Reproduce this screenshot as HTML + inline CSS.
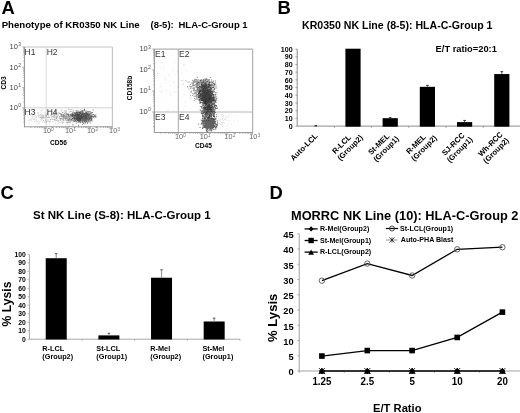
<!DOCTYPE html>
<html><head><meta charset="utf-8"><style>
html,body{margin:0;padding:0;background:#fff;width:520px;height:413px;overflow:hidden}
svg{display:block;will-change:transform}
text{font-family:"Liberation Sans", sans-serif}
</style></head><body>
<svg width="520" height="413" viewBox="0 0 520 413" font-family='"Liberation Sans", sans-serif'>
<defs><filter id="bl" x="-5%" y="-5%" width="110%" height="110%"><feGaussianBlur stdDeviation="0.35"/></filter></defs>
<rect width="520" height="413" fill="#fff"/>
<text x="1.40" y="13.90" font-size="18.4" font-weight="bold" text-anchor="start" fill="#000" >A</text>
<text x="277.60" y="13.90" font-size="18.4" font-weight="bold" text-anchor="start" fill="#000" >B</text>
<text x="0.60" y="199.40" font-size="18.4" font-weight="bold" text-anchor="start" fill="#000" >C</text>
<text x="269.60" y="199.40" font-size="18.4" font-weight="bold" text-anchor="start" fill="#000" >D</text>
<text x="1.70" y="28.00" font-size="9.65" font-weight="bold" text-anchor="start" fill="#000" >Phenotype of KR0350 NK Line</text>
<text x="150.50" y="28.00" font-size="9.5" font-weight="bold" text-anchor="start" fill="#000" >(8-5):</text>
<text x="178.50" y="28.00" font-size="9.5" font-weight="bold" text-anchor="start" fill="#000" >HLA-C-Group 1</text>
<line x1="24.50" y1="47.00" x2="112.40" y2="47.00" stroke="#c4c4c4" stroke-width="1.2" />
<line x1="112.40" y1="47.00" x2="112.40" y2="126.80" stroke="#c4c4c4" stroke-width="1.2" />
<line x1="46.20" y1="47.00" x2="46.20" y2="126.80" stroke="#d8d8d8" stroke-width="1" />
<line x1="24.50" y1="107.80" x2="112.40" y2="107.80" stroke="#d0d0d0" stroke-width="1" />
<line x1="24.50" y1="47.00" x2="24.50" y2="127.30" stroke="#9a9a9a" stroke-width="1.1" />
<line x1="24.00" y1="126.80" x2="112.40" y2="126.80" stroke="#9a9a9a" stroke-width="1.1" />
<line x1="23.20" y1="121.97" x2="24.50" y2="121.97" stroke="#9a9a9a" stroke-width="0.8" />
<line x1="23.20" y1="118.40" x2="24.50" y2="118.40" stroke="#9a9a9a" stroke-width="0.8" />
<line x1="23.20" y1="115.86" x2="24.50" y2="115.86" stroke="#9a9a9a" stroke-width="0.8" />
<line x1="23.20" y1="113.90" x2="24.50" y2="113.90" stroke="#9a9a9a" stroke-width="0.8" />
<line x1="23.20" y1="112.30" x2="24.50" y2="112.30" stroke="#9a9a9a" stroke-width="0.8" />
<line x1="23.20" y1="110.94" x2="24.50" y2="110.94" stroke="#9a9a9a" stroke-width="0.8" />
<line x1="23.20" y1="109.76" x2="24.50" y2="109.76" stroke="#9a9a9a" stroke-width="0.8" />
<line x1="23.20" y1="108.73" x2="24.50" y2="108.73" stroke="#9a9a9a" stroke-width="0.8" />
<line x1="22.30" y1="107.80" x2="24.50" y2="107.80" stroke="#9a9a9a" stroke-width="0.8" />
<line x1="23.20" y1="101.70" x2="24.50" y2="101.70" stroke="#9a9a9a" stroke-width="0.8" />
<line x1="23.20" y1="98.13" x2="24.50" y2="98.13" stroke="#9a9a9a" stroke-width="0.8" />
<line x1="23.20" y1="95.60" x2="24.50" y2="95.60" stroke="#9a9a9a" stroke-width="0.8" />
<line x1="23.20" y1="93.63" x2="24.50" y2="93.63" stroke="#9a9a9a" stroke-width="0.8" />
<line x1="23.20" y1="92.03" x2="24.50" y2="92.03" stroke="#9a9a9a" stroke-width="0.8" />
<line x1="23.20" y1="90.67" x2="24.50" y2="90.67" stroke="#9a9a9a" stroke-width="0.8" />
<line x1="23.20" y1="89.50" x2="24.50" y2="89.50" stroke="#9a9a9a" stroke-width="0.8" />
<line x1="23.20" y1="88.46" x2="24.50" y2="88.46" stroke="#9a9a9a" stroke-width="0.8" />
<line x1="22.30" y1="87.53" x2="24.50" y2="87.53" stroke="#9a9a9a" stroke-width="0.8" />
<line x1="23.20" y1="81.43" x2="24.50" y2="81.43" stroke="#9a9a9a" stroke-width="0.8" />
<line x1="23.20" y1="77.86" x2="24.50" y2="77.86" stroke="#9a9a9a" stroke-width="0.8" />
<line x1="23.20" y1="75.33" x2="24.50" y2="75.33" stroke="#9a9a9a" stroke-width="0.8" />
<line x1="23.20" y1="73.37" x2="24.50" y2="73.37" stroke="#9a9a9a" stroke-width="0.8" />
<line x1="23.20" y1="71.76" x2="24.50" y2="71.76" stroke="#9a9a9a" stroke-width="0.8" />
<line x1="23.20" y1="70.41" x2="24.50" y2="70.41" stroke="#9a9a9a" stroke-width="0.8" />
<line x1="23.20" y1="69.23" x2="24.50" y2="69.23" stroke="#9a9a9a" stroke-width="0.8" />
<line x1="23.20" y1="68.19" x2="24.50" y2="68.19" stroke="#9a9a9a" stroke-width="0.8" />
<line x1="22.30" y1="67.27" x2="24.50" y2="67.27" stroke="#9a9a9a" stroke-width="0.8" />
<line x1="23.20" y1="61.17" x2="24.50" y2="61.17" stroke="#9a9a9a" stroke-width="0.8" />
<line x1="23.20" y1="57.60" x2="24.50" y2="57.60" stroke="#9a9a9a" stroke-width="0.8" />
<line x1="23.20" y1="55.06" x2="24.50" y2="55.06" stroke="#9a9a9a" stroke-width="0.8" />
<line x1="23.20" y1="53.10" x2="24.50" y2="53.10" stroke="#9a9a9a" stroke-width="0.8" />
<line x1="23.20" y1="51.50" x2="24.50" y2="51.50" stroke="#9a9a9a" stroke-width="0.8" />
<line x1="23.20" y1="50.14" x2="24.50" y2="50.14" stroke="#9a9a9a" stroke-width="0.8" />
<line x1="23.20" y1="48.96" x2="24.50" y2="48.96" stroke="#9a9a9a" stroke-width="0.8" />
<line x1="23.20" y1="47.93" x2="24.50" y2="47.93" stroke="#9a9a9a" stroke-width="0.8" />
<line x1="30.78" y1="126.80" x2="30.78" y2="128.10" stroke="#9a9a9a" stroke-width="0.8" />
<line x1="34.66" y1="126.80" x2="34.66" y2="128.10" stroke="#9a9a9a" stroke-width="0.8" />
<line x1="37.42" y1="126.80" x2="37.42" y2="128.10" stroke="#9a9a9a" stroke-width="0.8" />
<line x1="39.56" y1="126.80" x2="39.56" y2="128.10" stroke="#9a9a9a" stroke-width="0.8" />
<line x1="41.30" y1="126.80" x2="41.30" y2="128.10" stroke="#9a9a9a" stroke-width="0.8" />
<line x1="42.78" y1="126.80" x2="42.78" y2="128.10" stroke="#9a9a9a" stroke-width="0.8" />
<line x1="44.06" y1="126.80" x2="44.06" y2="128.10" stroke="#9a9a9a" stroke-width="0.8" />
<line x1="45.19" y1="126.80" x2="45.19" y2="128.10" stroke="#9a9a9a" stroke-width="0.8" />
<line x1="46.20" y1="126.80" x2="46.20" y2="129.00" stroke="#9a9a9a" stroke-width="0.8" />
<line x1="52.84" y1="126.80" x2="52.84" y2="128.10" stroke="#9a9a9a" stroke-width="0.8" />
<line x1="56.73" y1="126.80" x2="56.73" y2="128.10" stroke="#9a9a9a" stroke-width="0.8" />
<line x1="59.49" y1="126.80" x2="59.49" y2="128.10" stroke="#9a9a9a" stroke-width="0.8" />
<line x1="61.62" y1="126.80" x2="61.62" y2="128.10" stroke="#9a9a9a" stroke-width="0.8" />
<line x1="63.37" y1="126.80" x2="63.37" y2="128.10" stroke="#9a9a9a" stroke-width="0.8" />
<line x1="64.85" y1="126.80" x2="64.85" y2="128.10" stroke="#9a9a9a" stroke-width="0.8" />
<line x1="66.13" y1="126.80" x2="66.13" y2="128.10" stroke="#9a9a9a" stroke-width="0.8" />
<line x1="67.26" y1="126.80" x2="67.26" y2="128.10" stroke="#9a9a9a" stroke-width="0.8" />
<line x1="68.27" y1="126.80" x2="68.27" y2="129.00" stroke="#9a9a9a" stroke-width="0.8" />
<line x1="74.91" y1="126.80" x2="74.91" y2="128.10" stroke="#9a9a9a" stroke-width="0.8" />
<line x1="78.80" y1="126.80" x2="78.80" y2="128.10" stroke="#9a9a9a" stroke-width="0.8" />
<line x1="81.55" y1="126.80" x2="81.55" y2="128.10" stroke="#9a9a9a" stroke-width="0.8" />
<line x1="83.69" y1="126.80" x2="83.69" y2="128.10" stroke="#9a9a9a" stroke-width="0.8" />
<line x1="85.44" y1="126.80" x2="85.44" y2="128.10" stroke="#9a9a9a" stroke-width="0.8" />
<line x1="86.92" y1="126.80" x2="86.92" y2="128.10" stroke="#9a9a9a" stroke-width="0.8" />
<line x1="88.19" y1="126.80" x2="88.19" y2="128.10" stroke="#9a9a9a" stroke-width="0.8" />
<line x1="89.32" y1="126.80" x2="89.32" y2="128.10" stroke="#9a9a9a" stroke-width="0.8" />
<line x1="90.33" y1="126.80" x2="90.33" y2="129.00" stroke="#9a9a9a" stroke-width="0.8" />
<line x1="96.98" y1="126.80" x2="96.98" y2="128.10" stroke="#9a9a9a" stroke-width="0.8" />
<line x1="100.86" y1="126.80" x2="100.86" y2="128.10" stroke="#9a9a9a" stroke-width="0.8" />
<line x1="103.62" y1="126.80" x2="103.62" y2="128.10" stroke="#9a9a9a" stroke-width="0.8" />
<line x1="105.76" y1="126.80" x2="105.76" y2="128.10" stroke="#9a9a9a" stroke-width="0.8" />
<line x1="107.50" y1="126.80" x2="107.50" y2="128.10" stroke="#9a9a9a" stroke-width="0.8" />
<line x1="108.98" y1="126.80" x2="108.98" y2="128.10" stroke="#9a9a9a" stroke-width="0.8" />
<line x1="110.26" y1="126.80" x2="110.26" y2="128.10" stroke="#9a9a9a" stroke-width="0.8" />
<line x1="111.39" y1="126.80" x2="111.39" y2="128.10" stroke="#9a9a9a" stroke-width="0.8" />
<line x1="112.40" y1="126.80" x2="112.40" y2="129.00" stroke="#9a9a9a" stroke-width="0.8" />
<line x1="22.30" y1="47.00" x2="24.50" y2="47.00" stroke="#9a9a9a" stroke-width="0.8" />
<text x="17.90" y="110.10" font-size="7.5" font-weight="normal" text-anchor="end" fill="#444" >10</text>
<text x="18.20" y="107.20" font-size="5.2" font-weight="normal" text-anchor="start" fill="#555" >0</text>
<text x="17.90" y="89.83" font-size="7.5" font-weight="normal" text-anchor="end" fill="#444" >10</text>
<text x="18.20" y="86.93" font-size="5.2" font-weight="normal" text-anchor="start" fill="#555" >1</text>
<text x="17.90" y="69.57" font-size="7.5" font-weight="normal" text-anchor="end" fill="#444" >10</text>
<text x="18.20" y="66.67" font-size="5.2" font-weight="normal" text-anchor="start" fill="#555" >2</text>
<text x="17.90" y="49.30" font-size="7.5" font-weight="normal" text-anchor="end" fill="#444" >10</text>
<text x="18.20" y="46.40" font-size="5.2" font-weight="normal" text-anchor="start" fill="#555" >3</text>
<text x="42.90" y="133.40" font-size="7.3" font-weight="normal" text-anchor="start" fill="#666" >10</text>
<text x="51.00" y="130.80" font-size="5" font-weight="normal" text-anchor="start" fill="#777" >0</text>
<text x="64.97" y="133.40" font-size="7.3" font-weight="normal" text-anchor="start" fill="#666" >10</text>
<text x="73.07" y="130.80" font-size="5" font-weight="normal" text-anchor="start" fill="#777" >1</text>
<text x="87.03" y="133.40" font-size="7.3" font-weight="normal" text-anchor="start" fill="#666" >10</text>
<text x="95.13" y="130.80" font-size="5" font-weight="normal" text-anchor="start" fill="#777" >2</text>
<text x="109.10" y="133.40" font-size="7.3" font-weight="normal" text-anchor="start" fill="#666" >10</text>
<text x="117.20" y="130.80" font-size="5" font-weight="normal" text-anchor="start" fill="#777" >3</text>
<text x="24.60" y="54.70" font-size="8.5" font-weight="normal" text-anchor="start" fill="#333" >H1</text>
<text x="46.70" y="54.70" font-size="8.5" font-weight="normal" text-anchor="start" fill="#333" >H2</text>
<text x="24.60" y="114.70" font-size="8.5" font-weight="normal" text-anchor="start" fill="#333" >H3</text>
<text x="46.70" y="114.70" font-size="8.5" font-weight="normal" text-anchor="start" fill="#333" >H4</text>
<text x="58.50" y="145.00" font-size="6.6" font-weight="bold" text-anchor="middle" fill="#000" >CD56</text>
<text x="0.00" y="0.00" font-size="6.6" font-weight="bold" text-anchor="middle" fill="#000" transform="translate(6.2,83) rotate(-90)">CD3</text>
<line x1="154.40" y1="49.10" x2="252.60" y2="49.10" stroke="#b0b0b0" stroke-width="1.2" />
<line x1="252.60" y1="49.10" x2="252.60" y2="132.50" stroke="#b0b0b0" stroke-width="1.2" />
<line x1="178.30" y1="49.10" x2="178.30" y2="132.50" stroke="#a8a8a8" stroke-width="1" />
<line x1="154.40" y1="112.00" x2="252.60" y2="112.00" stroke="#b4b4b4" stroke-width="1" />
<line x1="154.40" y1="49.10" x2="154.40" y2="133.00" stroke="#9a9a9a" stroke-width="1.1" />
<line x1="153.90" y1="132.50" x2="252.60" y2="132.50" stroke="#9a9a9a" stroke-width="1.1" />
<line x1="153.10" y1="126.66" x2="154.40" y2="126.66" stroke="#9a9a9a" stroke-width="0.8" />
<line x1="153.10" y1="122.96" x2="154.40" y2="122.96" stroke="#9a9a9a" stroke-width="0.8" />
<line x1="153.10" y1="120.34" x2="154.40" y2="120.34" stroke="#9a9a9a" stroke-width="0.8" />
<line x1="153.10" y1="118.31" x2="154.40" y2="118.31" stroke="#9a9a9a" stroke-width="0.8" />
<line x1="153.10" y1="116.65" x2="154.40" y2="116.65" stroke="#9a9a9a" stroke-width="0.8" />
<line x1="153.10" y1="115.25" x2="154.40" y2="115.25" stroke="#9a9a9a" stroke-width="0.8" />
<line x1="153.10" y1="114.03" x2="154.40" y2="114.03" stroke="#9a9a9a" stroke-width="0.8" />
<line x1="153.10" y1="112.96" x2="154.40" y2="112.96" stroke="#9a9a9a" stroke-width="0.8" />
<line x1="152.20" y1="112.00" x2="154.40" y2="112.00" stroke="#9a9a9a" stroke-width="0.8" />
<line x1="153.10" y1="105.69" x2="154.40" y2="105.69" stroke="#9a9a9a" stroke-width="0.8" />
<line x1="153.10" y1="102.00" x2="154.40" y2="102.00" stroke="#9a9a9a" stroke-width="0.8" />
<line x1="153.10" y1="99.38" x2="154.40" y2="99.38" stroke="#9a9a9a" stroke-width="0.8" />
<line x1="153.10" y1="97.34" x2="154.40" y2="97.34" stroke="#9a9a9a" stroke-width="0.8" />
<line x1="153.10" y1="95.68" x2="154.40" y2="95.68" stroke="#9a9a9a" stroke-width="0.8" />
<line x1="153.10" y1="94.28" x2="154.40" y2="94.28" stroke="#9a9a9a" stroke-width="0.8" />
<line x1="153.10" y1="93.07" x2="154.40" y2="93.07" stroke="#9a9a9a" stroke-width="0.8" />
<line x1="153.10" y1="91.99" x2="154.40" y2="91.99" stroke="#9a9a9a" stroke-width="0.8" />
<line x1="152.20" y1="91.03" x2="154.40" y2="91.03" stroke="#9a9a9a" stroke-width="0.8" />
<line x1="153.10" y1="84.72" x2="154.40" y2="84.72" stroke="#9a9a9a" stroke-width="0.8" />
<line x1="153.10" y1="81.03" x2="154.40" y2="81.03" stroke="#9a9a9a" stroke-width="0.8" />
<line x1="153.10" y1="78.41" x2="154.40" y2="78.41" stroke="#9a9a9a" stroke-width="0.8" />
<line x1="153.10" y1="76.38" x2="154.40" y2="76.38" stroke="#9a9a9a" stroke-width="0.8" />
<line x1="153.10" y1="74.72" x2="154.40" y2="74.72" stroke="#9a9a9a" stroke-width="0.8" />
<line x1="153.10" y1="73.31" x2="154.40" y2="73.31" stroke="#9a9a9a" stroke-width="0.8" />
<line x1="153.10" y1="72.10" x2="154.40" y2="72.10" stroke="#9a9a9a" stroke-width="0.8" />
<line x1="153.10" y1="71.03" x2="154.40" y2="71.03" stroke="#9a9a9a" stroke-width="0.8" />
<line x1="152.20" y1="70.07" x2="154.40" y2="70.07" stroke="#9a9a9a" stroke-width="0.8" />
<line x1="153.10" y1="63.76" x2="154.40" y2="63.76" stroke="#9a9a9a" stroke-width="0.8" />
<line x1="153.10" y1="60.06" x2="154.40" y2="60.06" stroke="#9a9a9a" stroke-width="0.8" />
<line x1="153.10" y1="57.44" x2="154.40" y2="57.44" stroke="#9a9a9a" stroke-width="0.8" />
<line x1="153.10" y1="55.41" x2="154.40" y2="55.41" stroke="#9a9a9a" stroke-width="0.8" />
<line x1="153.10" y1="53.75" x2="154.40" y2="53.75" stroke="#9a9a9a" stroke-width="0.8" />
<line x1="153.10" y1="52.35" x2="154.40" y2="52.35" stroke="#9a9a9a" stroke-width="0.8" />
<line x1="153.10" y1="51.13" x2="154.40" y2="51.13" stroke="#9a9a9a" stroke-width="0.8" />
<line x1="153.10" y1="50.06" x2="154.40" y2="50.06" stroke="#9a9a9a" stroke-width="0.8" />
<line x1="160.99" y1="132.50" x2="160.99" y2="133.80" stroke="#9a9a9a" stroke-width="0.8" />
<line x1="165.35" y1="132.50" x2="165.35" y2="133.80" stroke="#9a9a9a" stroke-width="0.8" />
<line x1="168.44" y1="132.50" x2="168.44" y2="133.80" stroke="#9a9a9a" stroke-width="0.8" />
<line x1="170.84" y1="132.50" x2="170.84" y2="133.80" stroke="#9a9a9a" stroke-width="0.8" />
<line x1="172.81" y1="132.50" x2="172.81" y2="133.80" stroke="#9a9a9a" stroke-width="0.8" />
<line x1="174.46" y1="132.50" x2="174.46" y2="133.80" stroke="#9a9a9a" stroke-width="0.8" />
<line x1="175.90" y1="132.50" x2="175.90" y2="133.80" stroke="#9a9a9a" stroke-width="0.8" />
<line x1="177.17" y1="132.50" x2="177.17" y2="133.80" stroke="#9a9a9a" stroke-width="0.8" />
<line x1="178.30" y1="132.50" x2="178.30" y2="134.70" stroke="#9a9a9a" stroke-width="0.8" />
<line x1="185.76" y1="132.50" x2="185.76" y2="133.80" stroke="#9a9a9a" stroke-width="0.8" />
<line x1="190.12" y1="132.50" x2="190.12" y2="133.80" stroke="#9a9a9a" stroke-width="0.8" />
<line x1="193.21" y1="132.50" x2="193.21" y2="133.80" stroke="#9a9a9a" stroke-width="0.8" />
<line x1="195.61" y1="132.50" x2="195.61" y2="133.80" stroke="#9a9a9a" stroke-width="0.8" />
<line x1="197.57" y1="132.50" x2="197.57" y2="133.80" stroke="#9a9a9a" stroke-width="0.8" />
<line x1="199.23" y1="132.50" x2="199.23" y2="133.80" stroke="#9a9a9a" stroke-width="0.8" />
<line x1="200.67" y1="132.50" x2="200.67" y2="133.80" stroke="#9a9a9a" stroke-width="0.8" />
<line x1="201.93" y1="132.50" x2="201.93" y2="133.80" stroke="#9a9a9a" stroke-width="0.8" />
<line x1="203.07" y1="132.50" x2="203.07" y2="134.70" stroke="#9a9a9a" stroke-width="0.8" />
<line x1="210.52" y1="132.50" x2="210.52" y2="133.80" stroke="#9a9a9a" stroke-width="0.8" />
<line x1="214.88" y1="132.50" x2="214.88" y2="133.80" stroke="#9a9a9a" stroke-width="0.8" />
<line x1="217.98" y1="132.50" x2="217.98" y2="133.80" stroke="#9a9a9a" stroke-width="0.8" />
<line x1="220.38" y1="132.50" x2="220.38" y2="133.80" stroke="#9a9a9a" stroke-width="0.8" />
<line x1="222.34" y1="132.50" x2="222.34" y2="133.80" stroke="#9a9a9a" stroke-width="0.8" />
<line x1="224.00" y1="132.50" x2="224.00" y2="133.80" stroke="#9a9a9a" stroke-width="0.8" />
<line x1="225.43" y1="132.50" x2="225.43" y2="133.80" stroke="#9a9a9a" stroke-width="0.8" />
<line x1="226.70" y1="132.50" x2="226.70" y2="133.80" stroke="#9a9a9a" stroke-width="0.8" />
<line x1="227.83" y1="132.50" x2="227.83" y2="134.70" stroke="#9a9a9a" stroke-width="0.8" />
<line x1="235.29" y1="132.50" x2="235.29" y2="133.80" stroke="#9a9a9a" stroke-width="0.8" />
<line x1="239.65" y1="132.50" x2="239.65" y2="133.80" stroke="#9a9a9a" stroke-width="0.8" />
<line x1="242.74" y1="132.50" x2="242.74" y2="133.80" stroke="#9a9a9a" stroke-width="0.8" />
<line x1="245.14" y1="132.50" x2="245.14" y2="133.80" stroke="#9a9a9a" stroke-width="0.8" />
<line x1="247.11" y1="132.50" x2="247.11" y2="133.80" stroke="#9a9a9a" stroke-width="0.8" />
<line x1="248.76" y1="132.50" x2="248.76" y2="133.80" stroke="#9a9a9a" stroke-width="0.8" />
<line x1="250.20" y1="132.50" x2="250.20" y2="133.80" stroke="#9a9a9a" stroke-width="0.8" />
<line x1="251.47" y1="132.50" x2="251.47" y2="133.80" stroke="#9a9a9a" stroke-width="0.8" />
<line x1="252.60" y1="132.50" x2="252.60" y2="134.70" stroke="#9a9a9a" stroke-width="0.8" />
<line x1="152.20" y1="49.10" x2="154.40" y2="49.10" stroke="#9a9a9a" stroke-width="0.8" />
<text x="147.80" y="114.30" font-size="7.5" font-weight="normal" text-anchor="end" fill="#444" >10</text>
<text x="148.10" y="111.40" font-size="5.2" font-weight="normal" text-anchor="start" fill="#555" >0</text>
<text x="147.80" y="93.33" font-size="7.5" font-weight="normal" text-anchor="end" fill="#444" >10</text>
<text x="148.10" y="90.43" font-size="5.2" font-weight="normal" text-anchor="start" fill="#555" >1</text>
<text x="147.80" y="72.37" font-size="7.5" font-weight="normal" text-anchor="end" fill="#444" >10</text>
<text x="148.10" y="69.47" font-size="5.2" font-weight="normal" text-anchor="start" fill="#555" >2</text>
<text x="147.80" y="51.40" font-size="7.5" font-weight="normal" text-anchor="end" fill="#444" >10</text>
<text x="148.10" y="48.50" font-size="5.2" font-weight="normal" text-anchor="start" fill="#555" >3</text>
<text x="175.00" y="139.10" font-size="7.3" font-weight="normal" text-anchor="start" fill="#666" >10</text>
<text x="183.10" y="136.50" font-size="5" font-weight="normal" text-anchor="start" fill="#777" >0</text>
<text x="199.77" y="139.10" font-size="7.3" font-weight="normal" text-anchor="start" fill="#666" >10</text>
<text x="207.87" y="136.50" font-size="5" font-weight="normal" text-anchor="start" fill="#777" >1</text>
<text x="224.53" y="139.10" font-size="7.3" font-weight="normal" text-anchor="start" fill="#666" >10</text>
<text x="232.63" y="136.50" font-size="5" font-weight="normal" text-anchor="start" fill="#777" >2</text>
<text x="249.30" y="139.10" font-size="7.3" font-weight="normal" text-anchor="start" fill="#666" >10</text>
<text x="257.40" y="136.50" font-size="5" font-weight="normal" text-anchor="start" fill="#777" >3</text>
<text x="155.00" y="57.10" font-size="8.5" font-weight="normal" text-anchor="start" fill="#333" >E1</text>
<text x="179.00" y="57.10" font-size="8.5" font-weight="normal" text-anchor="start" fill="#333" >E2</text>
<text x="155.00" y="119.60" font-size="8.5" font-weight="normal" text-anchor="start" fill="#333" >E3</text>
<text x="179.00" y="119.60" font-size="8.5" font-weight="normal" text-anchor="start" fill="#333" >E4</text>
<text x="203.50" y="147.50" font-size="6.6" font-weight="bold" text-anchor="middle" fill="#000" >CD45</text>
<text x="0.00" y="0.00" font-size="6.6" font-weight="bold" text-anchor="middle" fill="#000" transform="translate(132.3,88) rotate(-90)">CD158b</text>
<g filter="url(#bl)">
<path d="M92.7 109.6h.9v.9h-.9zM84.6 114.7h.9v.9h-.9zM80.2 115.6h.9v.9h-.9zM72.4 115.6h.9v.9h-.9zM78.2 124.8h.9v.9h-.9zM83.6 115.3h.9v.9h-.9zM81.1 114.5h.9v.9h-.9zM77.2 115.2h.9v.9h-.9zM84.9 115.6h.9v.9h-.9zM87.3 115.7h.9v.9h-.9zM82.6 120.2h.9v.9h-.9zM85.2 114.9h.9v.9h-.9zM81.6 117.6h.9v.9h-.9zM92.2 115.5h.9v.9h-.9zM81.3 118.8h.9v.9h-.9zM78.1 115.4h.9v.9h-.9zM86.9 117.7h.9v.9h-.9zM83.0 117.9h.9v.9h-.9zM68.4 118.9h.9v.9h-.9zM77.7 111.9h.9v.9h-.9zM83.9 118.0h.9v.9h-.9zM80.3 113.4h.9v.9h-.9zM82.6 116.1h.9v.9h-.9zM89.5 118.1h.9v.9h-.9zM83.5 119.1h.9v.9h-.9zM81.5 113.8h.9v.9h-.9zM85.4 117.7h.9v.9h-.9zM81.4 114.2h.9v.9h-.9zM83.6 109.7h.9v.9h-.9zM86.0 117.5h.9v.9h-.9zM74.3 116.4h.9v.9h-.9zM77.7 118.2h.9v.9h-.9zM72.3 113.8h.9v.9h-.9zM86.0 119.2h.9v.9h-.9zM71.7 114.9h.9v.9h-.9zM84.1 114.6h.9v.9h-.9zM90.5 113.1h.9v.9h-.9zM84.3 113.5h.9v.9h-.9zM89.5 116.1h.9v.9h-.9zM80.6 111.7h.9v.9h-.9zM90.9 118.2h.9v.9h-.9zM86.3 119.2h.9v.9h-.9zM84.2 114.5h.9v.9h-.9zM78.5 114.1h.9v.9h-.9zM89.4 112.4h.9v.9h-.9zM79.5 115.4h.9v.9h-.9zM83.6 117.7h.9v.9h-.9zM76.3 111.7h.9v.9h-.9zM82.5 119.4h.9v.9h-.9zM86.3 116.8h.9v.9h-.9zM80.9 117.0h.9v.9h-.9zM81.3 118.3h.9v.9h-.9zM78.5 116.5h.9v.9h-.9zM81.9 117.6h.9v.9h-.9zM83.6 122.8h.9v.9h-.9zM90.0 120.1h.9v.9h-.9zM72.3 115.3h.9v.9h-.9zM79.5 117.6h.9v.9h-.9zM71.1 119.3h.9v.9h-.9zM87.8 112.8h.9v.9h-.9zM77.6 114.1h.9v.9h-.9zM82.7 117.9h.9v.9h-.9zM92.7 115.7h.9v.9h-.9zM86.3 116.6h.9v.9h-.9zM91.3 118.1h.9v.9h-.9zM89.3 113.4h.9v.9h-.9zM81.5 114.1h.9v.9h-.9zM90.0 117.9h.9v.9h-.9zM81.0 115.0h.9v.9h-.9zM84.9 114.4h.9v.9h-.9zM77.8 117.5h.9v.9h-.9zM94.8 115.6h.9v.9h-.9zM79.7 113.2h.9v.9h-.9zM75.8 117.6h.9v.9h-.9zM86.8 116.2h.9v.9h-.9zM84.2 116.5h.9v.9h-.9zM83.2 112.2h.9v.9h-.9zM80.2 116.5h.9v.9h-.9zM78.6 115.0h.9v.9h-.9zM78.4 115.3h.9v.9h-.9zM86.8 115.1h.9v.9h-.9zM81.7 118.3h.9v.9h-.9zM85.7 120.6h.9v.9h-.9zM72.0 118.4h.9v.9h-.9zM80.1 116.6h.9v.9h-.9zM86.7 119.0h.9v.9h-.9zM87.7 116.6h.9v.9h-.9zM90.5 115.5h.9v.9h-.9zM81.8 118.3h.9v.9h-.9zM79.7 121.8h.9v.9h-.9zM87.6 121.9h.9v.9h-.9zM82.4 115.2h.9v.9h-.9zM83.3 118.1h.9v.9h-.9zM79.6 117.2h.9v.9h-.9zM82.4 120.4h.9v.9h-.9zM79.2 118.9h.9v.9h-.9zM79.3 113.7h.9v.9h-.9zM78.9 113.1h.9v.9h-.9zM83.2 118.9h.9v.9h-.9zM83.3 117.8h.9v.9h-.9zM90.7 116.9h.9v.9h-.9zM83.5 115.5h.9v.9h-.9zM74.5 118.2h.9v.9h-.9zM73.7 117.9h.9v.9h-.9zM82.4 119.1h.9v.9h-.9zM82.2 114.1h.9v.9h-.9zM84.3 114.7h.9v.9h-.9zM81.6 116.3h.9v.9h-.9zM81.8 115.7h.9v.9h-.9zM78.3 115.7h.9v.9h-.9zM71.8 115.8h.9v.9h-.9zM76.5 119.1h.9v.9h-.9zM88.8 111.1h.9v.9h-.9zM83.2 115.9h.9v.9h-.9zM77.3 117.6h.9v.9h-.9zM80.2 111.6h.9v.9h-.9zM81.2 115.8h.9v.9h-.9zM83.0 113.0h.9v.9h-.9zM85.6 118.1h.9v.9h-.9zM76.8 114.5h.9v.9h-.9zM82.1 114.7h.9v.9h-.9zM91.2 116.7h.9v.9h-.9zM77.4 114.2h.9v.9h-.9zM82.2 122.2h.9v.9h-.9zM81.6 116.5h.9v.9h-.9zM85.1 116.1h.9v.9h-.9zM93.9 114.8h.9v.9h-.9zM86.2 116.6h.9v.9h-.9zM85.6 113.1h.9v.9h-.9zM91.3 115.9h.9v.9h-.9zM82.7 113.8h.9v.9h-.9zM78.9 117.7h.9v.9h-.9zM87.4 118.2h.9v.9h-.9zM88.5 118.1h.9v.9h-.9zM82.6 118.4h.9v.9h-.9zM85.5 115.9h.9v.9h-.9zM86.1 119.5h.9v.9h-.9zM83.7 115.3h.9v.9h-.9zM86.1 121.1h.9v.9h-.9zM81.4 116.0h.9v.9h-.9zM81.8 119.4h.9v.9h-.9zM73.3 117.2h.9v.9h-.9zM88.5 114.1h.9v.9h-.9zM89.9 117.6h.9v.9h-.9zM79.8 116.7h.9v.9h-.9zM74.8 114.7h.9v.9h-.9zM91.6 113.9h.9v.9h-.9zM91.7 116.0h.9v.9h-.9zM87.5 116.3h.9v.9h-.9zM71.3 114.7h.9v.9h-.9zM83.4 113.2h.9v.9h-.9zM75.8 117.2h.9v.9h-.9zM79.3 111.8h.9v.9h-.9zM79.1 118.4h.9v.9h-.9zM80.1 118.6h.9v.9h-.9zM90.1 116.3h.9v.9h-.9zM76.9 112.8h.9v.9h-.9zM82.4 118.5h.9v.9h-.9zM83.8 117.6h.9v.9h-.9zM80.3 117.0h.9v.9h-.9zM80.1 115.4h.9v.9h-.9zM76.0 112.1h.9v.9h-.9zM80.1 113.3h.9v.9h-.9zM77.7 117.9h.9v.9h-.9zM82.0 123.8h.9v.9h-.9zM87.1 114.6h.9v.9h-.9zM86.4 117.1h.9v.9h-.9zM79.1 119.1h.9v.9h-.9zM86.5 114.6h.9v.9h-.9zM89.9 114.5h.9v.9h-.9zM76.6 120.2h.9v.9h-.9zM77.1 116.7h.9v.9h-.9zM89.7 116.5h.9v.9h-.9zM82.1 116.5h.9v.9h-.9zM86.7 114.1h.9v.9h-.9zM85.6 117.7h.9v.9h-.9zM94.2 115.3h.9v.9h-.9zM77.9 118.1h.9v.9h-.9zM80.5 117.0h.9v.9h-.9zM83.2 119.2h.9v.9h-.9zM79.2 116.0h.9v.9h-.9zM69.7 113.9h.9v.9h-.9zM90.2 114.4h.9v.9h-.9zM79.0 113.0h.9v.9h-.9zM85.4 116.7h.9v.9h-.9zM76.6 117.9h.9v.9h-.9zM83.8 118.2h.9v.9h-.9zM79.3 120.7h.9v.9h-.9zM84.5 115.9h.9v.9h-.9zM79.9 115.6h.9v.9h-.9zM86.8 115.5h.9v.9h-.9zM87.9 117.7h.9v.9h-.9zM89.2 118.3h.9v.9h-.9zM82.2 111.2h.9v.9h-.9zM84.0 118.3h.9v.9h-.9zM83.3 117.6h.9v.9h-.9zM80.1 115.2h.9v.9h-.9zM77.8 119.7h.9v.9h-.9zM83.3 114.9h.9v.9h-.9zM75.8 115.8h.9v.9h-.9zM89.7 117.4h.9v.9h-.9zM78.9 119.9h.9v.9h-.9zM89.6 118.8h.9v.9h-.9zM86.4 119.2h.9v.9h-.9zM85.2 118.2h.9v.9h-.9zM78.6 120.1h.9v.9h-.9zM83.7 121.5h.9v.9h-.9zM72.3 118.0h.9v.9h-.9zM87.4 115.3h.9v.9h-.9zM84.8 118.1h.9v.9h-.9zM85.4 114.8h.9v.9h-.9zM81.8 118.8h.9v.9h-.9zM88.9 116.5h.9v.9h-.9zM82.9 116.7h.9v.9h-.9zM87.7 113.5h.9v.9h-.9zM75.9 116.5h.9v.9h-.9zM77.0 114.7h.9v.9h-.9zM82.9 117.5h.9v.9h-.9zM77.1 118.3h.9v.9h-.9zM73.6 117.6h.9v.9h-.9zM74.6 112.9h.9v.9h-.9zM85.7 115.1h.9v.9h-.9zM78.5 115.0h.9v.9h-.9zM84.8 116.1h.9v.9h-.9zM82.4 118.9h.9v.9h-.9zM78.9 115.0h.9v.9h-.9zM79.9 119.2h.9v.9h-.9zM87.5 119.5h.9v.9h-.9zM82.3 115.8h.9v.9h-.9zM86.8 115.2h.9v.9h-.9zM86.7 118.1h.9v.9h-.9zM79.0 116.0h.9v.9h-.9zM81.9 120.7h.9v.9h-.9zM95.4 115.9h.9v.9h-.9zM82.6 110.3h.9v.9h-.9zM83.6 116.2h.9v.9h-.9zM77.1 118.2h.9v.9h-.9zM74.7 115.6h.9v.9h-.9zM83.2 113.0h.9v.9h-.9zM86.8 118.9h.9v.9h-.9zM75.6 112.5h.9v.9h-.9zM85.5 116.1h.9v.9h-.9zM76.4 115.4h.9v.9h-.9zM82.0 115.8h.9v.9h-.9zM86.6 117.2h.9v.9h-.9zM91.3 119.8h.9v.9h-.9zM85.9 119.0h.9v.9h-.9zM89.1 118.0h.9v.9h-.9zM76.4 118.4h.9v.9h-.9zM82.9 120.4h.9v.9h-.9zM83.0 117.6h.9v.9h-.9zM84.1 120.6h.9v.9h-.9zM83.4 115.5h.9v.9h-.9zM84.0 115.1h.9v.9h-.9zM83.3 116.2h.9v.9h-.9zM83.9 121.2h.9v.9h-.9zM80.5 116.3h.9v.9h-.9zM81.5 117.9h.9v.9h-.9zM76.6 114.4h.9v.9h-.9zM82.3 117.6h.9v.9h-.9zM82.3 114.9h.9v.9h-.9zM78.2 117.5h.9v.9h-.9zM89.7 117.0h.9v.9h-.9zM83.4 117.4h.9v.9h-.9zM77.8 115.4h.9v.9h-.9zM81.2 117.0h.9v.9h-.9zM82.3 113.0h.9v.9h-.9zM88.1 120.6h.9v.9h-.9zM81.2 117.2h.9v.9h-.9zM83.8 118.2h.9v.9h-.9zM75.1 120.4h.9v.9h-.9zM80.2 119.5h.9v.9h-.9zM82.9 115.2h.9v.9h-.9zM81.8 118.5h.9v.9h-.9zM78.2 115.2h.9v.9h-.9zM80.1 111.7h.9v.9h-.9zM89.0 117.7h.9v.9h-.9zM82.4 119.2h.9v.9h-.9zM77.7 116.0h.9v.9h-.9zM91.1 118.7h.9v.9h-.9zM77.3 119.0h.9v.9h-.9zM80.1 115.6h.9v.9h-.9zM85.5 113.9h.9v.9h-.9zM83.6 118.3h.9v.9h-.9zM84.8 117.2h.9v.9h-.9zM79.5 117.5h.9v.9h-.9zM80.4 119.6h.9v.9h-.9zM95.4 114.3h.9v.9h-.9zM71.6 115.1h.9v.9h-.9zM84.4 118.9h.9v.9h-.9zM87.9 114.2h.9v.9h-.9zM78.5 119.5h.9v.9h-.9zM77.0 119.0h.9v.9h-.9zM81.4 118.2h.9v.9h-.9zM86.0 118.2h.9v.9h-.9zM86.6 113.6h.9v.9h-.9zM84.0 116.2h.9v.9h-.9zM84.0 119.4h.9v.9h-.9zM81.1 114.3h.9v.9h-.9zM78.9 115.4h.9v.9h-.9zM86.3 114.1h.9v.9h-.9zM88.3 117.0h.9v.9h-.9zM81.4 112.7h.9v.9h-.9zM83.7 118.0h.9v.9h-.9zM73.7 119.3h.9v.9h-.9zM90.7 117.1h.9v.9h-.9zM85.0 122.5h.9v.9h-.9zM88.7 113.9h.9v.9h-.9zM82.4 115.8h.9v.9h-.9zM81.7 110.1h.9v.9h-.9zM86.3 114.5h.9v.9h-.9zM83.3 115.8h.9v.9h-.9zM86.9 115.4h.9v.9h-.9zM78.5 117.6h.9v.9h-.9zM89.5 115.4h.9v.9h-.9zM89.3 116.9h.9v.9h-.9zM79.8 120.2h.9v.9h-.9zM78.4 118.8h.9v.9h-.9zM80.0 117.4h.9v.9h-.9zM76.3 114.0h.9v.9h-.9zM87.8 116.7h.9v.9h-.9zM82.7 115.1h.9v.9h-.9zM84.7 112.6h.9v.9h-.9zM76.9 115.8h.9v.9h-.9zM78.3 114.4h.9v.9h-.9zM82.1 115.8h.9v.9h-.9zM81.4 120.5h.9v.9h-.9zM87.6 119.4h.9v.9h-.9zM82.4 114.9h.9v.9h-.9zM75.2 115.3h.9v.9h-.9zM72.1 114.7h.9v.9h-.9zM86.3 120.4h.9v.9h-.9zM87.3 114.0h.9v.9h-.9zM85.0 114.1h.9v.9h-.9zM86.6 115.9h.9v.9h-.9zM86.8 122.9h.9v.9h-.9zM87.1 122.3h.9v.9h-.9zM83.4 115.3h.9v.9h-.9zM89.2 120.7h.9v.9h-.9zM79.7 116.4h.9v.9h-.9zM75.3 115.7h.9v.9h-.9zM86.9 116.0h.9v.9h-.9zM79.7 112.5h.9v.9h-.9zM84.3 118.3h.9v.9h-.9zM85.5 116.9h.9v.9h-.9zM76.1 120.8h.9v.9h-.9zM82.2 115.8h.9v.9h-.9zM86.2 110.6h.9v.9h-.9zM82.2 115.8h.9v.9h-.9zM84.4 119.7h.9v.9h-.9zM84.9 111.4h.9v.9h-.9zM80.8 116.7h.9v.9h-.9zM83.2 112.9h.9v.9h-.9zM74.2 117.6h.9v.9h-.9zM84.2 116.1h.9v.9h-.9zM73.9 120.8h.9v.9h-.9zM68.0 115.3h.9v.9h-.9zM93.0 115.8h.9v.9h-.9zM83.7 113.1h.9v.9h-.9zM89.3 112.8h.9v.9h-.9zM83.8 116.6h.9v.9h-.9zM77.2 118.5h.9v.9h-.9zM75.4 114.4h.9v.9h-.9zM82.4 115.1h.9v.9h-.9zM84.8 118.6h.9v.9h-.9zM81.0 114.8h.9v.9h-.9zM79.9 115.2h.9v.9h-.9zM86.5 115.6h.9v.9h-.9zM84.5 116.0h.9v.9h-.9zM78.3 118.4h.9v.9h-.9zM77.3 116.2h.9v.9h-.9zM89.9 113.4h.9v.9h-.9zM82.2 112.1h.9v.9h-.9zM80.0 112.3h.9v.9h-.9zM80.7 114.8h.9v.9h-.9zM83.2 120.3h.9v.9h-.9zM83.9 117.9h.9v.9h-.9zM82.2 115.6h.9v.9h-.9zM78.3 111.5h.9v.9h-.9zM82.8 120.4h.9v.9h-.9zM84.9 114.8h.9v.9h-.9zM90.7 115.1h.9v.9h-.9zM79.4 113.0h.9v.9h-.9zM77.7 115.6h.9v.9h-.9zM92.5 115.7h.9v.9h-.9zM77.3 114.6h.9v.9h-.9zM81.4 111.7h.9v.9h-.9zM83.1 118.0h.9v.9h-.9zM84.1 117.8h.9v.9h-.9zM76.1 111.8h.9v.9h-.9zM88.9 119.0h.9v.9h-.9zM74.8 116.7h.9v.9h-.9zM82.6 117.6h.9v.9h-.9zM83.5 114.9h.9v.9h-.9zM83.5 116.6h.9v.9h-.9zM82.3 111.4h.9v.9h-.9zM67.5 114.1h.9v.9h-.9zM74.3 116.9h.9v.9h-.9zM86.1 116.9h.9v.9h-.9zM80.7 116.4h.9v.9h-.9zM88.3 114.3h.9v.9h-.9zM87.1 118.0h.9v.9h-.9zM83.8 120.0h.9v.9h-.9zM78.9 118.7h.9v.9h-.9zM77.9 114.2h.9v.9h-.9zM77.2 117.4h.9v.9h-.9zM77.8 116.3h.9v.9h-.9zM76.8 119.0h.9v.9h-.9zM91.7 116.8h.9v.9h-.9zM90.7 117.7h.9v.9h-.9zM93.3 116.5h.9v.9h-.9zM74.6 120.1h.9v.9h-.9zM81.9 113.5h.9v.9h-.9zM79.2 112.0h.9v.9h-.9zM81.7 113.4h.9v.9h-.9zM89.9 117.9h.9v.9h-.9zM74.2 112.3h.9v.9h-.9zM79.7 111.2h.9v.9h-.9zM82.0 116.1h.9v.9h-.9zM78.6 114.8h.9v.9h-.9zM85.0 119.9h.9v.9h-.9zM90.0 116.3h.9v.9h-.9zM86.8 114.3h.9v.9h-.9zM84.6 113.7h.9v.9h-.9zM86.1 113.0h.9v.9h-.9zM77.7 116.2h.9v.9h-.9zM85.3 112.5h.9v.9h-.9zM79.8 116.6h.9v.9h-.9zM83.6 114.0h.9v.9h-.9zM83.0 115.5h.9v.9h-.9zM89.5 117.6h.9v.9h-.9zM75.9 110.5h.9v.9h-.9zM83.0 119.3h.9v.9h-.9zM83.4 118.5h.9v.9h-.9zM80.1 112.7h.9v.9h-.9zM86.2 116.5h.9v.9h-.9zM85.9 112.6h.9v.9h-.9zM83.4 114.6h.9v.9h-.9zM86.5 114.7h.9v.9h-.9zM79.5 114.7h.9v.9h-.9zM88.8 116.3h.9v.9h-.9zM78.7 113.5h.9v.9h-.9zM77.3 120.0h.9v.9h-.9zM73.4 114.0h.9v.9h-.9zM85.7 119.3h.9v.9h-.9zM81.8 118.2h.9v.9h-.9zM86.3 118.8h.9v.9h-.9zM82.7 120.5h.9v.9h-.9zM83.6 120.2h.9v.9h-.9zM77.1 118.7h.9v.9h-.9zM76.3 112.4h.9v.9h-.9zM85.1 114.1h.9v.9h-.9zM84.9 113.5h.9v.9h-.9zM90.7 116.3h.9v.9h-.9zM77.0 116.8h.9v.9h-.9zM87.1 114.3h.9v.9h-.9zM85.3 121.6h.9v.9h-.9zM87.1 116.3h.9v.9h-.9zM79.9 117.8h.9v.9h-.9zM79.4 113.5h.9v.9h-.9zM91.5 116.7h.9v.9h-.9zM77.9 113.3h.9v.9h-.9zM85.3 114.2h.9v.9h-.9zM79.9 116.1h.9v.9h-.9zM83.3 116.6h.9v.9h-.9zM83.4 119.8h.9v.9h-.9zM91.3 112.1h.9v.9h-.9zM95.7 116.7h.9v.9h-.9zM89.1 114.5h.9v.9h-.9zM84.5 116.9h.9v.9h-.9zM83.4 118.6h.9v.9h-.9zM86.0 113.8h.9v.9h-.9zM82.3 118.3h.9v.9h-.9zM86.3 115.5h.9v.9h-.9zM81.5 116.0h.9v.9h-.9zM77.4 113.0h.9v.9h-.9zM90.7 115.4h.9v.9h-.9zM83.4 114.5h.9v.9h-.9zM89.4 121.0h.9v.9h-.9zM81.8 117.7h.9v.9h-.9zM79.1 121.0h.9v.9h-.9zM87.5 114.2h.9v.9h-.9zM89.1 117.3h.9v.9h-.9zM84.9 117.3h.9v.9h-.9zM79.5 115.0h.9v.9h-.9zM86.0 116.3h.9v.9h-.9zM78.1 121.7h.9v.9h-.9zM81.8 114.9h.9v.9h-.9zM79.4 118.2h.9v.9h-.9zM87.7 117.0h.9v.9h-.9zM87.2 112.5h.9v.9h-.9zM81.0 115.2h.9v.9h-.9zM82.9 117.6h.9v.9h-.9zM72.6 124.5h.9v.9h-.9zM78.5 117.3h.9v.9h-.9zM87.0 118.6h.9v.9h-.9zM84.0 108.8h.9v.9h-.9zM77.4 118.3h.9v.9h-.9zM78.2 113.6h.9v.9h-.9zM71.0 119.5h.9v.9h-.9zM85.3 114.0h.9v.9h-.9zM82.0 116.0h.9v.9h-.9zM77.1 115.6h.9v.9h-.9zM83.9 117.7h.9v.9h-.9zM89.0 116.3h.9v.9h-.9zM80.3 117.3h.9v.9h-.9zM79.5 113.0h.9v.9h-.9zM88.3 115.3h.9v.9h-.9zM83.2 117.9h.9v.9h-.9zM77.1 117.9h.9v.9h-.9zM84.9 116.0h.9v.9h-.9zM84.6 114.3h.9v.9h-.9zM71.6 115.5h.9v.9h-.9zM78.0 118.5h.9v.9h-.9zM83.9 114.9h.9v.9h-.9zM82.8 119.8h.9v.9h-.9zM88.3 117.2h.9v.9h-.9zM84.7 115.5h.9v.9h-.9zM81.9 117.8h.9v.9h-.9zM82.0 117.0h.9v.9h-.9zM77.0 111.9h.9v.9h-.9zM74.1 115.1h.9v.9h-.9zM89.2 119.3h.9v.9h-.9zM77.6 112.2h.9v.9h-.9zM86.5 117.4h.9v.9h-.9zM75.7 119.0h.9v.9h-.9zM83.5 119.7h.9v.9h-.9zM84.3 118.6h.9v.9h-.9zM84.2 113.8h.9v.9h-.9zM81.4 114.5h.9v.9h-.9zM86.7 113.6h.9v.9h-.9zM74.9 118.0h.9v.9h-.9zM88.3 120.0h.9v.9h-.9zM88.0 112.3h.9v.9h-.9zM79.1 114.8h.9v.9h-.9zM82.4 110.6h.9v.9h-.9zM82.5 117.0h.9v.9h-.9zM77.8 116.5h.9v.9h-.9zM88.5 116.3h.9v.9h-.9zM87.8 118.9h.9v.9h-.9zM84.6 117.2h.9v.9h-.9zM80.7 119.5h.9v.9h-.9zM80.2 114.4h.9v.9h-.9zM86.1 114.3h.9v.9h-.9zM84.7 119.0h.9v.9h-.9zM83.0 116.5h.9v.9h-.9zM87.2 118.2h.9v.9h-.9zM74.9 112.8h.9v.9h-.9zM89.2 117.3h.9v.9h-.9zM72.2 112.7h.9v.9h-.9zM82.7 113.7h.9v.9h-.9zM84.9 116.4h.9v.9h-.9zM85.0 113.2h.9v.9h-.9zM85.7 121.3h.9v.9h-.9zM78.6 119.7h.9v.9h-.9zM87.5 117.9h.9v.9h-.9zM82.3 113.2h.9v.9h-.9zM78.2 118.2h.9v.9h-.9zM87.5 119.4h.9v.9h-.9zM87.4 118.6h.9v.9h-.9zM80.4 113.1h.9v.9h-.9zM83.6 117.6h.9v.9h-.9zM83.0 112.3h.9v.9h-.9zM80.0 112.4h.9v.9h-.9zM83.3 113.5h.9v.9h-.9zM81.8 117.1h.9v.9h-.9zM83.3 119.8h.9v.9h-.9zM77.1 110.6h.9v.9h-.9zM87.4 119.9h.9v.9h-.9zM89.8 117.0h.9v.9h-.9zM85.3 116.6h.9v.9h-.9zM76.2 114.8h.9v.9h-.9zM85.1 114.8h.9v.9h-.9zM92.2 112.3h.9v.9h-.9zM80.5 119.2h.9v.9h-.9zM79.6 113.3h.9v.9h-.9zM75.9 114.4h.9v.9h-.9zM90.2 117.3h.9v.9h-.9zM85.2 114.9h.9v.9h-.9zM86.9 116.6h.9v.9h-.9zM78.1 115.1h.9v.9h-.9zM83.7 119.3h.9v.9h-.9zM82.4 117.6h.9v.9h-.9zM92.8 114.2h.9v.9h-.9zM76.5 118.8h.9v.9h-.9zM84.9 116.0h.9v.9h-.9zM84.0 115.4h.9v.9h-.9zM85.3 115.4h.9v.9h-.9zM86.7 113.2h.9v.9h-.9zM78.6 116.6h.9v.9h-.9zM80.3 118.1h.9v.9h-.9zM82.5 114.9h.9v.9h-.9zM83.7 114.9h.9v.9h-.9zM74.9 113.3h.9v.9h-.9zM78.7 115.1h.9v.9h-.9zM83.2 118.7h.9v.9h-.9zM85.5 120.9h.9v.9h-.9zM89.1 115.8h.9v.9h-.9zM91.0 119.4h.9v.9h-.9zM80.5 117.1h.9v.9h-.9zM88.2 116.9h.9v.9h-.9zM87.8 117.3h.9v.9h-.9zM86.2 115.5h.9v.9h-.9zM84.6 115.4h.9v.9h-.9zM86.1 111.9h.9v.9h-.9zM84.4 119.6h.9v.9h-.9zM85.6 116.3h.9v.9h-.9zM85.4 114.1h.9v.9h-.9zM78.6 115.4h.9v.9h-.9zM82.0 118.8h.9v.9h-.9zM78.3 118.9h.9v.9h-.9zM74.9 114.3h.9v.9h-.9zM82.6 119.3h.9v.9h-.9zM79.7 110.7h.9v.9h-.9zM84.8 116.2h.9v.9h-.9zM77.3 113.6h.9v.9h-.9zM79.3 116.6h.9v.9h-.9zM86.0 112.5h.9v.9h-.9zM94.2 116.2h.9v.9h-.9zM80.9 118.1h.9v.9h-.9zM83.3 122.4h.9v.9h-.9zM88.2 115.4h.9v.9h-.9zM80.8 115.0h.9v.9h-.9zM81.0 118.1h.9v.9h-.9zM79.5 120.5h.9v.9h-.9zM82.3 115.9h.9v.9h-.9zM87.5 111.2h.9v.9h-.9zM78.0 117.9h.9v.9h-.9zM82.8 116.3h.9v.9h-.9zM84.7 114.7h.9v.9h-.9zM81.9 112.8h.9v.9h-.9zM73.3 119.6h.9v.9h-.9zM78.0 114.4h.9v.9h-.9zM89.7 119.1h.9v.9h-.9zM80.1 114.9h.9v.9h-.9zM82.3 113.8h.9v.9h-.9zM85.4 116.7h.9v.9h-.9zM83.3 118.3h.9v.9h-.9zM86.3 121.1h.9v.9h-.9zM90.3 111.9h.9v.9h-.9zM87.2 113.4h.9v.9h-.9zM75.6 118.1h.9v.9h-.9zM79.2 115.5h.9v.9h-.9zM88.0 114.6h.9v.9h-.9zM78.2 117.1h.9v.9h-.9zM88.8 117.7h.9v.9h-.9zM74.9 114.6h.9v.9h-.9zM81.9 121.3h.9v.9h-.9zM87.2 118.5h.9v.9h-.9zM88.7 115.5h.9v.9h-.9zM85.1 117.6h.9v.9h-.9zM77.8 116.3h.9v.9h-.9zM85.5 113.5h.9v.9h-.9zM86.7 118.3h.9v.9h-.9zM87.9 114.3h.9v.9h-.9zM83.2 120.1h.9v.9h-.9zM86.7 114.2h.9v.9h-.9zM83.8 120.0h.9v.9h-.9zM82.3 117.3h.9v.9h-.9zM95.5 116.2h.9v.9h-.9zM82.1 113.7h.9v.9h-.9zM79.4 120.2h.9v.9h-.9zM82.0 113.2h.9v.9h-.9zM78.0 116.3h.9v.9h-.9zM86.5 114.3h.9v.9h-.9zM86.2 115.0h.9v.9h-.9zM84.4 117.6h.9v.9h-.9zM85.7 115.1h.9v.9h-.9zM81.8 117.6h.9v.9h-.9zM76.1 116.7h.9v.9h-.9zM85.2 119.0h.9v.9h-.9zM82.4 115.8h.9v.9h-.9zM83.3 114.3h.9v.9h-.9zM81.5 117.3h.9v.9h-.9zM83.9 113.5h.9v.9h-.9zM80.9 110.7h.9v.9h-.9zM86.5 114.8h.9v.9h-.9zM83.7 113.3h.9v.9h-.9zM82.1 117.3h.9v.9h-.9zM87.4 112.6h.9v.9h-.9zM86.7 115.7h.9v.9h-.9zM78.6 117.4h.9v.9h-.9zM81.0 115.4h.9v.9h-.9zM78.9 116.7h.9v.9h-.9zM82.6 115.7h.9v.9h-.9zM77.6 114.8h.9v.9h-.9zM84.4 119.5h.9v.9h-.9zM82.3 119.8h.9v.9h-.9zM82.3 113.3h.9v.9h-.9zM85.6 113.6h.9v.9h-.9zM84.4 118.9h.9v.9h-.9zM80.9 115.9h.9v.9h-.9zM94.7 116.8h.9v.9h-.9zM83.7 118.2h.9v.9h-.9zM81.9 115.9h.9v.9h-.9zM84.3 109.9h.9v.9h-.9zM89.5 113.4h.9v.9h-.9zM77.0 117.6h.9v.9h-.9zM82.5 112.9h.9v.9h-.9zM83.5 113.2h.9v.9h-.9zM78.9 112.3h.9v.9h-.9zM78.3 117.2h.9v.9h-.9zM83.0 117.0h.9v.9h-.9zM87.0 116.0h.9v.9h-.9zM79.1 115.4h.9v.9h-.9zM90.6 116.2h.9v.9h-.9zM84.0 115.9h.9v.9h-.9zM83.6 117.3h.9v.9h-.9zM82.4 115.8h.9v.9h-.9zM78.5 114.0h.9v.9h-.9zM84.4 118.1h.9v.9h-.9zM87.0 116.3h.9v.9h-.9zM78.3 117.8h.9v.9h-.9zM85.5 112.3h.9v.9h-.9zM86.4 117.7h.9v.9h-.9zM90.7 113.2h.9v.9h-.9zM76.0 118.2h.9v.9h-.9zM73.5 114.3h.9v.9h-.9zM77.0 113.5h.9v.9h-.9zM72.9 115.5h.9v.9h-.9zM87.3 117.3h.9v.9h-.9zM84.6 115.2h.9v.9h-.9zM89.6 117.5h.9v.9h-.9zM87.7 112.2h.9v.9h-.9zM84.2 113.2h.9v.9h-.9zM84.2 116.7h.9v.9h-.9zM76.8 116.6h.9v.9h-.9zM88.2 117.5h.9v.9h-.9zM85.4 114.0h.9v.9h-.9zM79.1 113.3h.9v.9h-.9zM83.1 119.3h.9v.9h-.9zM84.7 116.2h.9v.9h-.9zM76.9 117.3h.9v.9h-.9zM81.3 111.3h.9v.9h-.9zM73.9 115.3h.9v.9h-.9zM78.0 120.5h.9v.9h-.9zM82.7 113.5h.9v.9h-.9zM80.1 120.3h.9v.9h-.9zM77.8 118.2h.9v.9h-.9zM84.7 120.0h.9v.9h-.9zM85.2 115.2h.9v.9h-.9zM85.1 116.4h.9v.9h-.9zM87.4 116.1h.9v.9h-.9zM92.4 116.0h.9v.9h-.9zM84.7 114.5h.9v.9h-.9zM83.2 116.3h.9v.9h-.9zM83.4 118.6h.9v.9h-.9z" fill="#000" fill-opacity="0.56"/>
<path d="M69.8 114.1h.9v.9h-.9zM82.9 115.7h.9v.9h-.9zM68.8 119.9h.9v.9h-.9zM80.3 108.9h.9v.9h-.9zM71.1 118.8h.9v.9h-.9zM80.8 115.1h.9v.9h-.9zM86.6 114.3h.9v.9h-.9zM72.3 116.9h.9v.9h-.9zM74.1 118.9h.9v.9h-.9zM82.3 116.4h.9v.9h-.9zM85.3 114.6h.9v.9h-.9zM72.5 121.5h.9v.9h-.9zM75.0 119.7h.9v.9h-.9zM70.8 115.8h.9v.9h-.9zM73.4 117.1h.9v.9h-.9zM71.5 116.6h.9v.9h-.9zM79.6 120.1h.9v.9h-.9zM75.1 118.5h.9v.9h-.9zM81.5 113.5h.9v.9h-.9zM61.7 121.3h.9v.9h-.9zM84.8 116.8h.9v.9h-.9zM77.1 113.9h.9v.9h-.9zM63.3 117.5h.9v.9h-.9zM62.4 119.2h.9v.9h-.9zM68.8 117.4h.9v.9h-.9zM89.7 122.0h.9v.9h-.9zM72.1 119.7h.9v.9h-.9zM66.0 114.9h.9v.9h-.9zM77.2 120.6h.9v.9h-.9zM69.7 118.1h.9v.9h-.9zM75.0 112.9h.9v.9h-.9zM73.2 120.9h.9v.9h-.9zM73.5 118.0h.9v.9h-.9zM80.8 114.5h.9v.9h-.9zM84.0 120.9h.9v.9h-.9zM86.9 120.4h.9v.9h-.9zM70.5 114.9h.9v.9h-.9zM67.9 114.0h.9v.9h-.9zM67.9 119.4h.9v.9h-.9zM85.8 114.7h.9v.9h-.9zM80.6 112.9h.9v.9h-.9zM71.6 113.7h.9v.9h-.9zM61.2 116.7h.9v.9h-.9zM74.8 115.4h.9v.9h-.9zM70.0 113.7h.9v.9h-.9zM73.1 114.8h.9v.9h-.9zM76.0 113.1h.9v.9h-.9zM75.9 118.0h.9v.9h-.9zM84.0 119.6h.9v.9h-.9zM75.6 114.6h.9v.9h-.9zM59.5 116.5h.9v.9h-.9zM85.4 121.3h.9v.9h-.9zM53.8 114.3h.9v.9h-.9zM71.3 113.5h.9v.9h-.9zM75.6 116.6h.9v.9h-.9zM69.9 116.4h.9v.9h-.9zM61.3 113.7h.9v.9h-.9zM66.9 119.1h.9v.9h-.9zM61.0 115.9h.9v.9h-.9zM80.3 116.4h.9v.9h-.9zM80.5 114.6h.9v.9h-.9zM77.5 119.1h.9v.9h-.9zM91.9 118.6h.9v.9h-.9zM85.5 116.6h.9v.9h-.9zM74.9 121.1h.9v.9h-.9zM78.7 120.6h.9v.9h-.9zM79.8 122.7h.9v.9h-.9zM93.2 114.1h.9v.9h-.9zM89.0 117.8h.9v.9h-.9zM77.9 116.2h.9v.9h-.9zM79.9 113.3h.9v.9h-.9zM68.3 114.3h.9v.9h-.9zM76.5 119.2h.9v.9h-.9zM80.1 117.6h.9v.9h-.9zM69.5 111.5h.9v.9h-.9zM77.4 117.0h.9v.9h-.9zM77.1 120.7h.9v.9h-.9zM72.8 116.0h.9v.9h-.9zM55.7 118.2h.9v.9h-.9zM73.8 114.4h.9v.9h-.9zM77.3 113.6h.9v.9h-.9zM69.9 122.3h.9v.9h-.9zM80.2 119.3h.9v.9h-.9zM80.2 118.4h.9v.9h-.9zM75.8 123.2h.9v.9h-.9zM73.6 118.7h.9v.9h-.9zM72.5 115.6h.9v.9h-.9zM54.7 111.0h.9v.9h-.9zM86.6 120.9h.9v.9h-.9zM70.7 116.5h.9v.9h-.9zM79.1 113.7h.9v.9h-.9zM88.3 113.5h.9v.9h-.9zM68.4 108.5h.9v.9h-.9zM86.3 116.7h.9v.9h-.9zM87.1 113.6h.9v.9h-.9zM76.8 116.8h.9v.9h-.9zM75.7 122.6h.9v.9h-.9zM92.2 120.5h.9v.9h-.9zM70.9 119.1h.9v.9h-.9zM84.9 118.2h.9v.9h-.9zM78.7 117.9h.9v.9h-.9zM66.9 117.2h.9v.9h-.9zM86.9 113.6h.9v.9h-.9zM74.7 119.0h.9v.9h-.9zM63.2 116.1h.9v.9h-.9zM60.5 114.8h.9v.9h-.9zM62.8 113.9h.9v.9h-.9zM70.1 115.7h.9v.9h-.9zM72.4 109.5h.9v.9h-.9zM86.7 115.7h.9v.9h-.9zM65.3 114.7h.9v.9h-.9zM76.5 113.6h.9v.9h-.9zM70.7 115.1h.9v.9h-.9zM78.3 114.3h.9v.9h-.9zM77.6 117.5h.9v.9h-.9zM72.8 120.1h.9v.9h-.9zM74.2 113.1h.9v.9h-.9zM76.4 116.9h.9v.9h-.9zM73.7 117.2h.9v.9h-.9zM92.8 117.2h.9v.9h-.9zM77.7 115.8h.9v.9h-.9zM84.5 116.3h.9v.9h-.9zM67.6 113.0h.9v.9h-.9zM78.2 118.7h.9v.9h-.9zM61.3 114.4h.9v.9h-.9zM79.1 119.5h.9v.9h-.9zM63.4 115.3h.9v.9h-.9zM80.7 114.9h.9v.9h-.9zM70.4 114.9h.9v.9h-.9zM63.5 116.6h.9v.9h-.9zM76.4 112.4h.9v.9h-.9zM74.8 119.7h.9v.9h-.9zM75.6 119.2h.9v.9h-.9zM69.6 120.5h.9v.9h-.9zM67.7 122.0h.9v.9h-.9zM70.4 114.4h.9v.9h-.9zM66.8 115.3h.9v.9h-.9zM70.0 114.5h.9v.9h-.9zM71.3 118.4h.9v.9h-.9zM81.0 115.5h.9v.9h-.9zM83.9 113.6h.9v.9h-.9zM65.7 113.2h.9v.9h-.9zM78.8 112.0h.9v.9h-.9zM62.8 120.2h.9v.9h-.9zM87.7 120.4h.9v.9h-.9zM62.0 116.5h.9v.9h-.9zM80.6 116.8h.9v.9h-.9zM61.0 115.5h.9v.9h-.9zM60.4 112.9h.9v.9h-.9zM91.2 118.4h.9v.9h-.9zM62.2 112.1h.9v.9h-.9zM77.6 114.7h.9v.9h-.9zM78.5 114.6h.9v.9h-.9zM72.3 117.2h.9v.9h-.9zM65.7 110.9h.9v.9h-.9zM64.4 114.4h.9v.9h-.9zM72.3 116.3h.9v.9h-.9zM73.4 118.0h.9v.9h-.9zM66.8 120.5h.9v.9h-.9zM89.9 117.5h.9v.9h-.9zM75.4 120.1h.9v.9h-.9zM79.1 117.0h.9v.9h-.9zM72.5 114.3h.9v.9h-.9zM64.5 118.4h.9v.9h-.9zM83.4 113.4h.9v.9h-.9zM73.3 117.1h.9v.9h-.9zM70.5 114.2h.9v.9h-.9zM70.7 110.7h.9v.9h-.9zM73.4 115.6h.9v.9h-.9zM90.8 119.2h.9v.9h-.9zM71.1 116.4h.9v.9h-.9zM87.6 121.1h.9v.9h-.9zM75.3 116.1h.9v.9h-.9zM62.3 115.5h.9v.9h-.9zM72.5 114.3h.9v.9h-.9zM87.7 111.0h.9v.9h-.9zM72.8 117.6h.9v.9h-.9zM77.4 121.3h.9v.9h-.9zM62.7 114.3h.9v.9h-.9zM74.6 116.8h.9v.9h-.9zM70.8 114.2h.9v.9h-.9zM82.4 113.4h.9v.9h-.9zM69.3 120.6h.9v.9h-.9zM87.7 119.0h.9v.9h-.9zM67.0 114.0h.9v.9h-.9zM66.7 113.2h.9v.9h-.9zM70.5 120.1h.9v.9h-.9zM75.6 114.3h.9v.9h-.9zM67.6 113.0h.9v.9h-.9zM83.5 110.6h.9v.9h-.9zM76.0 112.3h.9v.9h-.9zM65.3 112.1h.9v.9h-.9zM81.5 116.2h.9v.9h-.9zM65.0 118.1h.9v.9h-.9zM78.3 115.6h.9v.9h-.9zM57.6 120.6h.9v.9h-.9zM78.3 117.6h.9v.9h-.9zM69.0 118.3h.9v.9h-.9zM69.2 116.5h.9v.9h-.9zM72.2 120.0h.9v.9h-.9zM69.9 115.4h.9v.9h-.9zM82.5 117.0h.9v.9h-.9zM73.5 115.7h.9v.9h-.9zM81.2 114.5h.9v.9h-.9zM77.4 122.2h.9v.9h-.9zM76.8 114.1h.9v.9h-.9zM63.9 116.8h.9v.9h-.9zM63.7 111.7h.9v.9h-.9zM67.5 113.2h.9v.9h-.9zM80.5 112.1h.9v.9h-.9zM86.2 114.1h.9v.9h-.9zM74.4 118.3h.9v.9h-.9zM75.3 118.4h.9v.9h-.9zM65.6 109.7h.9v.9h-.9zM71.8 111.4h.9v.9h-.9zM68.8 119.0h.9v.9h-.9zM71.8 114.6h.9v.9h-.9zM64.4 115.4h.9v.9h-.9zM72.0 111.7h.9v.9h-.9zM75.7 113.1h.9v.9h-.9zM75.1 115.0h.9v.9h-.9zM81.3 118.7h.9v.9h-.9zM73.4 116.0h.9v.9h-.9zM76.9 120.3h.9v.9h-.9zM81.9 116.8h.9v.9h-.9zM76.0 120.9h.9v.9h-.9zM60.4 117.9h.9v.9h-.9zM66.3 120.3h.9v.9h-.9zM69.7 116.0h.9v.9h-.9zM65.0 116.4h.9v.9h-.9zM80.1 121.3h.9v.9h-.9zM63.6 115.1h.9v.9h-.9zM73.8 118.0h.9v.9h-.9zM52.5 121.2h.9v.9h-.9zM75.2 112.3h.9v.9h-.9zM83.3 114.7h.9v.9h-.9zM65.7 118.0h.9v.9h-.9zM77.2 115.2h.9v.9h-.9zM73.4 112.6h.9v.9h-.9zM62.4 119.1h.9v.9h-.9zM84.5 117.8h.9v.9h-.9zM77.0 115.4h.9v.9h-.9zM73.0 113.8h.9v.9h-.9zM88.1 114.9h.9v.9h-.9zM77.3 116.5h.9v.9h-.9zM62.8 122.1h.9v.9h-.9zM71.0 114.3h.9v.9h-.9zM74.9 113.9h.9v.9h-.9zM74.2 113.7h.9v.9h-.9zM78.5 116.7h.9v.9h-.9zM63.1 119.5h.9v.9h-.9zM75.6 113.3h.9v.9h-.9zM76.9 117.8h.9v.9h-.9zM88.9 114.0h.9v.9h-.9zM80.9 116.2h.9v.9h-.9zM79.0 115.8h.9v.9h-.9zM73.6 118.0h.9v.9h-.9zM64.5 110.4h.9v.9h-.9zM74.0 115.2h.9v.9h-.9zM74.8 118.4h.9v.9h-.9zM72.4 120.0h.9v.9h-.9zM73.8 116.9h.9v.9h-.9zM80.8 118.3h.9v.9h-.9zM73.5 116.9h.9v.9h-.9zM68.1 114.8h.9v.9h-.9zM75.1 119.0h.9v.9h-.9zM70.8 119.0h.9v.9h-.9zM89.8 122.8h.9v.9h-.9zM74.5 119.7h.9v.9h-.9zM79.2 118.9h.9v.9h-.9zM81.1 118.2h.9v.9h-.9zM81.0 117.2h.9v.9h-.9zM72.3 117.4h.9v.9h-.9zM78.4 120.2h.9v.9h-.9zM77.4 118.8h.9v.9h-.9zM85.9 113.9h.9v.9h-.9zM72.3 118.2h.9v.9h-.9zM74.7 113.7h.9v.9h-.9zM82.4 116.5h.9v.9h-.9zM66.4 122.2h.9v.9h-.9zM64.1 116.6h.9v.9h-.9zM69.0 117.0h.9v.9h-.9zM78.9 114.3h.9v.9h-.9zM73.6 116.3h.9v.9h-.9zM66.3 120.0h.9v.9h-.9zM75.8 115.8h.9v.9h-.9zM69.0 115.7h.9v.9h-.9zM75.5 115.3h.9v.9h-.9zM84.4 109.2h.9v.9h-.9zM57.2 115.9h.9v.9h-.9zM59.6 116.4h.9v.9h-.9zM69.1 118.3h.9v.9h-.9zM77.7 120.4h.9v.9h-.9zM81.7 120.3h.9v.9h-.9zM78.6 119.7h.9v.9h-.9zM78.4 114.9h.9v.9h-.9zM64.3 113.1h.9v.9h-.9zM78.2 109.7h.9v.9h-.9zM75.8 114.4h.9v.9h-.9zM80.3 117.2h.9v.9h-.9zM68.3 116.7h.9v.9h-.9zM56.1 117.4h.9v.9h-.9zM78.1 111.3h.9v.9h-.9zM81.2 116.3h.9v.9h-.9zM75.8 112.5h.9v.9h-.9zM79.2 118.3h.9v.9h-.9zM74.3 113.8h.9v.9h-.9zM80.5 120.3h.9v.9h-.9zM77.6 119.6h.9v.9h-.9zM69.8 117.1h.9v.9h-.9zM77.5 117.1h.9v.9h-.9zM70.1 119.1h.9v.9h-.9zM65.9 117.8h.9v.9h-.9zM80.8 115.3h.9v.9h-.9zM72.1 114.0h.9v.9h-.9zM75.7 114.8h.9v.9h-.9zM88.6 118.6h.9v.9h-.9zM73.0 112.7h.9v.9h-.9zM91.1 120.6h.9v.9h-.9zM78.6 117.4h.9v.9h-.9zM76.2 115.4h.9v.9h-.9zM89.9 117.4h.9v.9h-.9zM63.3 114.9h.9v.9h-.9zM54.2 118.7h.9v.9h-.9zM81.0 121.9h.9v.9h-.9zM91.6 114.5h.9v.9h-.9zM78.4 119.7h.9v.9h-.9zM81.2 115.3h.9v.9h-.9zM81.2 118.2h.9v.9h-.9zM85.7 116.7h.9v.9h-.9zM72.9 115.3h.9v.9h-.9zM71.7 114.5h.9v.9h-.9zM72.0 118.2h.9v.9h-.9zM78.4 120.6h.9v.9h-.9zM83.5 118.6h.9v.9h-.9zM65.4 118.4h.9v.9h-.9zM84.0 112.9h.9v.9h-.9zM65.7 113.9h.9v.9h-.9zM66.3 115.9h.9v.9h-.9zM67.1 117.8h.9v.9h-.9zM64.8 116.3h.9v.9h-.9zM70.5 113.9h.9v.9h-.9zM82.8 116.8h.9v.9h-.9zM78.8 115.7h.9v.9h-.9zM80.1 118.4h.9v.9h-.9zM73.2 111.5h.9v.9h-.9zM81.0 118.7h.9v.9h-.9zM75.9 117.4h.9v.9h-.9zM75.4 117.2h.9v.9h-.9zM66.4 116.5h.9v.9h-.9zM77.0 114.9h.9v.9h-.9zM66.7 122.1h.9v.9h-.9zM79.3 115.8h.9v.9h-.9zM70.5 109.0h.9v.9h-.9zM63.1 115.9h.9v.9h-.9zM84.8 110.7h.9v.9h-.9zM68.9 122.2h.9v.9h-.9zM79.8 117.9h.9v.9h-.9zM84.0 116.3h.9v.9h-.9zM73.1 118.7h.9v.9h-.9zM81.3 113.6h.9v.9h-.9zM86.7 111.6h.9v.9h-.9zM68.9 125.6h.9v.9h-.9zM70.4 118.6h.9v.9h-.9zM66.5 115.7h.9v.9h-.9zM68.7 115.5h.9v.9h-.9zM79.7 121.8h.9v.9h-.9zM81.5 121.2h.9v.9h-.9zM70.5 120.9h.9v.9h-.9zM79.0 120.7h.9v.9h-.9zM71.2 116.0h.9v.9h-.9zM85.4 118.4h.9v.9h-.9zM75.3 114.7h.9v.9h-.9zM73.6 118.1h.9v.9h-.9zM80.2 115.0h.9v.9h-.9zM71.7 117.9h.9v.9h-.9zM65.5 119.3h.9v.9h-.9zM74.2 116.2h.9v.9h-.9zM54.9 111.9h.9v.9h-.9zM65.8 114.8h.9v.9h-.9zM65.3 117.6h.9v.9h-.9zM75.1 115.7h.9v.9h-.9zM57.7 120.6h.9v.9h-.9zM71.8 118.2h.9v.9h-.9zM68.6 116.5h.9v.9h-.9zM79.6 117.2h.9v.9h-.9zM81.7 116.0h.9v.9h-.9zM89.9 111.0h.9v.9h-.9zM69.5 119.3h.9v.9h-.9zM71.9 115.2h.9v.9h-.9zM59.7 120.0h.9v.9h-.9zM58.7 117.9h.9v.9h-.9zM75.5 119.0h.9v.9h-.9zM85.6 114.4h.9v.9h-.9zM67.4 115.5h.9v.9h-.9zM60.1 118.8h.9v.9h-.9zM70.7 116.9h.9v.9h-.9zM64.8 116.5h.9v.9h-.9zM68.8 116.2h.9v.9h-.9zM65.0 119.4h.9v.9h-.9zM68.5 109.0h.9v.9h-.9zM78.9 115.5h.9v.9h-.9zM66.6 123.7h.9v.9h-.9zM73.3 112.5h.9v.9h-.9zM68.8 117.5h.9v.9h-.9zM71.9 120.0h.9v.9h-.9zM82.2 114.1h.9v.9h-.9zM74.0 118.2h.9v.9h-.9zM70.4 115.0h.9v.9h-.9zM80.7 117.7h.9v.9h-.9zM62.4 114.8h.9v.9h-.9zM70.4 116.0h.9v.9h-.9zM67.9 120.3h.9v.9h-.9zM65.9 113.2h.9v.9h-.9zM75.4 109.8h.9v.9h-.9zM65.4 118.2h.9v.9h-.9zM63.1 113.9h.9v.9h-.9zM82.4 117.7h.9v.9h-.9zM74.2 117.1h.9v.9h-.9zM68.3 117.3h.9v.9h-.9zM72.1 123.7h.9v.9h-.9zM78.1 115.4h.9v.9h-.9zM73.3 116.6h.9v.9h-.9zM62.7 114.0h.9v.9h-.9zM86.0 112.4h.9v.9h-.9zM69.1 119.4h.9v.9h-.9zM85.9 113.5h.9v.9h-.9zM85.5 115.4h.9v.9h-.9zM87.1 117.9h.9v.9h-.9zM71.6 118.6h.9v.9h-.9zM78.3 114.2h.9v.9h-.9zM91.1 115.5h.9v.9h-.9zM83.1 115.1h.9v.9h-.9zM59.3 113.2h.9v.9h-.9zM73.1 118.4h.9v.9h-.9zM88.0 116.7h.9v.9h-.9zM71.6 112.9h.9v.9h-.9zM73.5 117.3h.9v.9h-.9zM56.2 120.2h.9v.9h-.9zM83.0 123.1h.9v.9h-.9zM66.6 116.6h.9v.9h-.9zM74.0 112.6h.9v.9h-.9zM67.1 113.6h.9v.9h-.9zM78.0 117.7h.9v.9h-.9zM84.7 115.3h.9v.9h-.9zM62.7 117.7h.9v.9h-.9zM76.8 118.4h.9v.9h-.9z" fill="#000" fill-opacity="0.35"/>
<path d="M70.3 114.7h.9v.9h-.9zM65.8 113.4h.9v.9h-.9zM59.4 118.5h.9v.9h-.9zM56.6 117.1h.9v.9h-.9zM43.8 114.5h.9v.9h-.9zM59.3 112.8h.9v.9h-.9zM49.2 123.7h.9v.9h-.9zM60.3 113.9h.9v.9h-.9zM47.4 120.5h.9v.9h-.9zM29.6 115.3h.9v.9h-.9zM63.4 114.5h.9v.9h-.9zM62.3 113.0h.9v.9h-.9zM56.8 116.3h.9v.9h-.9zM57.0 116.6h.9v.9h-.9zM57.2 119.5h.9v.9h-.9zM54.1 114.4h.9v.9h-.9zM53.9 115.2h.9v.9h-.9zM41.5 110.4h.9v.9h-.9zM43.2 117.0h.9v.9h-.9zM50.0 114.9h.9v.9h-.9zM85.4 119.5h.9v.9h-.9zM54.6 114.2h.9v.9h-.9zM70.4 113.8h.9v.9h-.9zM69.0 117.9h.9v.9h-.9zM70.5 113.9h.9v.9h-.9zM65.7 110.7h.9v.9h-.9zM54.9 119.3h.9v.9h-.9zM63.6 110.6h.9v.9h-.9zM63.5 117.5h.9v.9h-.9zM56.0 113.9h.9v.9h-.9zM53.8 114.4h.9v.9h-.9zM66.1 117.5h.9v.9h-.9zM67.3 118.2h.9v.9h-.9zM43.8 116.5h.9v.9h-.9zM78.1 112.7h.9v.9h-.9zM59.4 113.7h.9v.9h-.9zM47.7 116.7h.9v.9h-.9zM65.8 118.4h.9v.9h-.9zM61.2 118.9h.9v.9h-.9zM40.3 118.5h.9v.9h-.9zM60.6 115.5h.9v.9h-.9zM56.5 113.5h.9v.9h-.9zM68.2 113.8h.9v.9h-.9zM41.8 116.1h.9v.9h-.9zM50.8 115.9h.9v.9h-.9zM71.7 115.7h.9v.9h-.9zM57.8 122.9h.9v.9h-.9zM42.5 117.2h.9v.9h-.9zM68.3 120.6h.9v.9h-.9zM79.1 114.1h.9v.9h-.9zM62.7 115.8h.9v.9h-.9zM52.1 113.9h.9v.9h-.9zM42.0 117.1h.9v.9h-.9zM64.2 112.9h.9v.9h-.9zM64.3 114.4h.9v.9h-.9zM67.8 118.3h.9v.9h-.9zM53.6 114.9h.9v.9h-.9zM43.6 117.7h.9v.9h-.9zM56.1 117.8h.9v.9h-.9zM58.5 111.9h.9v.9h-.9zM41.1 117.4h.9v.9h-.9zM39.8 117.0h.9v.9h-.9zM66.0 112.3h.9v.9h-.9zM63.7 116.3h.9v.9h-.9zM62.4 114.3h.9v.9h-.9zM56.9 117.5h.9v.9h-.9zM75.6 118.5h.9v.9h-.9zM62.2 112.4h.9v.9h-.9zM60.6 114.2h.9v.9h-.9zM56.6 117.1h.9v.9h-.9zM67.2 118.1h.9v.9h-.9zM59.3 116.2h.9v.9h-.9zM71.1 113.7h.9v.9h-.9zM57.9 120.5h.9v.9h-.9zM55.6 118.9h.9v.9h-.9zM66.5 122.4h.9v.9h-.9zM69.0 111.4h.9v.9h-.9zM57.6 117.2h.9v.9h-.9zM65.9 117.5h.9v.9h-.9zM76.5 119.7h.9v.9h-.9zM45.5 114.4h.9v.9h-.9zM36.5 121.5h.9v.9h-.9zM56.0 115.8h.9v.9h-.9zM41.2 114.9h.9v.9h-.9zM61.2 114.9h.9v.9h-.9zM52.8 114.2h.9v.9h-.9zM76.7 114.4h.9v.9h-.9zM41.9 114.5h.9v.9h-.9zM52.9 115.7h.9v.9h-.9zM53.8 112.6h.9v.9h-.9zM54.2 117.1h.9v.9h-.9zM41.9 121.9h.9v.9h-.9zM73.3 110.4h.9v.9h-.9zM52.4 119.0h.9v.9h-.9zM69.7 121.4h.9v.9h-.9zM37.3 112.5h.9v.9h-.9zM50.9 117.6h.9v.9h-.9zM45.2 117.3h.9v.9h-.9zM60.8 118.1h.9v.9h-.9zM43.1 116.6h.9v.9h-.9zM57.0 114.7h.9v.9h-.9zM69.6 115.1h.9v.9h-.9zM71.2 114.2h.9v.9h-.9zM73.8 121.1h.9v.9h-.9zM48.3 117.1h.9v.9h-.9zM59.9 113.1h.9v.9h-.9zM64.8 118.0h.9v.9h-.9zM48.0 116.5h.9v.9h-.9zM66.0 115.7h.9v.9h-.9zM49.7 121.2h.9v.9h-.9zM47.1 117.3h.9v.9h-.9zM68.5 118.7h.9v.9h-.9zM38.5 115.3h.9v.9h-.9zM55.9 115.7h.9v.9h-.9zM63.7 118.0h.9v.9h-.9zM58.8 117.2h.9v.9h-.9zM67.8 120.2h.9v.9h-.9zM38.4 123.0h.9v.9h-.9zM52.0 118.8h.9v.9h-.9zM41.2 114.9h.9v.9h-.9zM45.0 119.7h.9v.9h-.9zM66.8 116.5h.9v.9h-.9zM56.1 117.6h.9v.9h-.9zM48.3 114.6h.9v.9h-.9zM50.1 118.9h.9v.9h-.9zM58.1 112.6h.9v.9h-.9zM61.3 118.1h.9v.9h-.9zM71.9 114.8h.9v.9h-.9zM62.0 122.8h.9v.9h-.9zM54.5 115.3h.9v.9h-.9zM63.0 114.9h.9v.9h-.9zM57.9 114.9h.9v.9h-.9zM49.9 119.1h.9v.9h-.9zM54.0 113.4h.9v.9h-.9zM54.9 116.0h.9v.9h-.9zM60.8 119.3h.9v.9h-.9zM75.7 112.7h.9v.9h-.9zM55.2 110.9h.9v.9h-.9zM59.9 118.0h.9v.9h-.9zM51.0 113.6h.9v.9h-.9zM47.5 111.8h.9v.9h-.9zM63.9 122.2h.9v.9h-.9zM46.0 121.3h.9v.9h-.9zM56.3 112.1h.9v.9h-.9zM63.1 118.6h.9v.9h-.9zM61.4 115.5h.9v.9h-.9zM74.2 115.4h.9v.9h-.9zM63.7 118.3h.9v.9h-.9zM48.2 110.7h.9v.9h-.9zM39.7 115.1h.9v.9h-.9zM60.8 110.8h.9v.9h-.9zM49.9 120.9h.9v.9h-.9zM38.9 117.6h.9v.9h-.9zM60.7 118.6h.9v.9h-.9zM42.2 117.3h.9v.9h-.9zM43.0 120.3h.9v.9h-.9zM48.3 117.4h.9v.9h-.9zM48.9 116.6h.9v.9h-.9zM41.5 117.1h.9v.9h-.9zM63.1 116.2h.9v.9h-.9zM73.4 117.3h.9v.9h-.9zM65.0 117.7h.9v.9h-.9zM76.0 114.2h.9v.9h-.9zM54.3 115.5h.9v.9h-.9zM63.3 117.0h.9v.9h-.9zM65.5 117.1h.9v.9h-.9zM51.9 116.0h.9v.9h-.9zM61.6 109.3h.9v.9h-.9zM71.3 114.5h.9v.9h-.9zM53.6 117.1h.9v.9h-.9zM54.7 111.8h.9v.9h-.9zM55.0 120.5h.9v.9h-.9zM68.0 120.1h.9v.9h-.9zM51.8 115.7h.9v.9h-.9zM68.1 120.9h.9v.9h-.9zM57.8 113.4h.9v.9h-.9zM37.9 120.7h.9v.9h-.9zM42.1 117.7h.9v.9h-.9zM59.7 116.1h.9v.9h-.9zM62.5 118.0h.9v.9h-.9zM71.6 118.6h.9v.9h-.9zM50.0 110.0h.9v.9h-.9zM60.9 114.4h.9v.9h-.9zM72.4 112.4h.9v.9h-.9zM60.0 114.2h.9v.9h-.9zM48.9 121.6h.9v.9h-.9zM59.7 115.9h.9v.9h-.9zM65.6 114.1h.9v.9h-.9zM54.2 114.5h.9v.9h-.9zM78.4 117.5h.9v.9h-.9zM64.5 120.0h.9v.9h-.9zM56.1 116.0h.9v.9h-.9zM41.1 118.0h.9v.9h-.9zM60.7 115.2h.9v.9h-.9zM70.4 111.0h.9v.9h-.9zM62.3 112.2h.9v.9h-.9zM46.1 115.8h.9v.9h-.9zM71.7 112.8h.9v.9h-.9zM47.6 112.7h.9v.9h-.9zM78.8 118.1h.9v.9h-.9zM62.2 122.9h.9v.9h-.9zM60.5 110.0h.9v.9h-.9zM52.7 112.8h.9v.9h-.9zM79.0 112.1h.9v.9h-.9zM61.1 114.9h.9v.9h-.9zM53.4 116.5h.9v.9h-.9zM56.5 114.4h.9v.9h-.9zM45.1 114.5h.9v.9h-.9zM47.1 113.7h.9v.9h-.9zM59.1 116.0h.9v.9h-.9zM62.9 115.7h.9v.9h-.9zM77.9 114.2h.9v.9h-.9zM47.5 119.7h.9v.9h-.9zM50.6 116.9h.9v.9h-.9zM68.1 116.2h.9v.9h-.9zM54.2 119.5h.9v.9h-.9zM61.3 114.8h.9v.9h-.9zM45.4 115.3h.9v.9h-.9zM40.6 113.7h.9v.9h-.9zM46.5 117.4h.9v.9h-.9zM65.8 114.4h.9v.9h-.9zM53.2 113.0h.9v.9h-.9zM43.4 115.1h.9v.9h-.9zM63.6 117.9h.9v.9h-.9zM63.9 115.6h.9v.9h-.9zM29.4 119.3h.9v.9h-.9zM71.5 119.3h.9v.9h-.9zM67.2 119.9h.9v.9h-.9zM85.7 117.5h.9v.9h-.9zM74.0 119.0h.9v.9h-.9zM65.0 116.1h.9v.9h-.9zM54.4 113.0h.9v.9h-.9zM64.0 115.5h.9v.9h-.9zM45.5 114.1h.9v.9h-.9zM45.6 121.5h.9v.9h-.9zM55.4 116.8h.9v.9h-.9zM45.4 113.3h.9v.9h-.9zM68.9 115.8h.9v.9h-.9zM60.3 122.2h.9v.9h-.9zM79.7 118.6h.9v.9h-.9zM63.0 117.2h.9v.9h-.9zM55.0 122.8h.9v.9h-.9zM45.4 116.2h.9v.9h-.9zM38.0 112.6h.9v.9h-.9zM62.2 117.9h.9v.9h-.9zM61.5 115.5h.9v.9h-.9zM50.6 114.8h.9v.9h-.9zM54.0 119.9h.9v.9h-.9z" fill="#000" fill-opacity="0.22"/>
<path d="M53.6 118.9h.9v.9h-.9zM35.0 114.6h.9v.9h-.9zM42.8 116.8h.9v.9h-.9zM39.9 116.5h.9v.9h-.9zM31.9 114.8h.9v.9h-.9zM48.4 114.6h.9v.9h-.9zM40.9 119.5h.9v.9h-.9zM57.2 119.4h.9v.9h-.9zM39.7 116.1h.9v.9h-.9zM48.0 120.6h.9v.9h-.9zM36.0 119.3h.9v.9h-.9zM38.7 112.4h.9v.9h-.9zM30.6 120.0h.9v.9h-.9zM53.5 119.6h.9v.9h-.9zM38.1 115.3h.9v.9h-.9zM45.0 118.5h.9v.9h-.9zM33.4 119.6h.9v.9h-.9zM45.0 119.8h.9v.9h-.9zM50.0 119.7h.9v.9h-.9zM30.2 114.3h.9v.9h-.9zM49.7 119.0h.9v.9h-.9zM48.4 124.4h.9v.9h-.9zM47.8 116.8h.9v.9h-.9zM42.5 109.0h.9v.9h-.9zM30.7 120.7h.9v.9h-.9zM48.1 110.9h.9v.9h-.9zM51.1 119.2h.9v.9h-.9zM48.8 116.9h.9v.9h-.9zM40.1 114.1h.9v.9h-.9zM43.0 120.3h.9v.9h-.9zM31.2 118.7h.9v.9h-.9zM35.1 120.8h.9v.9h-.9zM49.2 110.1h.9v.9h-.9zM44.3 120.7h.9v.9h-.9zM34.8 116.8h.9v.9h-.9zM38.6 113.9h.9v.9h-.9zM38.9 122.4h.9v.9h-.9zM44.5 122.3h.9v.9h-.9zM49.3 121.3h.9v.9h-.9zM41.2 119.9h.9v.9h-.9zM58.9 122.1h.9v.9h-.9zM43.1 115.3h.9v.9h-.9zM31.4 118.3h.9v.9h-.9zM44.1 111.8h.9v.9h-.9zM42.1 118.6h.9v.9h-.9zM42.9 115.8h.9v.9h-.9zM61.6 120.2h.9v.9h-.9zM27.2 115.3h.9v.9h-.9zM47.5 119.1h.9v.9h-.9zM41.2 117.4h.9v.9h-.9zM38.0 116.1h.9v.9h-.9zM30.3 119.3h.9v.9h-.9zM51.4 115.0h.9v.9h-.9zM28.6 123.3h.9v.9h-.9zM49.5 116.9h.9v.9h-.9zM34.2 116.7h.9v.9h-.9zM36.4 116.6h.9v.9h-.9zM32.8 119.1h.9v.9h-.9zM34.4 111.7h.9v.9h-.9zM27.5 117.4h.9v.9h-.9zM30.0 109.6h.9v.9h-.9zM53.5 118.9h.9v.9h-.9zM35.0 115.7h.9v.9h-.9zM44.2 121.6h.9v.9h-.9zM33.6 118.6h.9v.9h-.9zM33.6 118.3h.9v.9h-.9zM28.8 111.6h.9v.9h-.9zM40.2 117.1h.9v.9h-.9zM46.1 115.2h.9v.9h-.9zM52.1 117.6h.9v.9h-.9zM53.7 116.2h.9v.9h-.9zM53.4 117.1h.9v.9h-.9zM40.7 120.3h.9v.9h-.9zM56.4 112.6h.9v.9h-.9zM34.7 119.0h.9v.9h-.9zM53.0 115.7h.9v.9h-.9zM40.6 113.8h.9v.9h-.9zM35.8 120.5h.9v.9h-.9zM42.4 117.2h.9v.9h-.9zM43.4 117.7h.9v.9h-.9zM41.0 116.2h.9v.9h-.9zM30.3 119.4h.9v.9h-.9zM28.7 120.5h.9v.9h-.9zM59.3 122.0h.9v.9h-.9zM61.1 114.1h.9v.9h-.9zM41.8 114.8h.9v.9h-.9zM32.7 112.0h.9v.9h-.9zM28.3 120.0h.9v.9h-.9zM46.1 121.1h.9v.9h-.9zM50.1 119.8h.9v.9h-.9zM32.2 117.0h.9v.9h-.9zM46.6 121.3h.9v.9h-.9zM36.3 115.9h.9v.9h-.9zM35.7 122.4h.9v.9h-.9zM45.1 116.5h.9v.9h-.9zM32.7 118.8h.9v.9h-.9zM34.6 115.7h.9v.9h-.9zM41.8 118.8h.9v.9h-.9zM68.2 117.8h.9v.9h-.9zM46.5 115.0h.9v.9h-.9zM58.2 114.4h.9v.9h-.9zM39.4 121.0h.9v.9h-.9zM41.0 110.1h.9v.9h-.9zM49.5 117.1h.9v.9h-.9zM46.9 114.6h.9v.9h-.9zM48.3 120.8h.9v.9h-.9zM33.5 119.1h.9v.9h-.9zM34.3 116.0h.9v.9h-.9zM31.7 116.2h.9v.9h-.9zM33.9 121.2h.9v.9h-.9zM38.1 114.1h.9v.9h-.9zM52.8 119.2h.9v.9h-.9zM49.3 117.4h.9v.9h-.9z" fill="#000" fill-opacity="0.15"/>
<path d="M206.5 99.4h.9v.9h-.9zM204.8 88.5h.9v.9h-.9zM202.8 86.0h.9v.9h-.9zM204.8 80.1h.9v.9h-.9zM197.7 81.3h.9v.9h-.9zM203.9 82.7h.9v.9h-.9zM208.9 85.9h.9v.9h-.9zM208.2 101.7h.9v.9h-.9zM207.1 90.6h.9v.9h-.9zM196.9 79.6h.9v.9h-.9zM209.2 91.6h.9v.9h-.9zM201.9 85.5h.9v.9h-.9zM204.0 100.1h.9v.9h-.9zM206.7 102.6h.9v.9h-.9zM202.6 93.5h.9v.9h-.9zM205.4 97.8h.9v.9h-.9zM199.6 87.5h.9v.9h-.9zM213.4 84.7h.9v.9h-.9zM209.7 93.1h.9v.9h-.9zM204.9 82.1h.9v.9h-.9zM206.6 90.6h.9v.9h-.9zM206.3 99.6h.9v.9h-.9zM207.4 83.3h.9v.9h-.9zM204.5 96.2h.9v.9h-.9zM201.7 84.0h.9v.9h-.9zM201.8 96.4h.9v.9h-.9zM210.3 85.6h.9v.9h-.9zM210.5 88.9h.9v.9h-.9zM210.3 90.8h.9v.9h-.9zM209.1 82.1h.9v.9h-.9zM190.7 92.2h.9v.9h-.9zM202.0 80.6h.9v.9h-.9zM210.0 91.7h.9v.9h-.9zM206.2 88.4h.9v.9h-.9zM198.9 98.4h.9v.9h-.9zM204.8 87.4h.9v.9h-.9zM206.2 81.9h.9v.9h-.9zM199.0 85.6h.9v.9h-.9zM199.1 95.0h.9v.9h-.9zM198.1 84.0h.9v.9h-.9zM182.6 83.7h.9v.9h-.9zM203.3 82.3h.9v.9h-.9zM202.4 98.9h.9v.9h-.9zM200.2 85.5h.9v.9h-.9zM200.7 83.8h.9v.9h-.9zM203.9 93.4h.9v.9h-.9zM212.2 85.3h.9v.9h-.9zM199.5 93.1h.9v.9h-.9zM204.4 97.0h.9v.9h-.9zM192.3 93.0h.9v.9h-.9zM202.7 98.2h.9v.9h-.9zM189.9 86.0h.9v.9h-.9zM209.2 96.9h.9v.9h-.9zM204.1 93.4h.9v.9h-.9zM198.7 87.7h.9v.9h-.9zM209.4 95.0h.9v.9h-.9zM199.4 95.1h.9v.9h-.9zM200.0 82.2h.9v.9h-.9zM196.0 83.0h.9v.9h-.9zM198.3 91.9h.9v.9h-.9zM200.5 85.8h.9v.9h-.9zM199.7 90.9h.9v.9h-.9zM201.4 86.9h.9v.9h-.9zM198.1 93.5h.9v.9h-.9zM191.0 82.7h.9v.9h-.9zM211.9 94.7h.9v.9h-.9zM206.9 95.5h.9v.9h-.9zM201.6 91.9h.9v.9h-.9zM203.9 87.8h.9v.9h-.9zM195.2 84.0h.9v.9h-.9zM208.1 99.6h.9v.9h-.9zM200.1 100.0h.9v.9h-.9zM207.7 96.7h.9v.9h-.9zM204.7 86.6h.9v.9h-.9zM205.2 96.9h.9v.9h-.9zM207.6 90.1h.9v.9h-.9zM201.8 85.9h.9v.9h-.9zM213.4 89.9h.9v.9h-.9zM205.0 79.1h.9v.9h-.9zM191.4 82.5h.9v.9h-.9zM198.5 92.7h.9v.9h-.9zM214.1 101.3h.9v.9h-.9zM204.7 101.2h.9v.9h-.9zM206.7 94.6h.9v.9h-.9zM199.4 87.8h.9v.9h-.9zM211.2 79.3h.9v.9h-.9zM211.2 97.8h.9v.9h-.9zM206.4 78.8h.9v.9h-.9zM203.4 96.3h.9v.9h-.9zM203.7 95.7h.9v.9h-.9zM210.8 81.8h.9v.9h-.9zM203.0 96.9h.9v.9h-.9zM190.8 90.6h.9v.9h-.9zM212.6 87.0h.9v.9h-.9zM210.7 97.1h.9v.9h-.9zM193.9 84.9h.9v.9h-.9zM205.8 91.9h.9v.9h-.9zM206.0 83.4h.9v.9h-.9zM208.1 100.9h.9v.9h-.9zM213.9 94.6h.9v.9h-.9zM211.0 88.8h.9v.9h-.9zM196.0 80.2h.9v.9h-.9zM206.8 101.4h.9v.9h-.9zM209.1 89.1h.9v.9h-.9zM211.2 100.6h.9v.9h-.9zM205.9 101.4h.9v.9h-.9zM211.0 93.4h.9v.9h-.9zM198.2 88.7h.9v.9h-.9zM207.7 83.9h.9v.9h-.9zM192.9 90.1h.9v.9h-.9zM206.2 88.2h.9v.9h-.9zM215.7 84.8h.9v.9h-.9zM212.2 84.3h.9v.9h-.9zM203.2 99.8h.9v.9h-.9zM193.8 100.1h.9v.9h-.9zM205.3 90.0h.9v.9h-.9zM211.7 99.9h.9v.9h-.9zM205.2 93.1h.9v.9h-.9zM204.5 87.3h.9v.9h-.9zM198.5 96.0h.9v.9h-.9zM202.6 95.6h.9v.9h-.9zM199.6 97.1h.9v.9h-.9zM201.0 100.0h.9v.9h-.9zM199.2 86.9h.9v.9h-.9zM211.2 82.8h.9v.9h-.9zM206.4 92.7h.9v.9h-.9zM198.2 88.7h.9v.9h-.9zM202.5 90.5h.9v.9h-.9zM201.3 97.6h.9v.9h-.9zM198.8 86.4h.9v.9h-.9zM205.7 94.1h.9v.9h-.9zM199.2 98.8h.9v.9h-.9zM207.0 96.7h.9v.9h-.9zM197.3 82.8h.9v.9h-.9zM209.5 87.8h.9v.9h-.9zM196.5 86.7h.9v.9h-.9zM205.5 93.2h.9v.9h-.9zM197.3 87.7h.9v.9h-.9zM205.3 84.5h.9v.9h-.9zM191.6 87.7h.9v.9h-.9zM201.0 92.6h.9v.9h-.9zM194.6 78.8h.9v.9h-.9zM194.7 92.1h.9v.9h-.9zM204.3 98.5h.9v.9h-.9zM203.4 93.7h.9v.9h-.9zM202.6 97.1h.9v.9h-.9zM201.9 99.8h.9v.9h-.9zM203.2 99.4h.9v.9h-.9zM196.8 83.5h.9v.9h-.9zM208.0 80.1h.9v.9h-.9zM205.1 83.5h.9v.9h-.9zM210.7 86.2h.9v.9h-.9zM207.4 80.0h.9v.9h-.9zM214.5 94.1h.9v.9h-.9zM206.7 99.1h.9v.9h-.9zM207.9 99.4h.9v.9h-.9zM204.4 90.9h.9v.9h-.9zM200.8 88.1h.9v.9h-.9zM206.8 85.1h.9v.9h-.9zM209.2 101.8h.9v.9h-.9zM208.8 98.4h.9v.9h-.9zM207.8 98.7h.9v.9h-.9zM210.3 91.0h.9v.9h-.9zM192.2 80.5h.9v.9h-.9zM206.1 82.8h.9v.9h-.9zM201.8 81.8h.9v.9h-.9zM205.2 102.5h.9v.9h-.9zM199.8 81.3h.9v.9h-.9zM207.6 92.8h.9v.9h-.9zM210.2 97.1h.9v.9h-.9zM206.3 100.4h.9v.9h-.9zM209.1 93.9h.9v.9h-.9zM207.0 93.1h.9v.9h-.9zM209.8 87.3h.9v.9h-.9zM211.5 98.5h.9v.9h-.9zM207.2 81.1h.9v.9h-.9zM199.6 80.9h.9v.9h-.9zM196.8 88.7h.9v.9h-.9zM212.8 94.1h.9v.9h-.9zM198.6 88.3h.9v.9h-.9zM207.7 82.0h.9v.9h-.9zM207.7 100.4h.9v.9h-.9zM213.2 82.5h.9v.9h-.9zM202.3 85.6h.9v.9h-.9zM206.6 102.6h.9v.9h-.9zM194.8 94.9h.9v.9h-.9zM208.7 94.4h.9v.9h-.9zM205.2 93.7h.9v.9h-.9zM200.0 88.4h.9v.9h-.9zM203.6 95.1h.9v.9h-.9zM211.3 86.3h.9v.9h-.9zM205.7 86.2h.9v.9h-.9zM209.8 93.5h.9v.9h-.9zM203.6 92.7h.9v.9h-.9zM208.8 100.6h.9v.9h-.9zM209.0 84.2h.9v.9h-.9zM200.7 82.6h.9v.9h-.9zM213.0 99.5h.9v.9h-.9zM200.4 80.2h.9v.9h-.9zM215.2 82.2h.9v.9h-.9zM203.6 96.7h.9v.9h-.9zM199.4 81.4h.9v.9h-.9zM203.9 84.2h.9v.9h-.9zM204.2 95.3h.9v.9h-.9zM203.2 87.6h.9v.9h-.9zM202.4 81.6h.9v.9h-.9zM210.7 82.2h.9v.9h-.9zM203.9 96.4h.9v.9h-.9zM211.2 88.1h.9v.9h-.9zM210.5 95.2h.9v.9h-.9zM207.8 98.9h.9v.9h-.9zM207.0 101.0h.9v.9h-.9zM215.9 96.2h.9v.9h-.9zM188.5 88.5h.9v.9h-.9zM202.6 92.7h.9v.9h-.9zM206.7 99.3h.9v.9h-.9zM209.6 98.7h.9v.9h-.9zM204.7 90.2h.9v.9h-.9zM211.9 103.1h.9v.9h-.9zM210.1 100.6h.9v.9h-.9zM211.1 90.5h.9v.9h-.9zM201.4 91.6h.9v.9h-.9zM207.1 89.1h.9v.9h-.9zM213.9 84.4h.9v.9h-.9zM205.3 101.4h.9v.9h-.9zM208.1 98.9h.9v.9h-.9zM194.2 84.4h.9v.9h-.9zM205.6 83.2h.9v.9h-.9zM203.5 98.8h.9v.9h-.9zM206.6 81.2h.9v.9h-.9zM196.1 85.5h.9v.9h-.9zM205.7 93.7h.9v.9h-.9zM200.5 95.1h.9v.9h-.9zM206.9 98.7h.9v.9h-.9zM205.9 85.1h.9v.9h-.9zM205.3 82.1h.9v.9h-.9zM206.6 86.8h.9v.9h-.9zM215.5 94.3h.9v.9h-.9zM210.5 88.4h.9v.9h-.9zM199.0 92.3h.9v.9h-.9zM208.4 94.4h.9v.9h-.9zM206.4 95.2h.9v.9h-.9zM209.4 91.1h.9v.9h-.9zM207.4 90.4h.9v.9h-.9zM198.6 98.6h.9v.9h-.9zM199.6 85.8h.9v.9h-.9zM214.5 84.7h.9v.9h-.9zM208.6 86.2h.9v.9h-.9zM197.4 85.3h.9v.9h-.9zM199.0 82.3h.9v.9h-.9zM206.6 102.0h.9v.9h-.9zM193.1 82.4h.9v.9h-.9zM189.9 97.4h.9v.9h-.9zM207.9 94.6h.9v.9h-.9zM203.1 102.5h.9v.9h-.9zM198.2 86.7h.9v.9h-.9zM204.0 101.6h.9v.9h-.9zM199.0 83.0h.9v.9h-.9zM199.6 86.5h.9v.9h-.9zM212.8 90.3h.9v.9h-.9zM204.4 98.0h.9v.9h-.9zM208.2 95.6h.9v.9h-.9zM204.9 95.4h.9v.9h-.9zM211.3 91.0h.9v.9h-.9zM201.7 79.9h.9v.9h-.9zM187.7 81.7h.9v.9h-.9zM213.9 85.0h.9v.9h-.9zM212.7 82.7h.9v.9h-.9zM210.0 101.5h.9v.9h-.9zM195.3 93.2h.9v.9h-.9zM212.2 96.7h.9v.9h-.9zM208.7 101.9h.9v.9h-.9zM202.9 100.2h.9v.9h-.9zM197.4 81.5h.9v.9h-.9zM209.0 80.6h.9v.9h-.9zM201.8 95.7h.9v.9h-.9zM201.5 87.4h.9v.9h-.9zM198.7 90.5h.9v.9h-.9zM209.4 101.8h.9v.9h-.9zM199.7 94.3h.9v.9h-.9zM208.7 98.0h.9v.9h-.9zM203.2 94.9h.9v.9h-.9zM199.5 87.0h.9v.9h-.9zM205.2 94.3h.9v.9h-.9zM210.9 99.2h.9v.9h-.9zM210.3 98.7h.9v.9h-.9zM198.2 97.4h.9v.9h-.9zM203.2 84.3h.9v.9h-.9zM204.3 82.5h.9v.9h-.9zM208.7 94.8h.9v.9h-.9zM202.7 91.0h.9v.9h-.9zM213.7 102.3h.9v.9h-.9zM211.5 85.9h.9v.9h-.9zM205.9 103.7h.9v.9h-.9zM201.9 100.0h.9v.9h-.9zM200.6 79.4h.9v.9h-.9zM206.2 85.0h.9v.9h-.9zM211.2 95.6h.9v.9h-.9zM198.5 93.8h.9v.9h-.9zM198.4 85.2h.9v.9h-.9zM196.4 97.4h.9v.9h-.9zM201.7 98.1h.9v.9h-.9zM211.2 93.0h.9v.9h-.9zM210.5 99.5h.9v.9h-.9zM202.5 86.8h.9v.9h-.9zM204.1 94.5h.9v.9h-.9zM216.3 92.3h.9v.9h-.9zM211.0 83.9h.9v.9h-.9zM207.2 95.7h.9v.9h-.9zM199.9 85.6h.9v.9h-.9zM199.0 87.9h.9v.9h-.9zM203.5 86.2h.9v.9h-.9zM215.0 83.5h.9v.9h-.9zM205.1 96.1h.9v.9h-.9zM199.6 79.5h.9v.9h-.9zM206.8 92.7h.9v.9h-.9zM204.4 94.9h.9v.9h-.9zM211.3 97.3h.9v.9h-.9zM197.1 87.2h.9v.9h-.9zM203.1 81.8h.9v.9h-.9zM201.6 93.9h.9v.9h-.9zM207.9 80.8h.9v.9h-.9zM207.7 99.0h.9v.9h-.9zM196.3 78.7h.9v.9h-.9zM203.6 97.2h.9v.9h-.9zM203.9 90.9h.9v.9h-.9zM212.9 90.7h.9v.9h-.9zM206.9 88.4h.9v.9h-.9zM203.7 80.9h.9v.9h-.9zM199.8 94.6h.9v.9h-.9zM194.5 90.7h.9v.9h-.9zM195.2 92.3h.9v.9h-.9zM199.9 90.7h.9v.9h-.9zM208.3 99.0h.9v.9h-.9zM203.4 88.8h.9v.9h-.9zM211.6 98.1h.9v.9h-.9zM193.5 80.0h.9v.9h-.9zM201.4 87.2h.9v.9h-.9zM203.4 94.5h.9v.9h-.9zM194.7 81.8h.9v.9h-.9zM190.8 91.4h.9v.9h-.9zM196.0 82.2h.9v.9h-.9zM211.1 101.5h.9v.9h-.9zM196.0 95.7h.9v.9h-.9zM209.5 94.8h.9v.9h-.9zM209.7 95.1h.9v.9h-.9zM205.1 97.7h.9v.9h-.9zM206.6 95.5h.9v.9h-.9zM206.8 102.7h.9v.9h-.9zM201.4 81.4h.9v.9h-.9zM212.6 94.2h.9v.9h-.9zM208.8 79.1h.9v.9h-.9zM209.1 87.5h.9v.9h-.9zM205.7 92.6h.9v.9h-.9zM203.5 92.7h.9v.9h-.9zM203.4 82.5h.9v.9h-.9zM199.3 97.1h.9v.9h-.9zM199.0 92.3h.9v.9h-.9zM201.4 79.5h.9v.9h-.9zM190.0 83.9h.9v.9h-.9zM203.4 90.2h.9v.9h-.9zM205.4 98.3h.9v.9h-.9zM201.4 87.0h.9v.9h-.9zM204.7 96.3h.9v.9h-.9zM196.5 81.0h.9v.9h-.9zM216.0 99.8h.9v.9h-.9zM195.2 96.0h.9v.9h-.9zM197.0 84.7h.9v.9h-.9zM188.9 81.4h.9v.9h-.9zM206.0 93.2h.9v.9h-.9zM210.4 99.1h.9v.9h-.9zM214.2 91.2h.9v.9h-.9zM195.3 79.1h.9v.9h-.9zM205.9 83.6h.9v.9h-.9zM197.2 89.4h.9v.9h-.9zM200.1 79.9h.9v.9h-.9zM205.4 81.7h.9v.9h-.9zM193.0 87.9h.9v.9h-.9zM199.7 81.2h.9v.9h-.9zM203.1 99.1h.9v.9h-.9zM205.2 89.9h.9v.9h-.9zM209.5 97.5h.9v.9h-.9zM193.1 88.1h.9v.9h-.9zM201.0 85.3h.9v.9h-.9zM197.6 95.7h.9v.9h-.9zM192.2 95.0h.9v.9h-.9zM197.3 92.4h.9v.9h-.9zM196.6 82.4h.9v.9h-.9zM193.2 83.5h.9v.9h-.9zM201.0 99.5h.9v.9h-.9zM210.8 89.3h.9v.9h-.9zM206.9 100.2h.9v.9h-.9zM208.8 84.8h.9v.9h-.9zM212.4 95.5h.9v.9h-.9zM205.9 96.0h.9v.9h-.9zM204.9 85.3h.9v.9h-.9zM206.4 97.4h.9v.9h-.9zM195.6 81.3h.9v.9h-.9zM205.5 101.1h.9v.9h-.9zM204.0 82.7h.9v.9h-.9zM204.8 93.2h.9v.9h-.9zM208.1 101.3h.9v.9h-.9zM205.2 89.0h.9v.9h-.9zM195.9 92.0h.9v.9h-.9zM198.2 89.6h.9v.9h-.9zM202.3 94.0h.9v.9h-.9zM202.0 95.0h.9v.9h-.9zM193.7 86.7h.9v.9h-.9zM200.1 79.8h.9v.9h-.9zM198.9 92.7h.9v.9h-.9zM211.1 100.1h.9v.9h-.9zM200.7 95.5h.9v.9h-.9zM208.0 101.4h.9v.9h-.9zM187.5 81.8h.9v.9h-.9zM200.7 84.7h.9v.9h-.9zM211.3 103.4h.9v.9h-.9zM201.0 79.9h.9v.9h-.9zM206.5 87.0h.9v.9h-.9zM202.3 80.9h.9v.9h-.9zM199.4 83.6h.9v.9h-.9zM208.4 98.8h.9v.9h-.9zM204.7 86.0h.9v.9h-.9zM203.6 81.1h.9v.9h-.9zM198.8 88.0h.9v.9h-.9zM202.1 95.1h.9v.9h-.9zM190.0 95.2h.9v.9h-.9zM204.4 92.7h.9v.9h-.9zM201.5 99.8h.9v.9h-.9zM198.4 90.4h.9v.9h-.9zM208.3 91.5h.9v.9h-.9zM205.6 94.8h.9v.9h-.9zM203.3 80.5h.9v.9h-.9zM200.4 94.3h.9v.9h-.9zM208.0 97.9h.9v.9h-.9zM202.7 88.6h.9v.9h-.9zM206.9 98.9h.9v.9h-.9zM205.6 99.3h.9v.9h-.9zM213.8 99.3h.9v.9h-.9zM196.2 90.5h.9v.9h-.9zM202.7 82.4h.9v.9h-.9zM206.6 96.4h.9v.9h-.9zM207.4 81.4h.9v.9h-.9zM206.5 91.4h.9v.9h-.9zM201.6 93.7h.9v.9h-.9zM207.1 99.8h.9v.9h-.9zM213.1 97.0h.9v.9h-.9zM208.8 84.2h.9v.9h-.9zM198.5 81.8h.9v.9h-.9zM207.2 99.2h.9v.9h-.9zM202.2 89.2h.9v.9h-.9zM212.9 102.3h.9v.9h-.9zM204.3 99.1h.9v.9h-.9zM211.7 92.7h.9v.9h-.9zM214.2 100.8h.9v.9h-.9zM201.1 84.2h.9v.9h-.9zM206.4 102.9h.9v.9h-.9zM199.8 80.3h.9v.9h-.9zM208.0 90.3h.9v.9h-.9zM204.7 100.7h.9v.9h-.9zM205.4 94.4h.9v.9h-.9zM201.2 99.6h.9v.9h-.9zM200.0 86.5h.9v.9h-.9zM204.9 93.1h.9v.9h-.9zM192.6 82.4h.9v.9h-.9zM210.4 102.1h.9v.9h-.9zM209.1 95.1h.9v.9h-.9zM203.4 91.8h.9v.9h-.9zM208.3 93.5h.9v.9h-.9zM210.2 102.0h.9v.9h-.9zM196.3 82.5h.9v.9h-.9zM205.8 85.0h.9v.9h-.9zM205.4 92.4h.9v.9h-.9zM199.5 90.4h.9v.9h-.9zM206.5 92.7h.9v.9h-.9zM199.3 94.9h.9v.9h-.9zM181.7 80.2h.9v.9h-.9zM205.2 85.4h.9v.9h-.9zM203.0 80.9h.9v.9h-.9zM214.0 83.3h.9v.9h-.9zM201.5 89.9h.9v.9h-.9zM210.1 96.0h.9v.9h-.9zM196.6 85.0h.9v.9h-.9zM196.3 89.2h.9v.9h-.9zM201.3 88.7h.9v.9h-.9zM206.8 96.1h.9v.9h-.9zM201.2 80.0h.9v.9h-.9zM211.2 94.8h.9v.9h-.9zM212.5 100.9h.9v.9h-.9zM199.9 97.3h.9v.9h-.9zM202.4 94.1h.9v.9h-.9zM215.2 92.7h.9v.9h-.9zM211.8 85.0h.9v.9h-.9zM201.9 99.8h.9v.9h-.9zM196.5 79.2h.9v.9h-.9zM216.4 97.8h.9v.9h-.9zM197.2 86.1h.9v.9h-.9zM213.0 99.6h.9v.9h-.9zM189.9 84.1h.9v.9h-.9zM206.9 100.9h.9v.9h-.9zM200.5 95.1h.9v.9h-.9zM205.0 82.1h.9v.9h-.9zM211.3 81.7h.9v.9h-.9zM206.2 83.2h.9v.9h-.9zM209.7 82.0h.9v.9h-.9zM211.4 86.6h.9v.9h-.9zM214.3 84.3h.9v.9h-.9zM209.0 99.6h.9v.9h-.9zM191.2 86.4h.9v.9h-.9zM194.8 90.1h.9v.9h-.9zM209.1 83.8h.9v.9h-.9zM209.1 93.8h.9v.9h-.9zM211.5 92.8h.9v.9h-.9zM200.2 81.4h.9v.9h-.9zM199.2 82.0h.9v.9h-.9zM199.3 100.8h.9v.9h-.9zM200.2 96.4h.9v.9h-.9zM206.8 100.9h.9v.9h-.9zM201.2 93.9h.9v.9h-.9zM197.8 97.2h.9v.9h-.9zM211.5 80.7h.9v.9h-.9zM203.1 87.3h.9v.9h-.9zM206.2 93.7h.9v.9h-.9zM205.7 94.7h.9v.9h-.9zM202.4 86.2h.9v.9h-.9zM193.7 79.6h.9v.9h-.9zM209.0 90.9h.9v.9h-.9zM205.1 102.6h.9v.9h-.9zM199.3 94.4h.9v.9h-.9zM212.5 100.1h.9v.9h-.9zM207.9 104.6h.9v.9h-.9zM209.1 98.3h.9v.9h-.9zM197.2 98.5h.9v.9h-.9zM214.8 100.9h.9v.9h-.9zM196.7 84.7h.9v.9h-.9zM200.5 98.0h.9v.9h-.9zM201.1 90.6h.9v.9h-.9zM194.8 81.3h.9v.9h-.9zM196.9 86.7h.9v.9h-.9zM208.9 99.6h.9v.9h-.9zM213.3 98.6h.9v.9h-.9zM206.3 101.6h.9v.9h-.9zM207.4 101.5h.9v.9h-.9zM207.8 103.4h.9v.9h-.9zM204.7 90.1h.9v.9h-.9zM193.1 81.9h.9v.9h-.9zM213.1 81.2h.9v.9h-.9zM197.3 94.7h.9v.9h-.9zM198.6 87.1h.9v.9h-.9zM201.0 82.6h.9v.9h-.9zM196.1 86.3h.9v.9h-.9zM203.6 87.1h.9v.9h-.9zM205.8 95.7h.9v.9h-.9zM194.3 82.4h.9v.9h-.9zM204.4 87.0h.9v.9h-.9zM206.6 93.9h.9v.9h-.9zM203.2 100.2h.9v.9h-.9zM204.3 86.1h.9v.9h-.9zM193.7 95.8h.9v.9h-.9zM207.3 93.1h.9v.9h-.9zM207.9 99.9h.9v.9h-.9zM202.4 81.1h.9v.9h-.9zM200.4 91.5h.9v.9h-.9zM212.7 94.7h.9v.9h-.9zM209.8 98.4h.9v.9h-.9zM212.8 95.6h.9v.9h-.9zM204.6 100.8h.9v.9h-.9zM209.2 93.3h.9v.9h-.9zM214.4 87.3h.9v.9h-.9zM213.2 95.3h.9v.9h-.9zM196.7 85.5h.9v.9h-.9zM207.0 100.4h.9v.9h-.9zM198.5 85.4h.9v.9h-.9zM200.3 83.4h.9v.9h-.9zM204.4 92.0h.9v.9h-.9zM214.5 87.4h.9v.9h-.9zM212.9 86.4h.9v.9h-.9zM201.9 85.7h.9v.9h-.9zM207.9 81.4h.9v.9h-.9zM202.9 96.9h.9v.9h-.9zM196.4 91.0h.9v.9h-.9zM197.6 98.9h.9v.9h-.9zM200.6 94.7h.9v.9h-.9zM216.1 98.9h.9v.9h-.9zM203.1 81.2h.9v.9h-.9zM209.6 100.6h.9v.9h-.9zM209.5 84.7h.9v.9h-.9zM190.2 86.8h.9v.9h-.9zM206.0 100.4h.9v.9h-.9zM205.2 94.3h.9v.9h-.9zM212.3 95.9h.9v.9h-.9zM208.1 97.1h.9v.9h-.9zM196.6 95.7h.9v.9h-.9zM199.2 100.3h.9v.9h-.9zM208.8 101.7h.9v.9h-.9zM207.7 99.6h.9v.9h-.9zM199.3 98.1h.9v.9h-.9zM201.6 102.0h.9v.9h-.9zM206.4 97.5h.9v.9h-.9zM199.2 97.1h.9v.9h-.9zM207.2 95.1h.9v.9h-.9zM200.3 83.2h.9v.9h-.9zM205.0 98.5h.9v.9h-.9zM215.5 86.3h.9v.9h-.9zM199.2 92.0h.9v.9h-.9zM195.4 86.6h.9v.9h-.9zM199.4 86.9h.9v.9h-.9zM187.3 87.2h.9v.9h-.9zM209.6 96.2h.9v.9h-.9zM209.2 97.4h.9v.9h-.9zM204.1 90.4h.9v.9h-.9zM201.0 80.4h.9v.9h-.9zM206.0 98.9h.9v.9h-.9zM195.9 93.8h.9v.9h-.9zM203.5 93.3h.9v.9h-.9zM202.1 85.9h.9v.9h-.9zM209.4 94.8h.9v.9h-.9zM204.0 84.6h.9v.9h-.9zM210.1 92.7h.9v.9h-.9zM205.9 80.8h.9v.9h-.9zM190.0 88.1h.9v.9h-.9zM198.4 89.7h.9v.9h-.9zM209.2 98.3h.9v.9h-.9zM199.1 84.0h.9v.9h-.9zM203.8 91.7h.9v.9h-.9zM210.1 97.4h.9v.9h-.9zM195.5 84.9h.9v.9h-.9zM203.9 87.3h.9v.9h-.9zM214.3 101.6h.9v.9h-.9zM201.4 79.9h.9v.9h-.9zM198.7 89.1h.9v.9h-.9zM203.7 90.9h.9v.9h-.9zM198.5 79.9h.9v.9h-.9zM198.3 95.0h.9v.9h-.9zM206.5 84.7h.9v.9h-.9zM206.1 97.7h.9v.9h-.9zM199.4 101.8h.9v.9h-.9zM209.8 81.7h.9v.9h-.9zM194.5 79.8h.9v.9h-.9zM205.4 94.9h.9v.9h-.9zM204.7 81.9h.9v.9h-.9zM201.5 85.3h.9v.9h-.9zM192.2 79.8h.9v.9h-.9zM187.2 86.1h.9v.9h-.9zM204.0 99.6h.9v.9h-.9zM206.3 95.0h.9v.9h-.9zM193.2 81.9h.9v.9h-.9zM199.3 83.8h.9v.9h-.9zM212.3 97.8h.9v.9h-.9zM199.8 95.3h.9v.9h-.9zM207.4 95.9h.9v.9h-.9zM199.9 97.4h.9v.9h-.9zM204.5 82.1h.9v.9h-.9zM201.3 87.3h.9v.9h-.9zM211.1 85.2h.9v.9h-.9zM200.7 99.4h.9v.9h-.9zM209.2 96.4h.9v.9h-.9zM198.0 92.9h.9v.9h-.9zM207.6 97.4h.9v.9h-.9zM213.4 95.2h.9v.9h-.9zM204.2 89.2h.9v.9h-.9zM210.7 80.4h.9v.9h-.9zM202.6 92.6h.9v.9h-.9zM211.0 99.6h.9v.9h-.9zM196.4 79.2h.9v.9h-.9zM206.2 101.4h.9v.9h-.9zM204.0 91.2h.9v.9h-.9zM194.0 89.5h.9v.9h-.9zM198.9 92.6h.9v.9h-.9zM204.5 101.0h.9v.9h-.9zM214.5 97.0h.9v.9h-.9zM207.6 100.4h.9v.9h-.9zM199.9 97.1h.9v.9h-.9zM193.0 81.2h.9v.9h-.9zM206.6 100.7h.9v.9h-.9zM199.2 95.6h.9v.9h-.9zM203.9 86.7h.9v.9h-.9zM193.6 80.8h.9v.9h-.9zM198.9 94.3h.9v.9h-.9zM208.6 89.8h.9v.9h-.9zM196.1 96.9h.9v.9h-.9zM200.3 93.7h.9v.9h-.9zM199.9 100.0h.9v.9h-.9zM205.6 81.8h.9v.9h-.9zM210.3 90.2h.9v.9h-.9zM211.0 84.7h.9v.9h-.9zM205.4 82.6h.9v.9h-.9zM204.5 102.4h.9v.9h-.9zM200.4 81.7h.9v.9h-.9zM205.1 92.5h.9v.9h-.9zM210.5 98.4h.9v.9h-.9zM210.0 92.3h.9v.9h-.9zM207.1 85.2h.9v.9h-.9zM210.4 97.7h.9v.9h-.9zM193.7 96.1h.9v.9h-.9zM201.1 92.5h.9v.9h-.9zM210.5 87.4h.9v.9h-.9zM204.2 98.8h.9v.9h-.9zM203.6 91.7h.9v.9h-.9zM198.6 88.6h.9v.9h-.9zM206.5 100.9h.9v.9h-.9zM199.3 90.1h.9v.9h-.9zM188.9 85.6h.9v.9h-.9zM208.9 101.0h.9v.9h-.9zM207.1 93.5h.9v.9h-.9zM202.6 99.8h.9v.9h-.9zM192.9 93.7h.9v.9h-.9zM204.3 97.6h.9v.9h-.9zM198.1 94.9h.9v.9h-.9zM208.9 85.2h.9v.9h-.9zM199.9 83.3h.9v.9h-.9zM191.6 85.9h.9v.9h-.9zM199.9 92.7h.9v.9h-.9zM214.4 87.7h.9v.9h-.9zM202.8 92.5h.9v.9h-.9zM199.2 93.0h.9v.9h-.9zM205.9 103.2h.9v.9h-.9zM195.7 90.5h.9v.9h-.9zM209.4 95.1h.9v.9h-.9zM192.3 85.0h.9v.9h-.9zM207.5 93.4h.9v.9h-.9zM208.5 83.1h.9v.9h-.9zM208.0 84.8h.9v.9h-.9zM201.5 86.6h.9v.9h-.9zM203.3 96.8h.9v.9h-.9zM200.9 79.2h.9v.9h-.9zM204.1 87.0h.9v.9h-.9zM205.8 85.0h.9v.9h-.9zM201.7 83.4h.9v.9h-.9zM204.6 89.1h.9v.9h-.9zM203.0 96.4h.9v.9h-.9zM197.8 88.8h.9v.9h-.9zM211.7 99.3h.9v.9h-.9zM205.4 87.2h.9v.9h-.9zM205.9 78.1h.9v.9h-.9zM214.2 94.5h.9v.9h-.9zM197.3 84.5h.9v.9h-.9zM202.1 95.9h.9v.9h-.9zM201.6 91.7h.9v.9h-.9zM208.5 87.6h.9v.9h-.9zM196.1 93.0h.9v.9h-.9zM201.0 94.2h.9v.9h-.9zM210.1 98.5h.9v.9h-.9zM193.2 89.3h.9v.9h-.9zM208.1 91.0h.9v.9h-.9zM213.0 85.5h.9v.9h-.9zM204.8 83.4h.9v.9h-.9zM203.4 101.1h.9v.9h-.9zM200.0 87.6h.9v.9h-.9zM196.6 88.0h.9v.9h-.9zM201.0 81.7h.9v.9h-.9zM209.1 87.5h.9v.9h-.9zM209.5 87.7h.9v.9h-.9zM195.4 98.6h.9v.9h-.9zM202.4 98.3h.9v.9h-.9zM207.8 98.1h.9v.9h-.9zM201.5 90.6h.9v.9h-.9zM193.9 98.0h.9v.9h-.9zM202.6 79.6h.9v.9h-.9zM207.1 90.8h.9v.9h-.9zM203.1 88.5h.9v.9h-.9zM202.2 86.5h.9v.9h-.9zM208.4 83.6h.9v.9h-.9zM200.5 100.5h.9v.9h-.9zM206.2 103.0h.9v.9h-.9zM208.5 99.5h.9v.9h-.9zM203.1 99.3h.9v.9h-.9zM207.8 86.1h.9v.9h-.9zM213.7 82.4h.9v.9h-.9zM208.7 91.8h.9v.9h-.9zM207.7 81.7h.9v.9h-.9zM212.0 94.3h.9v.9h-.9zM194.5 93.6h.9v.9h-.9zM204.7 78.2h.9v.9h-.9zM200.0 87.5h.9v.9h-.9zM213.6 94.2h.9v.9h-.9zM207.9 96.4h.9v.9h-.9zM206.4 94.1h.9v.9h-.9zM203.0 81.7h.9v.9h-.9zM198.9 96.0h.9v.9h-.9zM211.3 100.9h.9v.9h-.9zM193.1 89.4h.9v.9h-.9zM200.8 83.7h.9v.9h-.9zM204.8 98.8h.9v.9h-.9zM210.2 92.4h.9v.9h-.9zM201.7 81.4h.9v.9h-.9zM196.5 84.2h.9v.9h-.9zM207.0 84.8h.9v.9h-.9zM214.8 96.6h.9v.9h-.9zM199.9 95.5h.9v.9h-.9zM213.3 99.3h.9v.9h-.9zM197.5 83.3h.9v.9h-.9zM202.5 91.0h.9v.9h-.9zM204.1 94.8h.9v.9h-.9zM200.6 97.2h.9v.9h-.9zM214.5 100.0h.9v.9h-.9zM208.1 86.7h.9v.9h-.9zM206.0 81.3h.9v.9h-.9zM195.4 90.7h.9v.9h-.9zM209.1 95.5h.9v.9h-.9zM195.9 82.9h.9v.9h-.9zM212.5 91.4h.9v.9h-.9zM191.0 86.3h.9v.9h-.9zM209.6 96.7h.9v.9h-.9zM195.0 92.3h.9v.9h-.9zM195.9 93.0h.9v.9h-.9zM203.0 80.4h.9v.9h-.9zM208.0 83.0h.9v.9h-.9zM210.9 90.6h.9v.9h-.9zM201.3 90.5h.9v.9h-.9zM200.1 89.9h.9v.9h-.9zM209.0 86.6h.9v.9h-.9zM193.5 81.2h.9v.9h-.9zM194.0 82.2h.9v.9h-.9zM207.9 93.9h.9v.9h-.9zM207.1 92.1h.9v.9h-.9zM203.5 86.8h.9v.9h-.9zM212.4 96.5h.9v.9h-.9zM197.5 97.2h.9v.9h-.9zM209.1 99.6h.9v.9h-.9zM203.2 95.4h.9v.9h-.9zM200.3 98.7h.9v.9h-.9zM211.9 91.8h.9v.9h-.9zM209.2 98.1h.9v.9h-.9zM211.1 87.1h.9v.9h-.9zM207.6 85.9h.9v.9h-.9zM204.9 99.9h.9v.9h-.9zM205.3 98.1h.9v.9h-.9zM196.1 89.8h.9v.9h-.9zM202.4 99.4h.9v.9h-.9zM202.1 91.4h.9v.9h-.9zM202.3 96.4h.9v.9h-.9zM204.9 80.9h.9v.9h-.9zM213.7 100.3h.9v.9h-.9zM203.9 98.1h.9v.9h-.9zM207.4 93.0h.9v.9h-.9zM210.7 101.0h.9v.9h-.9zM203.5 93.0h.9v.9h-.9zM203.3 79.1h.9v.9h-.9zM213.4 80.3h.9v.9h-.9zM194.1 88.4h.9v.9h-.9zM203.4 88.4h.9v.9h-.9zM207.2 99.1h.9v.9h-.9zM202.4 101.0h.9v.9h-.9zM201.4 85.2h.9v.9h-.9zM205.3 90.4h.9v.9h-.9zM210.4 85.7h.9v.9h-.9zM210.6 95.5h.9v.9h-.9zM201.6 93.1h.9v.9h-.9zM196.1 84.1h.9v.9h-.9zM209.2 85.1h.9v.9h-.9zM192.2 84.2h.9v.9h-.9zM200.5 90.3h.9v.9h-.9zM196.4 89.6h.9v.9h-.9zM193.4 89.1h.9v.9h-.9zM204.5 85.4h.9v.9h-.9zM192.4 83.1h.9v.9h-.9zM199.1 87.6h.9v.9h-.9zM210.5 81.5h.9v.9h-.9zM213.6 90.5h.9v.9h-.9zM193.5 85.3h.9v.9h-.9zM200.6 95.9h.9v.9h-.9zM202.1 98.3h.9v.9h-.9zM192.9 83.1h.9v.9h-.9zM211.5 86.1h.9v.9h-.9zM210.5 97.0h.9v.9h-.9zM205.9 85.8h.9v.9h-.9zM201.7 98.6h.9v.9h-.9zM207.6 85.1h.9v.9h-.9zM205.1 90.9h.9v.9h-.9zM204.2 92.5h.9v.9h-.9zM209.3 98.7h.9v.9h-.9zM212.9 97.1h.9v.9h-.9zM206.0 98.3h.9v.9h-.9zM198.2 79.2h.9v.9h-.9zM195.8 85.7h.9v.9h-.9zM213.5 101.0h.9v.9h-.9zM205.1 81.6h.9v.9h-.9zM194.7 98.7h.9v.9h-.9zM208.1 102.3h.9v.9h-.9zM207.5 82.7h.9v.9h-.9zM200.7 102.2h.9v.9h-.9zM198.4 97.3h.9v.9h-.9zM208.5 79.0h.9v.9h-.9zM199.5 81.0h.9v.9h-.9zM191.8 82.7h.9v.9h-.9zM202.1 82.7h.9v.9h-.9zM203.6 79.0h.9v.9h-.9zM195.9 84.6h.9v.9h-.9zM201.6 96.7h.9v.9h-.9zM206.7 99.0h.9v.9h-.9zM204.5 94.1h.9v.9h-.9zM214.5 88.2h.9v.9h-.9zM212.3 93.9h.9v.9h-.9zM208.2 95.8h.9v.9h-.9zM199.8 91.2h.9v.9h-.9zM197.4 82.1h.9v.9h-.9zM185.5 80.3h.9v.9h-.9zM201.8 84.9h.9v.9h-.9zM199.8 85.7h.9v.9h-.9zM203.7 100.0h.9v.9h-.9zM209.3 95.9h.9v.9h-.9zM211.9 94.4h.9v.9h-.9zM193.6 92.8h.9v.9h-.9zM207.9 97.0h.9v.9h-.9zM206.7 91.6h.9v.9h-.9zM204.7 101.7h.9v.9h-.9zM202.7 98.2h.9v.9h-.9zM213.9 85.7h.9v.9h-.9zM208.8 93.2h.9v.9h-.9zM203.7 101.0h.9v.9h-.9zM201.0 98.2h.9v.9h-.9zM205.5 99.8h.9v.9h-.9zM209.2 91.8h.9v.9h-.9zM212.1 93.0h.9v.9h-.9zM215.1 80.6h.9v.9h-.9zM199.7 90.6h.9v.9h-.9zM193.7 88.0h.9v.9h-.9zM211.5 100.5h.9v.9h-.9zM208.8 87.4h.9v.9h-.9zM208.2 94.7h.9v.9h-.9zM211.9 83.7h.9v.9h-.9zM199.0 91.3h.9v.9h-.9zM193.7 90.7h.9v.9h-.9zM216.3 87.5h.9v.9h-.9zM204.8 86.9h.9v.9h-.9zM199.3 80.8h.9v.9h-.9zM208.8 91.1h.9v.9h-.9zM203.9 86.4h.9v.9h-.9zM214.4 88.4h.9v.9h-.9zM203.3 86.0h.9v.9h-.9zM215.8 102.3h.9v.9h-.9zM208.3 101.6h.9v.9h-.9zM210.4 84.4h.9v.9h-.9zM206.7 99.7h.9v.9h-.9zM208.3 94.1h.9v.9h-.9zM205.1 90.3h.9v.9h-.9zM204.5 98.8h.9v.9h-.9zM205.9 95.4h.9v.9h-.9zM209.0 94.6h.9v.9h-.9zM201.4 83.6h.9v.9h-.9zM199.4 87.1h.9v.9h-.9zM209.0 100.6h.9v.9h-.9zM211.8 82.5h.9v.9h-.9zM205.0 95.8h.9v.9h-.9zM197.4 90.5h.9v.9h-.9zM200.5 95.1h.9v.9h-.9zM204.2 91.6h.9v.9h-.9zM214.4 98.7h.9v.9h-.9zM199.8 95.7h.9v.9h-.9zM212.1 99.8h.9v.9h-.9zM200.2 81.1h.9v.9h-.9zM201.2 94.5h.9v.9h-.9zM198.5 83.8h.9v.9h-.9zM210.3 86.2h.9v.9h-.9zM205.0 100.8h.9v.9h-.9zM212.7 96.1h.9v.9h-.9zM216.3 97.8h.9v.9h-.9zM197.6 88.5h.9v.9h-.9zM202.0 102.1h.9v.9h-.9zM193.9 92.5h.9v.9h-.9zM208.6 97.0h.9v.9h-.9zM195.9 83.5h.9v.9h-.9zM197.3 82.3h.9v.9h-.9zM201.7 97.0h.9v.9h-.9zM211.9 89.4h.9v.9h-.9zM208.9 95.7h.9v.9h-.9zM207.8 92.5h.9v.9h-.9zM191.7 88.0h.9v.9h-.9zM195.2 80.4h.9v.9h-.9zM206.1 98.8h.9v.9h-.9zM201.4 84.9h.9v.9h-.9zM203.4 80.5h.9v.9h-.9zM213.4 89.0h.9v.9h-.9zM208.1 91.8h.9v.9h-.9zM209.8 97.0h.9v.9h-.9zM200.4 81.2h.9v.9h-.9zM201.7 92.5h.9v.9h-.9zM198.7 83.8h.9v.9h-.9zM200.7 81.6h.9v.9h-.9zM196.6 96.0h.9v.9h-.9zM199.6 90.0h.9v.9h-.9zM205.3 95.4h.9v.9h-.9zM200.0 89.1h.9v.9h-.9zM207.2 102.3h.9v.9h-.9zM190.3 86.4h.9v.9h-.9zM198.7 85.9h.9v.9h-.9zM206.2 98.6h.9v.9h-.9zM210.9 92.4h.9v.9h-.9zM203.0 85.3h.9v.9h-.9zM202.0 90.4h.9v.9h-.9zM201.4 94.1h.9v.9h-.9zM204.5 92.9h.9v.9h-.9zM197.0 77.1h.9v.9h-.9zM210.1 100.5h.9v.9h-.9zM202.2 95.6h.9v.9h-.9zM210.0 101.3h.9v.9h-.9zM200.3 92.7h.9v.9h-.9zM192.2 85.3h.9v.9h-.9zM193.1 87.3h.9v.9h-.9zM210.7 99.7h.9v.9h-.9zM202.6 97.0h.9v.9h-.9zM199.3 87.3h.9v.9h-.9zM197.0 92.2h.9v.9h-.9zM202.5 88.5h.9v.9h-.9zM192.6 84.2h.9v.9h-.9zM197.7 84.8h.9v.9h-.9zM206.4 90.0h.9v.9h-.9zM203.3 95.3h.9v.9h-.9zM215.1 94.7h.9v.9h-.9zM195.8 85.3h.9v.9h-.9zM204.3 103.2h.9v.9h-.9zM191.8 82.6h.9v.9h-.9zM202.9 88.6h.9v.9h-.9zM196.1 82.6h.9v.9h-.9zM202.3 90.2h.9v.9h-.9zM197.7 89.1h.9v.9h-.9zM206.5 92.2h.9v.9h-.9zM200.7 93.8h.9v.9h-.9zM201.6 80.9h.9v.9h-.9zM204.4 95.7h.9v.9h-.9zM198.3 89.7h.9v.9h-.9zM206.2 98.9h.9v.9h-.9zM207.1 101.6h.9v.9h-.9zM208.6 98.5h.9v.9h-.9zM196.5 98.5h.9v.9h-.9zM212.9 94.6h.9v.9h-.9zM205.0 93.2h.9v.9h-.9zM205.5 88.2h.9v.9h-.9zM206.6 90.0h.9v.9h-.9zM193.8 87.4h.9v.9h-.9zM207.7 88.9h.9v.9h-.9zM208.4 101.3h.9v.9h-.9zM201.3 92.6h.9v.9h-.9zM206.5 78.5h.9v.9h-.9zM201.1 87.8h.9v.9h-.9zM201.7 99.3h.9v.9h-.9zM208.4 87.3h.9v.9h-.9zM209.4 95.9h.9v.9h-.9zM203.9 82.4h.9v.9h-.9zM201.0 83.7h.9v.9h-.9zM212.8 85.3h.9v.9h-.9zM199.3 88.1h.9v.9h-.9zM207.2 98.2h.9v.9h-.9zM200.9 84.1h.9v.9h-.9zM204.7 96.7h.9v.9h-.9zM206.8 91.4h.9v.9h-.9zM194.5 80.6h.9v.9h-.9zM206.0 86.6h.9v.9h-.9zM205.6 91.5h.9v.9h-.9zM199.7 83.5h.9v.9h-.9zM198.8 89.3h.9v.9h-.9zM198.4 96.2h.9v.9h-.9zM205.6 95.1h.9v.9h-.9zM213.9 88.7h.9v.9h-.9zM202.4 96.4h.9v.9h-.9zM197.3 88.5h.9v.9h-.9zM198.0 85.4h.9v.9h-.9zM204.7 87.7h.9v.9h-.9zM204.7 80.3h.9v.9h-.9zM208.1 98.9h.9v.9h-.9zM201.6 83.1h.9v.9h-.9zM197.1 92.3h.9v.9h-.9zM209.6 87.8h.9v.9h-.9zM201.4 89.7h.9v.9h-.9zM204.3 81.6h.9v.9h-.9zM207.1 99.5h.9v.9h-.9zM203.4 89.3h.9v.9h-.9zM208.4 89.0h.9v.9h-.9zM202.6 81.3h.9v.9h-.9zM216.4 97.4h.9v.9h-.9zM212.1 84.8h.9v.9h-.9zM210.2 95.5h.9v.9h-.9zM201.9 89.8h.9v.9h-.9zM208.6 89.6h.9v.9h-.9zM204.8 84.9h.9v.9h-.9zM208.0 89.2h.9v.9h-.9zM203.7 87.6h.9v.9h-.9zM194.4 80.0h.9v.9h-.9zM201.2 97.1h.9v.9h-.9zM207.4 102.4h.9v.9h-.9zM211.3 103.8h.9v.9h-.9zM205.4 96.4h.9v.9h-.9zM204.2 99.9h.9v.9h-.9zM204.3 94.8h.9v.9h-.9z" fill="#000" fill-opacity="0.42"/>
<path d="M211.5 103.3h.9v.9h-.9zM205.0 97.4h.9v.9h-.9zM207.1 95.5h.9v.9h-.9zM213.4 96.7h.9v.9h-.9zM206.6 87.6h.9v.9h-.9zM206.0 98.6h.9v.9h-.9zM205.8 89.2h.9v.9h-.9zM208.6 94.6h.9v.9h-.9zM211.0 98.6h.9v.9h-.9zM209.0 89.4h.9v.9h-.9zM205.5 101.4h.9v.9h-.9zM208.6 93.2h.9v.9h-.9zM214.7 96.4h.9v.9h-.9zM207.6 98.5h.9v.9h-.9zM206.4 100.5h.9v.9h-.9zM207.6 95.0h.9v.9h-.9zM200.9 90.2h.9v.9h-.9zM203.1 82.5h.9v.9h-.9zM203.9 96.2h.9v.9h-.9zM209.4 108.7h.9v.9h-.9zM199.5 95.6h.9v.9h-.9zM205.6 97.4h.9v.9h-.9zM204.7 90.8h.9v.9h-.9zM206.8 93.4h.9v.9h-.9zM213.5 91.6h.9v.9h-.9zM209.3 100.6h.9v.9h-.9zM207.8 93.9h.9v.9h-.9zM206.0 94.1h.9v.9h-.9zM203.6 96.3h.9v.9h-.9zM214.0 103.0h.9v.9h-.9zM204.6 101.1h.9v.9h-.9zM206.3 94.4h.9v.9h-.9zM206.7 100.7h.9v.9h-.9zM202.3 90.6h.9v.9h-.9zM208.7 83.7h.9v.9h-.9zM205.3 98.3h.9v.9h-.9zM206.0 93.6h.9v.9h-.9zM214.7 102.1h.9v.9h-.9zM209.1 101.3h.9v.9h-.9zM206.1 93.5h.9v.9h-.9zM212.6 103.0h.9v.9h-.9zM204.5 105.7h.9v.9h-.9zM215.2 100.0h.9v.9h-.9zM203.8 100.9h.9v.9h-.9zM206.2 103.6h.9v.9h-.9zM206.7 95.1h.9v.9h-.9zM203.7 95.8h.9v.9h-.9zM205.7 87.1h.9v.9h-.9zM203.5 89.9h.9v.9h-.9zM210.6 95.8h.9v.9h-.9zM206.3 102.2h.9v.9h-.9zM206.8 94.0h.9v.9h-.9zM206.7 102.8h.9v.9h-.9zM204.9 84.8h.9v.9h-.9zM204.1 94.1h.9v.9h-.9zM199.7 102.8h.9v.9h-.9zM209.9 88.9h.9v.9h-.9zM210.9 97.7h.9v.9h-.9zM206.4 89.9h.9v.9h-.9zM213.5 96.2h.9v.9h-.9zM205.1 100.8h.9v.9h-.9zM206.0 90.0h.9v.9h-.9zM209.6 97.2h.9v.9h-.9zM199.8 96.5h.9v.9h-.9zM209.1 100.5h.9v.9h-.9zM210.8 95.4h.9v.9h-.9zM206.2 88.3h.9v.9h-.9zM205.3 91.1h.9v.9h-.9zM211.0 102.1h.9v.9h-.9zM201.9 82.4h.9v.9h-.9zM209.0 101.3h.9v.9h-.9zM203.9 86.8h.9v.9h-.9zM207.8 89.7h.9v.9h-.9zM206.6 94.1h.9v.9h-.9zM207.4 86.4h.9v.9h-.9zM211.2 96.3h.9v.9h-.9zM212.8 87.4h.9v.9h-.9zM198.8 96.0h.9v.9h-.9zM201.5 96.3h.9v.9h-.9zM200.5 101.5h.9v.9h-.9zM207.6 99.3h.9v.9h-.9zM204.3 86.9h.9v.9h-.9zM211.7 102.1h.9v.9h-.9zM211.2 91.0h.9v.9h-.9zM207.7 98.6h.9v.9h-.9zM204.6 95.8h.9v.9h-.9zM208.1 100.7h.9v.9h-.9zM201.9 105.8h.9v.9h-.9zM206.9 95.9h.9v.9h-.9zM206.0 102.3h.9v.9h-.9zM209.2 95.6h.9v.9h-.9zM209.5 91.3h.9v.9h-.9zM208.5 89.7h.9v.9h-.9zM207.8 106.9h.9v.9h-.9zM203.6 91.4h.9v.9h-.9zM206.3 97.0h.9v.9h-.9zM208.8 95.9h.9v.9h-.9zM207.0 96.0h.9v.9h-.9zM214.0 84.1h.9v.9h-.9zM209.2 100.9h.9v.9h-.9zM204.5 100.3h.9v.9h-.9zM205.8 79.1h.9v.9h-.9zM215.3 101.0h.9v.9h-.9zM207.9 90.6h.9v.9h-.9zM205.7 91.9h.9v.9h-.9zM205.9 103.0h.9v.9h-.9zM196.7 83.5h.9v.9h-.9zM205.8 100.9h.9v.9h-.9zM204.4 101.2h.9v.9h-.9zM204.5 95.6h.9v.9h-.9zM207.2 98.0h.9v.9h-.9zM208.8 94.3h.9v.9h-.9zM201.8 87.7h.9v.9h-.9zM211.8 97.3h.9v.9h-.9zM209.9 90.9h.9v.9h-.9zM210.4 101.1h.9v.9h-.9zM211.5 94.7h.9v.9h-.9zM210.1 87.0h.9v.9h-.9zM205.0 89.9h.9v.9h-.9zM202.6 97.5h.9v.9h-.9zM209.5 90.6h.9v.9h-.9zM204.6 92.6h.9v.9h-.9zM206.1 101.3h.9v.9h-.9zM208.8 85.9h.9v.9h-.9zM209.3 98.1h.9v.9h-.9zM203.1 85.5h.9v.9h-.9zM204.7 88.2h.9v.9h-.9zM208.8 97.8h.9v.9h-.9zM211.2 91.3h.9v.9h-.9zM207.2 93.5h.9v.9h-.9zM207.7 91.6h.9v.9h-.9zM203.8 89.3h.9v.9h-.9zM207.2 96.3h.9v.9h-.9zM213.5 96.9h.9v.9h-.9zM207.4 102.2h.9v.9h-.9zM209.8 92.3h.9v.9h-.9zM207.1 93.6h.9v.9h-.9zM206.1 96.2h.9v.9h-.9zM205.2 91.7h.9v.9h-.9zM207.5 92.0h.9v.9h-.9zM199.3 92.8h.9v.9h-.9zM210.8 96.6h.9v.9h-.9zM208.9 96.2h.9v.9h-.9zM201.8 86.5h.9v.9h-.9zM201.7 96.1h.9v.9h-.9zM205.6 96.2h.9v.9h-.9zM207.1 109.5h.9v.9h-.9zM205.3 104.3h.9v.9h-.9zM206.8 103.7h.9v.9h-.9zM215.6 105.0h.9v.9h-.9zM212.6 97.7h.9v.9h-.9zM199.2 86.1h.9v.9h-.9zM208.6 100.9h.9v.9h-.9zM203.3 103.7h.9v.9h-.9zM205.4 88.6h.9v.9h-.9zM210.3 109.6h.9v.9h-.9zM204.9 97.8h.9v.9h-.9zM207.4 92.7h.9v.9h-.9zM212.6 103.8h.9v.9h-.9zM210.9 104.6h.9v.9h-.9zM208.3 100.2h.9v.9h-.9zM204.4 103.3h.9v.9h-.9zM203.9 84.5h.9v.9h-.9zM204.4 86.1h.9v.9h-.9zM203.4 100.7h.9v.9h-.9zM207.6 87.8h.9v.9h-.9zM198.6 100.1h.9v.9h-.9zM202.5 100.1h.9v.9h-.9zM209.1 96.7h.9v.9h-.9zM214.3 97.8h.9v.9h-.9zM204.9 91.8h.9v.9h-.9zM206.3 96.7h.9v.9h-.9zM200.8 93.6h.9v.9h-.9zM204.0 84.7h.9v.9h-.9zM201.4 97.3h.9v.9h-.9zM202.2 103.2h.9v.9h-.9zM208.1 96.0h.9v.9h-.9zM202.1 88.4h.9v.9h-.9zM207.1 96.7h.9v.9h-.9zM208.6 99.1h.9v.9h-.9zM204.1 97.4h.9v.9h-.9zM203.1 91.8h.9v.9h-.9zM201.6 100.2h.9v.9h-.9zM205.8 92.2h.9v.9h-.9zM205.0 96.9h.9v.9h-.9zM213.0 102.7h.9v.9h-.9zM205.5 89.3h.9v.9h-.9zM206.0 83.6h.9v.9h-.9zM212.6 98.5h.9v.9h-.9zM203.9 93.8h.9v.9h-.9zM203.9 97.7h.9v.9h-.9zM202.8 95.7h.9v.9h-.9zM201.4 83.8h.9v.9h-.9zM205.4 92.0h.9v.9h-.9zM201.1 87.2h.9v.9h-.9zM203.4 91.9h.9v.9h-.9zM202.1 91.0h.9v.9h-.9zM203.7 88.9h.9v.9h-.9zM209.2 95.9h.9v.9h-.9zM207.0 88.5h.9v.9h-.9zM204.5 95.9h.9v.9h-.9zM204.9 90.5h.9v.9h-.9zM204.5 98.7h.9v.9h-.9zM211.2 103.8h.9v.9h-.9zM206.0 99.5h.9v.9h-.9zM209.3 95.9h.9v.9h-.9zM206.7 94.8h.9v.9h-.9zM210.3 99.6h.9v.9h-.9zM202.9 93.5h.9v.9h-.9zM203.5 96.6h.9v.9h-.9zM204.9 97.4h.9v.9h-.9zM210.5 90.9h.9v.9h-.9zM210.3 95.6h.9v.9h-.9zM205.5 94.2h.9v.9h-.9zM206.7 99.3h.9v.9h-.9zM213.1 94.3h.9v.9h-.9zM206.7 102.6h.9v.9h-.9zM207.8 90.0h.9v.9h-.9zM209.0 92.6h.9v.9h-.9zM208.2 99.4h.9v.9h-.9zM204.2 94.4h.9v.9h-.9zM206.2 85.7h.9v.9h-.9zM202.7 84.1h.9v.9h-.9zM206.8 93.7h.9v.9h-.9zM201.6 91.1h.9v.9h-.9zM199.9 95.3h.9v.9h-.9zM203.0 95.6h.9v.9h-.9zM208.5 91.1h.9v.9h-.9zM203.8 103.2h.9v.9h-.9zM205.3 102.0h.9v.9h-.9zM209.1 101.6h.9v.9h-.9zM202.4 84.8h.9v.9h-.9zM204.4 95.9h.9v.9h-.9zM211.3 88.3h.9v.9h-.9zM206.2 86.3h.9v.9h-.9zM206.2 101.7h.9v.9h-.9zM210.1 96.9h.9v.9h-.9zM207.1 97.7h.9v.9h-.9zM209.3 93.3h.9v.9h-.9zM205.9 95.9h.9v.9h-.9zM205.1 83.9h.9v.9h-.9zM204.8 92.9h.9v.9h-.9zM205.0 90.8h.9v.9h-.9zM210.6 98.7h.9v.9h-.9zM210.2 113.2h.9v.9h-.9zM210.6 102.3h.9v.9h-.9zM208.2 98.4h.9v.9h-.9zM209.1 90.0h.9v.9h-.9zM203.7 108.5h.9v.9h-.9zM198.8 87.9h.9v.9h-.9zM204.6 91.3h.9v.9h-.9zM208.6 104.6h.9v.9h-.9zM206.5 81.6h.9v.9h-.9zM204.4 96.7h.9v.9h-.9zM203.2 82.7h.9v.9h-.9zM205.4 102.0h.9v.9h-.9zM205.5 91.5h.9v.9h-.9zM202.7 101.9h.9v.9h-.9zM213.9 88.3h.9v.9h-.9zM209.8 94.7h.9v.9h-.9zM200.6 86.8h.9v.9h-.9zM207.4 94.0h.9v.9h-.9zM204.1 97.0h.9v.9h-.9zM211.1 110.4h.9v.9h-.9zM205.0 90.6h.9v.9h-.9zM203.4 98.9h.9v.9h-.9zM209.0 93.4h.9v.9h-.9zM210.0 95.2h.9v.9h-.9zM205.0 92.3h.9v.9h-.9zM206.9 96.6h.9v.9h-.9zM203.9 89.0h.9v.9h-.9zM204.1 103.1h.9v.9h-.9zM206.7 106.8h.9v.9h-.9zM201.5 95.7h.9v.9h-.9zM203.7 87.2h.9v.9h-.9zM199.0 90.9h.9v.9h-.9zM209.4 88.6h.9v.9h-.9zM207.8 97.1h.9v.9h-.9zM205.4 80.0h.9v.9h-.9zM201.2 82.5h.9v.9h-.9zM208.5 98.8h.9v.9h-.9zM210.8 98.5h.9v.9h-.9zM211.7 100.3h.9v.9h-.9zM208.7 100.1h.9v.9h-.9zM203.4 96.8h.9v.9h-.9zM201.8 91.7h.9v.9h-.9zM208.5 103.4h.9v.9h-.9zM206.3 99.1h.9v.9h-.9zM208.1 103.2h.9v.9h-.9zM208.1 91.3h.9v.9h-.9zM210.1 96.3h.9v.9h-.9zM208.0 105.6h.9v.9h-.9zM205.5 91.1h.9v.9h-.9zM196.7 87.1h.9v.9h-.9zM208.3 86.9h.9v.9h-.9zM203.2 101.6h.9v.9h-.9zM199.1 92.3h.9v.9h-.9zM202.5 93.9h.9v.9h-.9zM212.5 105.5h.9v.9h-.9zM198.9 89.6h.9v.9h-.9zM216.2 97.9h.9v.9h-.9zM215.9 105.5h.9v.9h-.9zM205.7 90.2h.9v.9h-.9zM210.2 97.2h.9v.9h-.9zM212.6 97.0h.9v.9h-.9zM213.2 83.3h.9v.9h-.9zM199.8 93.3h.9v.9h-.9zM202.5 96.6h.9v.9h-.9zM205.5 103.8h.9v.9h-.9zM207.5 97.7h.9v.9h-.9zM204.5 95.4h.9v.9h-.9zM203.9 89.5h.9v.9h-.9zM204.9 82.6h.9v.9h-.9zM203.8 91.3h.9v.9h-.9zM210.1 92.2h.9v.9h-.9zM199.8 95.3h.9v.9h-.9zM208.1 97.6h.9v.9h-.9zM210.3 99.2h.9v.9h-.9zM209.8 103.3h.9v.9h-.9zM205.8 98.7h.9v.9h-.9zM207.6 97.4h.9v.9h-.9zM207.8 92.8h.9v.9h-.9zM205.5 95.5h.9v.9h-.9zM198.8 98.9h.9v.9h-.9zM209.5 93.1h.9v.9h-.9zM204.6 93.9h.9v.9h-.9zM209.6 91.0h.9v.9h-.9zM208.1 85.3h.9v.9h-.9zM206.0 104.9h.9v.9h-.9zM202.5 86.4h.9v.9h-.9zM206.6 91.8h.9v.9h-.9zM206.7 98.4h.9v.9h-.9zM205.1 98.1h.9v.9h-.9zM205.4 95.4h.9v.9h-.9zM203.6 86.7h.9v.9h-.9zM202.3 91.4h.9v.9h-.9zM207.9 89.2h.9v.9h-.9zM202.8 96.6h.9v.9h-.9zM208.9 95.0h.9v.9h-.9zM203.1 85.6h.9v.9h-.9zM209.1 101.4h.9v.9h-.9zM205.6 96.5h.9v.9h-.9zM202.4 91.4h.9v.9h-.9zM206.5 93.9h.9v.9h-.9zM208.3 95.8h.9v.9h-.9zM203.8 91.4h.9v.9h-.9zM206.6 87.2h.9v.9h-.9zM207.5 92.3h.9v.9h-.9zM200.1 90.0h.9v.9h-.9zM207.9 110.4h.9v.9h-.9zM204.1 87.1h.9v.9h-.9zM208.2 87.6h.9v.9h-.9zM201.8 98.0h.9v.9h-.9zM212.2 106.5h.9v.9h-.9zM206.4 89.7h.9v.9h-.9zM208.0 103.2h.9v.9h-.9zM210.9 88.6h.9v.9h-.9zM211.9 92.4h.9v.9h-.9zM202.9 100.0h.9v.9h-.9zM204.9 85.7h.9v.9h-.9zM202.8 95.8h.9v.9h-.9zM206.4 87.6h.9v.9h-.9zM209.1 88.7h.9v.9h-.9zM203.7 100.0h.9v.9h-.9zM210.2 92.0h.9v.9h-.9zM205.9 97.2h.9v.9h-.9zM209.7 91.5h.9v.9h-.9zM204.8 91.2h.9v.9h-.9zM201.1 100.2h.9v.9h-.9zM206.0 101.4h.9v.9h-.9zM206.1 103.5h.9v.9h-.9zM208.3 101.0h.9v.9h-.9zM200.8 91.6h.9v.9h-.9zM206.5 106.9h.9v.9h-.9zM207.1 91.5h.9v.9h-.9zM197.1 90.4h.9v.9h-.9zM210.3 90.9h.9v.9h-.9zM206.2 84.1h.9v.9h-.9zM208.9 101.1h.9v.9h-.9zM206.5 88.4h.9v.9h-.9zM203.1 99.3h.9v.9h-.9zM200.6 86.7h.9v.9h-.9zM205.3 87.8h.9v.9h-.9zM201.7 94.3h.9v.9h-.9zM203.9 86.3h.9v.9h-.9zM207.7 102.4h.9v.9h-.9zM209.9 100.7h.9v.9h-.9zM209.6 94.5h.9v.9h-.9zM205.7 88.5h.9v.9h-.9zM201.9 90.7h.9v.9h-.9zM204.4 107.8h.9v.9h-.9zM208.8 84.2h.9v.9h-.9zM208.5 94.9h.9v.9h-.9zM208.1 97.0h.9v.9h-.9zM208.0 86.8h.9v.9h-.9zM202.2 92.8h.9v.9h-.9zM209.4 94.3h.9v.9h-.9zM205.6 93.5h.9v.9h-.9zM209.4 96.6h.9v.9h-.9zM213.6 105.7h.9v.9h-.9zM207.5 89.2h.9v.9h-.9zM201.8 95.1h.9v.9h-.9zM207.1 95.1h.9v.9h-.9zM207.5 95.1h.9v.9h-.9zM211.0 93.9h.9v.9h-.9zM211.0 95.5h.9v.9h-.9zM205.3 95.9h.9v.9h-.9zM204.6 96.2h.9v.9h-.9zM198.7 97.0h.9v.9h-.9zM211.1 101.2h.9v.9h-.9zM202.4 88.9h.9v.9h-.9zM208.9 85.6h.9v.9h-.9zM205.5 93.1h.9v.9h-.9zM208.4 100.3h.9v.9h-.9zM208.6 81.9h.9v.9h-.9zM202.3 82.4h.9v.9h-.9zM201.7 85.8h.9v.9h-.9zM204.3 91.5h.9v.9h-.9zM207.6 97.9h.9v.9h-.9zM207.2 98.8h.9v.9h-.9zM209.6 92.9h.9v.9h-.9zM204.8 89.8h.9v.9h-.9zM203.5 99.5h.9v.9h-.9zM211.5 94.4h.9v.9h-.9zM199.7 90.9h.9v.9h-.9zM206.8 95.0h.9v.9h-.9zM202.9 96.1h.9v.9h-.9zM204.5 85.7h.9v.9h-.9zM203.1 98.9h.9v.9h-.9zM202.4 93.9h.9v.9h-.9zM211.2 98.7h.9v.9h-.9zM206.8 86.5h.9v.9h-.9zM203.3 94.9h.9v.9h-.9zM206.7 99.3h.9v.9h-.9zM209.8 100.6h.9v.9h-.9zM211.0 93.0h.9v.9h-.9zM203.7 101.0h.9v.9h-.9zM206.9 95.8h.9v.9h-.9zM204.3 94.2h.9v.9h-.9zM212.1 81.8h.9v.9h-.9zM209.1 96.3h.9v.9h-.9zM208.0 91.4h.9v.9h-.9zM205.7 92.1h.9v.9h-.9zM204.8 92.5h.9v.9h-.9zM213.4 100.3h.9v.9h-.9zM208.9 97.2h.9v.9h-.9zM202.5 86.3h.9v.9h-.9zM206.3 89.0h.9v.9h-.9zM203.1 89.5h.9v.9h-.9zM203.9 91.9h.9v.9h-.9zM212.6 103.0h.9v.9h-.9zM206.9 98.4h.9v.9h-.9zM206.4 96.7h.9v.9h-.9zM205.1 97.6h.9v.9h-.9zM197.5 80.6h.9v.9h-.9zM212.9 94.5h.9v.9h-.9zM206.9 98.2h.9v.9h-.9zM207.8 99.7h.9v.9h-.9zM201.5 91.6h.9v.9h-.9zM211.0 95.6h.9v.9h-.9zM201.9 87.0h.9v.9h-.9zM213.8 100.0h.9v.9h-.9zM206.4 85.4h.9v.9h-.9zM202.5 88.1h.9v.9h-.9zM198.6 92.6h.9v.9h-.9zM207.3 108.1h.9v.9h-.9zM202.6 101.9h.9v.9h-.9zM208.2 98.9h.9v.9h-.9zM207.8 100.8h.9v.9h-.9zM207.3 102.1h.9v.9h-.9zM207.5 88.4h.9v.9h-.9zM207.7 106.3h.9v.9h-.9zM211.3 88.4h.9v.9h-.9zM209.6 105.1h.9v.9h-.9zM207.3 90.7h.9v.9h-.9zM208.9 95.6h.9v.9h-.9zM201.1 99.3h.9v.9h-.9zM207.8 99.0h.9v.9h-.9zM215.1 105.0h.9v.9h-.9zM214.1 104.3h.9v.9h-.9zM201.7 89.3h.9v.9h-.9zM207.7 94.8h.9v.9h-.9zM207.4 91.9h.9v.9h-.9zM210.5 104.6h.9v.9h-.9zM205.9 94.6h.9v.9h-.9zM201.9 82.6h.9v.9h-.9zM205.3 93.9h.9v.9h-.9zM206.4 90.5h.9v.9h-.9zM212.6 100.6h.9v.9h-.9zM209.8 77.0h.9v.9h-.9zM205.2 99.8h.9v.9h-.9zM208.6 97.4h.9v.9h-.9zM207.8 101.9h.9v.9h-.9zM205.2 94.5h.9v.9h-.9zM215.2 91.9h.9v.9h-.9zM210.4 95.8h.9v.9h-.9zM209.6 95.2h.9v.9h-.9zM211.7 102.2h.9v.9h-.9zM205.7 92.5h.9v.9h-.9zM203.5 90.5h.9v.9h-.9zM214.4 105.8h.9v.9h-.9zM199.3 91.9h.9v.9h-.9zM208.4 101.0h.9v.9h-.9zM201.8 92.9h.9v.9h-.9zM208.3 100.8h.9v.9h-.9zM204.8 102.4h.9v.9h-.9zM204.8 101.8h.9v.9h-.9zM204.0 93.7h.9v.9h-.9zM209.9 97.4h.9v.9h-.9zM209.1 93.9h.9v.9h-.9zM207.3 103.2h.9v.9h-.9zM213.9 96.7h.9v.9h-.9zM207.2 90.3h.9v.9h-.9zM212.8 91.7h.9v.9h-.9zM209.8 103.6h.9v.9h-.9zM196.2 95.3h.9v.9h-.9zM201.1 93.4h.9v.9h-.9zM204.7 86.1h.9v.9h-.9zM213.4 109.1h.9v.9h-.9zM205.4 95.3h.9v.9h-.9zM213.0 96.4h.9v.9h-.9zM203.2 99.6h.9v.9h-.9zM205.9 103.8h.9v.9h-.9zM205.9 104.7h.9v.9h-.9zM201.7 94.8h.9v.9h-.9zM202.2 112.7h.9v.9h-.9zM206.2 93.3h.9v.9h-.9zM208.2 95.9h.9v.9h-.9zM211.1 109.2h.9v.9h-.9zM211.8 91.3h.9v.9h-.9zM207.6 94.5h.9v.9h-.9zM207.0 88.4h.9v.9h-.9zM203.3 85.9h.9v.9h-.9zM207.6 90.7h.9v.9h-.9zM211.0 95.4h.9v.9h-.9zM203.6 107.1h.9v.9h-.9zM202.9 114.9h.9v.9h-.9zM214.9 104.6h.9v.9h-.9zM214.6 101.8h.9v.9h-.9zM205.4 91.0h.9v.9h-.9zM204.0 79.7h.9v.9h-.9zM208.0 94.5h.9v.9h-.9zM206.7 92.1h.9v.9h-.9zM201.2 96.8h.9v.9h-.9zM204.3 92.8h.9v.9h-.9zM207.7 100.4h.9v.9h-.9zM209.5 86.5h.9v.9h-.9zM204.5 82.5h.9v.9h-.9zM200.6 88.7h.9v.9h-.9zM205.2 94.7h.9v.9h-.9zM207.4 94.9h.9v.9h-.9zM204.0 86.3h.9v.9h-.9zM206.6 88.2h.9v.9h-.9zM208.0 92.3h.9v.9h-.9zM212.1 87.0h.9v.9h-.9zM209.3 101.4h.9v.9h-.9zM204.1 93.2h.9v.9h-.9zM213.6 99.8h.9v.9h-.9zM206.8 91.4h.9v.9h-.9zM202.4 85.4h.9v.9h-.9zM212.5 94.3h.9v.9h-.9zM210.5 103.5h.9v.9h-.9zM209.2 93.9h.9v.9h-.9zM209.3 82.8h.9v.9h-.9zM211.9 97.6h.9v.9h-.9zM207.3 99.8h.9v.9h-.9zM210.0 90.5h.9v.9h-.9zM207.4 93.1h.9v.9h-.9zM207.5 101.0h.9v.9h-.9zM204.1 89.5h.9v.9h-.9zM207.9 105.8h.9v.9h-.9zM212.7 99.8h.9v.9h-.9zM212.4 93.6h.9v.9h-.9zM203.7 91.1h.9v.9h-.9zM209.0 98.4h.9v.9h-.9zM205.7 111.9h.9v.9h-.9zM207.9 85.2h.9v.9h-.9zM200.4 98.0h.9v.9h-.9zM205.6 87.7h.9v.9h-.9zM206.1 94.6h.9v.9h-.9zM207.1 102.7h.9v.9h-.9zM201.2 94.8h.9v.9h-.9zM201.5 96.0h.9v.9h-.9zM209.5 108.3h.9v.9h-.9zM202.8 96.6h.9v.9h-.9zM205.5 95.2h.9v.9h-.9zM201.8 87.5h.9v.9h-.9zM202.5 90.0h.9v.9h-.9zM209.1 92.7h.9v.9h-.9zM210.0 87.9h.9v.9h-.9zM198.7 92.2h.9v.9h-.9zM207.3 108.0h.9v.9h-.9zM203.0 100.7h.9v.9h-.9zM204.0 90.9h.9v.9h-.9zM208.7 90.2h.9v.9h-.9zM213.8 97.7h.9v.9h-.9zM208.9 93.1h.9v.9h-.9zM209.1 101.0h.9v.9h-.9zM203.6 95.2h.9v.9h-.9zM202.7 93.7h.9v.9h-.9zM204.5 83.0h.9v.9h-.9zM205.5 90.9h.9v.9h-.9zM207.6 86.8h.9v.9h-.9zM204.4 93.4h.9v.9h-.9zM210.1 93.9h.9v.9h-.9zM212.8 99.0h.9v.9h-.9zM201.0 87.1h.9v.9h-.9zM205.9 98.5h.9v.9h-.9zM203.9 88.1h.9v.9h-.9zM207.1 92.2h.9v.9h-.9zM203.0 96.5h.9v.9h-.9zM202.9 84.3h.9v.9h-.9zM205.7 97.0h.9v.9h-.9zM200.9 85.5h.9v.9h-.9zM209.2 100.3h.9v.9h-.9zM205.0 95.5h.9v.9h-.9zM202.8 95.0h.9v.9h-.9zM200.0 92.9h.9v.9h-.9zM205.4 89.8h.9v.9h-.9zM205.0 94.5h.9v.9h-.9zM209.3 89.8h.9v.9h-.9zM199.5 90.3h.9v.9h-.9zM203.3 97.3h.9v.9h-.9zM208.3 85.3h.9v.9h-.9zM206.4 96.8h.9v.9h-.9zM204.0 93.0h.9v.9h-.9zM203.8 101.8h.9v.9h-.9zM206.2 86.7h.9v.9h-.9zM204.4 85.6h.9v.9h-.9zM207.9 99.2h.9v.9h-.9zM198.0 93.0h.9v.9h-.9zM207.2 107.4h.9v.9h-.9zM208.3 97.9h.9v.9h-.9zM205.3 95.2h.9v.9h-.9zM208.2 94.8h.9v.9h-.9zM207.6 93.1h.9v.9h-.9zM201.7 97.0h.9v.9h-.9zM204.2 85.2h.9v.9h-.9zM201.4 91.5h.9v.9h-.9zM211.5 97.0h.9v.9h-.9zM208.6 79.4h.9v.9h-.9zM208.9 103.5h.9v.9h-.9zM204.7 97.5h.9v.9h-.9zM203.0 97.4h.9v.9h-.9zM203.8 85.4h.9v.9h-.9zM209.9 94.1h.9v.9h-.9zM205.3 83.8h.9v.9h-.9zM208.2 90.4h.9v.9h-.9zM207.3 87.3h.9v.9h-.9zM209.9 91.9h.9v.9h-.9zM205.8 91.6h.9v.9h-.9zM200.0 94.8h.9v.9h-.9zM211.9 101.7h.9v.9h-.9zM206.6 103.1h.9v.9h-.9zM204.3 87.8h.9v.9h-.9zM206.0 95.3h.9v.9h-.9zM207.2 80.9h.9v.9h-.9zM211.6 99.4h.9v.9h-.9zM206.8 86.1h.9v.9h-.9zM202.1 102.4h.9v.9h-.9zM206.5 101.4h.9v.9h-.9zM203.0 99.9h.9v.9h-.9zM206.5 86.4h.9v.9h-.9zM207.5 106.2h.9v.9h-.9zM205.0 102.4h.9v.9h-.9zM205.1 89.1h.9v.9h-.9zM203.0 88.9h.9v.9h-.9zM210.5 84.0h.9v.9h-.9zM202.0 95.8h.9v.9h-.9zM208.0 86.0h.9v.9h-.9zM202.8 94.0h.9v.9h-.9zM205.0 95.4h.9v.9h-.9zM203.8 95.1h.9v.9h-.9zM207.2 87.1h.9v.9h-.9zM199.5 91.3h.9v.9h-.9zM209.8 110.9h.9v.9h-.9zM209.7 97.3h.9v.9h-.9zM193.4 85.2h.9v.9h-.9zM207.6 90.7h.9v.9h-.9zM204.5 100.2h.9v.9h-.9zM211.0 97.4h.9v.9h-.9zM204.4 83.4h.9v.9h-.9zM206.4 100.1h.9v.9h-.9zM203.5 85.7h.9v.9h-.9zM197.0 94.2h.9v.9h-.9zM207.1 89.7h.9v.9h-.9zM205.8 97.5h.9v.9h-.9zM204.1 94.3h.9v.9h-.9zM202.9 90.6h.9v.9h-.9zM208.5 97.9h.9v.9h-.9zM203.5 86.1h.9v.9h-.9zM208.6 99.5h.9v.9h-.9zM209.6 98.7h.9v.9h-.9zM205.9 93.4h.9v.9h-.9zM208.9 98.3h.9v.9h-.9zM207.3 89.2h.9v.9h-.9zM200.3 98.5h.9v.9h-.9zM207.8 96.4h.9v.9h-.9zM206.2 85.1h.9v.9h-.9zM204.8 99.3h.9v.9h-.9zM204.3 94.2h.9v.9h-.9zM212.2 98.5h.9v.9h-.9zM204.9 97.1h.9v.9h-.9zM204.3 98.1h.9v.9h-.9zM199.5 85.8h.9v.9h-.9zM212.9 100.1h.9v.9h-.9zM203.7 98.6h.9v.9h-.9zM197.9 97.0h.9v.9h-.9zM211.2 98.9h.9v.9h-.9zM206.8 94.6h.9v.9h-.9zM209.7 107.6h.9v.9h-.9zM205.1 96.8h.9v.9h-.9zM208.0 89.3h.9v.9h-.9zM209.3 82.3h.9v.9h-.9zM205.1 92.6h.9v.9h-.9zM204.5 87.3h.9v.9h-.9zM205.4 97.1h.9v.9h-.9zM204.6 101.1h.9v.9h-.9zM199.3 95.5h.9v.9h-.9zM210.8 88.2h.9v.9h-.9zM206.2 92.8h.9v.9h-.9zM205.2 99.4h.9v.9h-.9zM202.4 99.2h.9v.9h-.9zM201.1 94.4h.9v.9h-.9zM208.3 90.9h.9v.9h-.9zM209.2 108.7h.9v.9h-.9zM207.2 96.6h.9v.9h-.9zM209.3 98.1h.9v.9h-.9zM206.0 93.4h.9v.9h-.9zM207.5 97.0h.9v.9h-.9zM211.0 94.5h.9v.9h-.9zM211.5 106.4h.9v.9h-.9zM200.3 94.8h.9v.9h-.9zM205.2 94.1h.9v.9h-.9zM210.8 92.3h.9v.9h-.9zM209.0 105.0h.9v.9h-.9zM197.3 88.7h.9v.9h-.9zM202.2 95.9h.9v.9h-.9zM207.0 89.2h.9v.9h-.9zM213.1 103.9h.9v.9h-.9zM202.8 92.1h.9v.9h-.9zM203.5 99.6h.9v.9h-.9zM205.9 101.0h.9v.9h-.9zM210.2 94.3h.9v.9h-.9zM200.2 80.1h.9v.9h-.9zM208.0 97.9h.9v.9h-.9zM205.4 89.8h.9v.9h-.9zM209.9 93.8h.9v.9h-.9zM209.6 99.4h.9v.9h-.9zM210.6 98.4h.9v.9h-.9zM201.2 98.3h.9v.9h-.9zM205.3 91.8h.9v.9h-.9zM201.9 89.7h.9v.9h-.9zM204.2 93.5h.9v.9h-.9zM204.1 83.3h.9v.9h-.9zM203.9 99.7h.9v.9h-.9zM209.7 92.4h.9v.9h-.9zM206.9 106.7h.9v.9h-.9zM203.9 102.0h.9v.9h-.9zM209.6 96.6h.9v.9h-.9zM210.8 98.3h.9v.9h-.9zM206.7 99.6h.9v.9h-.9zM215.3 94.4h.9v.9h-.9zM212.3 106.0h.9v.9h-.9zM203.1 95.6h.9v.9h-.9zM203.1 96.5h.9v.9h-.9zM206.0 102.6h.9v.9h-.9zM206.3 99.5h.9v.9h-.9zM207.6 97.7h.9v.9h-.9zM204.4 101.6h.9v.9h-.9zM205.8 93.9h.9v.9h-.9zM204.2 98.5h.9v.9h-.9zM203.7 90.9h.9v.9h-.9zM203.4 81.3h.9v.9h-.9zM209.9 91.4h.9v.9h-.9zM208.2 86.8h.9v.9h-.9zM198.0 90.7h.9v.9h-.9zM209.2 102.5h.9v.9h-.9zM212.5 100.9h.9v.9h-.9zM203.0 92.3h.9v.9h-.9zM208.5 99.2h.9v.9h-.9zM201.8 89.8h.9v.9h-.9zM203.1 103.3h.9v.9h-.9zM203.4 97.5h.9v.9h-.9zM207.2 97.9h.9v.9h-.9zM201.0 96.4h.9v.9h-.9zM210.2 98.1h.9v.9h-.9zM206.0 99.9h.9v.9h-.9zM206.8 92.9h.9v.9h-.9zM209.5 109.0h.9v.9h-.9zM202.8 86.1h.9v.9h-.9zM209.8 99.5h.9v.9h-.9zM208.1 94.0h.9v.9h-.9zM212.4 106.5h.9v.9h-.9zM209.0 81.4h.9v.9h-.9zM203.8 97.3h.9v.9h-.9zM201.1 107.6h.9v.9h-.9zM208.3 89.8h.9v.9h-.9zM204.4 103.0h.9v.9h-.9zM205.7 97.3h.9v.9h-.9zM201.4 89.1h.9v.9h-.9zM204.9 95.7h.9v.9h-.9zM208.7 91.4h.9v.9h-.9zM208.6 91.8h.9v.9h-.9zM202.8 93.1h.9v.9h-.9zM203.2 87.8h.9v.9h-.9zM200.5 99.6h.9v.9h-.9zM208.1 99.5h.9v.9h-.9zM200.4 94.0h.9v.9h-.9zM203.2 104.1h.9v.9h-.9zM213.0 97.7h.9v.9h-.9zM209.5 85.1h.9v.9h-.9zM206.1 96.6h.9v.9h-.9zM208.5 95.3h.9v.9h-.9zM209.3 96.5h.9v.9h-.9zM207.0 103.1h.9v.9h-.9zM205.9 100.0h.9v.9h-.9zM207.3 88.2h.9v.9h-.9zM207.7 108.5h.9v.9h-.9zM207.7 99.7h.9v.9h-.9zM206.6 102.6h.9v.9h-.9zM208.3 101.6h.9v.9h-.9zM209.0 89.9h.9v.9h-.9zM207.8 99.7h.9v.9h-.9zM203.5 96.8h.9v.9h-.9zM207.0 99.9h.9v.9h-.9zM203.8 99.2h.9v.9h-.9zM209.5 92.0h.9v.9h-.9zM206.4 100.5h.9v.9h-.9zM205.8 99.2h.9v.9h-.9zM209.5 86.8h.9v.9h-.9zM210.1 102.9h.9v.9h-.9zM202.1 98.0h.9v.9h-.9zM208.1 93.0h.9v.9h-.9zM206.5 89.1h.9v.9h-.9zM206.1 91.0h.9v.9h-.9zM209.3 95.2h.9v.9h-.9zM208.2 101.4h.9v.9h-.9zM207.4 91.5h.9v.9h-.9zM205.1 91.5h.9v.9h-.9zM210.3 103.1h.9v.9h-.9zM214.6 99.3h.9v.9h-.9zM205.2 100.7h.9v.9h-.9zM201.5 87.9h.9v.9h-.9zM203.7 98.6h.9v.9h-.9zM201.8 100.0h.9v.9h-.9zM208.5 106.0h.9v.9h-.9zM206.3 93.2h.9v.9h-.9zM201.9 91.3h.9v.9h-.9zM205.8 86.9h.9v.9h-.9zM196.8 93.9h.9v.9h-.9zM205.8 94.0h.9v.9h-.9zM204.2 90.3h.9v.9h-.9zM203.0 105.2h.9v.9h-.9zM209.5 97.0h.9v.9h-.9zM203.9 90.8h.9v.9h-.9zM206.5 99.3h.9v.9h-.9zM206.8 95.1h.9v.9h-.9zM207.8 90.8h.9v.9h-.9zM203.0 93.5h.9v.9h-.9zM208.0 106.1h.9v.9h-.9zM213.1 87.0h.9v.9h-.9zM203.7 95.7h.9v.9h-.9zM198.9 92.8h.9v.9h-.9zM210.1 89.5h.9v.9h-.9zM206.0 101.9h.9v.9h-.9zM212.3 92.4h.9v.9h-.9zM206.7 96.9h.9v.9h-.9zM207.4 83.8h.9v.9h-.9zM206.9 92.3h.9v.9h-.9zM208.2 98.7h.9v.9h-.9zM199.4 102.9h.9v.9h-.9zM206.3 93.0h.9v.9h-.9zM208.9 97.9h.9v.9h-.9zM214.6 98.4h.9v.9h-.9zM209.8 96.2h.9v.9h-.9zM207.9 89.4h.9v.9h-.9zM209.5 96.0h.9v.9h-.9zM210.5 100.1h.9v.9h-.9zM202.1 99.0h.9v.9h-.9zM210.3 101.0h.9v.9h-.9zM200.2 99.0h.9v.9h-.9zM200.8 91.7h.9v.9h-.9zM208.3 98.3h.9v.9h-.9zM206.3 93.0h.9v.9h-.9zM205.9 100.0h.9v.9h-.9zM209.4 95.3h.9v.9h-.9zM197.5 82.5h.9v.9h-.9zM200.2 93.2h.9v.9h-.9zM208.5 92.1h.9v.9h-.9zM204.2 94.3h.9v.9h-.9zM204.7 92.3h.9v.9h-.9zM202.5 91.1h.9v.9h-.9zM205.5 95.0h.9v.9h-.9zM205.2 100.4h.9v.9h-.9zM203.0 98.5h.9v.9h-.9zM204.5 99.1h.9v.9h-.9zM202.6 95.5h.9v.9h-.9zM210.5 99.1h.9v.9h-.9zM202.5 91.7h.9v.9h-.9zM201.6 93.5h.9v.9h-.9zM200.2 93.4h.9v.9h-.9zM203.0 94.7h.9v.9h-.9zM205.1 94.4h.9v.9h-.9zM207.3 100.5h.9v.9h-.9zM204.5 91.7h.9v.9h-.9zM201.4 89.2h.9v.9h-.9zM212.3 97.5h.9v.9h-.9zM208.1 94.5h.9v.9h-.9zM209.2 103.2h.9v.9h-.9zM199.2 90.6h.9v.9h-.9zM206.8 89.5h.9v.9h-.9zM209.9 99.3h.9v.9h-.9zM208.1 84.1h.9v.9h-.9zM208.2 101.4h.9v.9h-.9zM206.1 101.5h.9v.9h-.9zM203.9 88.1h.9v.9h-.9zM210.4 85.0h.9v.9h-.9zM206.5 94.1h.9v.9h-.9zM203.5 91.8h.9v.9h-.9zM200.5 97.8h.9v.9h-.9zM204.8 107.1h.9v.9h-.9zM202.8 85.2h.9v.9h-.9zM208.6 100.0h.9v.9h-.9zM209.9 92.0h.9v.9h-.9zM205.9 94.1h.9v.9h-.9zM210.0 103.0h.9v.9h-.9zM209.2 92.0h.9v.9h-.9zM205.6 94.6h.9v.9h-.9zM202.9 88.9h.9v.9h-.9zM205.3 98.4h.9v.9h-.9zM206.7 88.1h.9v.9h-.9zM207.0 93.3h.9v.9h-.9zM208.1 98.9h.9v.9h-.9zM209.0 100.2h.9v.9h-.9zM209.6 99.4h.9v.9h-.9zM203.6 84.6h.9v.9h-.9zM198.2 95.3h.9v.9h-.9zM203.3 85.3h.9v.9h-.9zM198.3 82.0h.9v.9h-.9zM207.2 79.4h.9v.9h-.9zM199.1 99.5h.9v.9h-.9zM208.2 90.4h.9v.9h-.9zM208.3 97.7h.9v.9h-.9zM207.3 111.2h.9v.9h-.9zM208.6 97.2h.9v.9h-.9zM206.9 97.8h.9v.9h-.9zM203.0 95.2h.9v.9h-.9zM207.3 97.0h.9v.9h-.9zM205.4 96.8h.9v.9h-.9zM206.3 104.0h.9v.9h-.9zM200.5 87.1h.9v.9h-.9zM207.1 99.3h.9v.9h-.9zM204.4 95.7h.9v.9h-.9zM206.7 96.9h.9v.9h-.9zM210.1 87.4h.9v.9h-.9zM203.7 95.4h.9v.9h-.9zM205.5 97.2h.9v.9h-.9zM212.9 97.8h.9v.9h-.9zM205.7 100.1h.9v.9h-.9zM211.0 107.0h.9v.9h-.9zM203.5 97.9h.9v.9h-.9zM211.1 99.6h.9v.9h-.9zM206.4 91.0h.9v.9h-.9zM202.1 89.7h.9v.9h-.9zM207.7 97.9h.9v.9h-.9zM204.6 91.4h.9v.9h-.9zM205.1 85.6h.9v.9h-.9zM214.0 88.8h.9v.9h-.9zM207.4 95.0h.9v.9h-.9zM206.9 97.2h.9v.9h-.9zM205.2 107.9h.9v.9h-.9zM205.6 85.8h.9v.9h-.9zM212.6 98.7h.9v.9h-.9zM206.7 96.9h.9v.9h-.9zM206.4 109.0h.9v.9h-.9zM206.7 92.2h.9v.9h-.9zM200.0 90.5h.9v.9h-.9zM199.9 95.6h.9v.9h-.9zM203.6 90.1h.9v.9h-.9zM205.9 97.2h.9v.9h-.9zM205.5 91.5h.9v.9h-.9zM208.2 93.4h.9v.9h-.9zM206.9 93.8h.9v.9h-.9zM207.1 106.8h.9v.9h-.9zM201.0 84.2h.9v.9h-.9zM199.5 89.2h.9v.9h-.9zM200.6 102.3h.9v.9h-.9zM208.7 107.4h.9v.9h-.9zM207.3 91.5h.9v.9h-.9zM210.1 95.8h.9v.9h-.9zM204.9 84.3h.9v.9h-.9zM208.0 96.4h.9v.9h-.9zM206.6 93.8h.9v.9h-.9zM208.0 94.1h.9v.9h-.9zM202.5 98.4h.9v.9h-.9zM201.8 97.9h.9v.9h-.9zM209.4 106.3h.9v.9h-.9zM211.3 101.9h.9v.9h-.9zM209.7 92.2h.9v.9h-.9zM210.6 100.4h.9v.9h-.9zM201.9 93.1h.9v.9h-.9zM214.1 104.6h.9v.9h-.9zM214.8 102.2h.9v.9h-.9zM198.4 91.8h.9v.9h-.9zM198.6 87.3h.9v.9h-.9zM208.1 91.5h.9v.9h-.9zM202.6 90.4h.9v.9h-.9zM202.4 88.6h.9v.9h-.9zM203.0 101.9h.9v.9h-.9zM203.9 84.4h.9v.9h-.9zM204.2 95.2h.9v.9h-.9zM204.0 98.7h.9v.9h-.9zM204.7 97.4h.9v.9h-.9zM208.5 95.2h.9v.9h-.9zM205.8 98.8h.9v.9h-.9zM211.5 103.1h.9v.9h-.9zM206.1 85.7h.9v.9h-.9zM209.5 84.6h.9v.9h-.9zM205.4 109.4h.9v.9h-.9zM210.2 107.9h.9v.9h-.9zM206.5 94.6h.9v.9h-.9zM198.4 96.4h.9v.9h-.9zM209.2 96.8h.9v.9h-.9zM209.9 101.7h.9v.9h-.9zM209.2 98.8h.9v.9h-.9zM201.8 84.4h.9v.9h-.9zM205.3 93.0h.9v.9h-.9zM208.4 99.9h.9v.9h-.9zM204.8 87.1h.9v.9h-.9zM208.4 100.5h.9v.9h-.9zM203.7 101.3h.9v.9h-.9zM203.4 92.5h.9v.9h-.9zM211.3 93.5h.9v.9h-.9zM210.7 99.4h.9v.9h-.9zM210.0 106.8h.9v.9h-.9zM210.5 101.7h.9v.9h-.9zM206.2 84.4h.9v.9h-.9zM199.4 94.7h.9v.9h-.9zM209.5 106.0h.9v.9h-.9zM209.8 92.2h.9v.9h-.9zM207.2 96.9h.9v.9h-.9zM208.9 97.6h.9v.9h-.9zM204.7 99.9h.9v.9h-.9zM208.1 93.3h.9v.9h-.9zM213.8 99.9h.9v.9h-.9zM211.4 94.2h.9v.9h-.9zM199.8 101.8h.9v.9h-.9zM201.6 88.8h.9v.9h-.9zM200.2 86.7h.9v.9h-.9zM204.3 87.3h.9v.9h-.9zM198.2 87.0h.9v.9h-.9zM201.6 85.5h.9v.9h-.9zM203.3 98.2h.9v.9h-.9zM202.5 92.6h.9v.9h-.9zM203.2 79.6h.9v.9h-.9zM211.0 102.2h.9v.9h-.9zM198.2 94.2h.9v.9h-.9zM207.0 92.4h.9v.9h-.9zM207.3 92.4h.9v.9h-.9zM205.8 98.6h.9v.9h-.9zM206.8 98.2h.9v.9h-.9zM203.1 92.5h.9v.9h-.9zM204.7 95.9h.9v.9h-.9zM208.5 91.2h.9v.9h-.9zM202.7 88.9h.9v.9h-.9zM208.3 92.2h.9v.9h-.9zM203.1 96.4h.9v.9h-.9zM206.5 99.5h.9v.9h-.9zM206.9 96.4h.9v.9h-.9zM202.7 90.2h.9v.9h-.9zM210.8 92.7h.9v.9h-.9zM202.8 100.6h.9v.9h-.9zM208.3 96.2h.9v.9h-.9zM205.0 97.1h.9v.9h-.9zM205.4 84.1h.9v.9h-.9zM206.2 87.4h.9v.9h-.9zM214.5 99.7h.9v.9h-.9zM203.6 93.2h.9v.9h-.9zM205.0 91.5h.9v.9h-.9zM203.5 88.3h.9v.9h-.9zM212.8 96.5h.9v.9h-.9zM207.3 102.5h.9v.9h-.9zM208.9 115.0h.9v.9h-.9zM205.8 106.6h.9v.9h-.9zM201.4 91.7h.9v.9h-.9zM206.9 104.8h.9v.9h-.9zM205.5 98.5h.9v.9h-.9zM195.7 86.4h.9v.9h-.9zM205.9 91.8h.9v.9h-.9zM210.0 94.0h.9v.9h-.9zM209.3 93.7h.9v.9h-.9zM203.8 103.8h.9v.9h-.9zM199.4 85.9h.9v.9h-.9zM206.4 90.3h.9v.9h-.9zM203.2 91.0h.9v.9h-.9zM207.5 85.5h.9v.9h-.9zM199.7 93.6h.9v.9h-.9zM200.3 95.9h.9v.9h-.9zM209.4 103.2h.9v.9h-.9zM202.3 86.8h.9v.9h-.9zM205.4 103.2h.9v.9h-.9zM210.2 107.7h.9v.9h-.9zM204.8 95.6h.9v.9h-.9zM212.0 90.5h.9v.9h-.9zM204.8 97.3h.9v.9h-.9zM208.5 97.7h.9v.9h-.9zM206.7 97.7h.9v.9h-.9zM206.3 90.7h.9v.9h-.9zM210.4 101.6h.9v.9h-.9zM210.6 89.6h.9v.9h-.9zM201.8 89.0h.9v.9h-.9zM201.7 85.3h.9v.9h-.9zM208.5 108.9h.9v.9h-.9zM205.8 96.3h.9v.9h-.9zM203.5 95.3h.9v.9h-.9zM206.1 97.5h.9v.9h-.9zM205.7 88.2h.9v.9h-.9zM212.3 104.4h.9v.9h-.9zM204.3 94.4h.9v.9h-.9zM206.1 98.6h.9v.9h-.9zM211.5 90.9h.9v.9h-.9zM207.2 112.7h.9v.9h-.9zM211.1 101.4h.9v.9h-.9zM205.1 101.1h.9v.9h-.9zM210.7 93.8h.9v.9h-.9zM205.8 112.5h.9v.9h-.9zM207.2 89.7h.9v.9h-.9zM205.2 97.2h.9v.9h-.9zM202.5 90.7h.9v.9h-.9zM205.1 99.1h.9v.9h-.9zM209.6 96.8h.9v.9h-.9zM206.0 101.1h.9v.9h-.9zM206.1 87.4h.9v.9h-.9zM207.9 95.9h.9v.9h-.9zM203.1 93.3h.9v.9h-.9zM200.5 91.4h.9v.9h-.9zM204.8 95.7h.9v.9h-.9zM209.0 97.9h.9v.9h-.9zM205.6 92.0h.9v.9h-.9zM203.0 95.9h.9v.9h-.9zM210.5 98.8h.9v.9h-.9zM200.1 98.2h.9v.9h-.9zM206.1 98.2h.9v.9h-.9z" fill="#000" fill-opacity="0.6"/>
<path d="M209.1 115.1h.9v.9h-.9zM212.7 113.2h.9v.9h-.9zM208.8 106.8h.9v.9h-.9zM212.4 111.1h.9v.9h-.9zM211.1 109.5h.9v.9h-.9zM210.4 115.8h.9v.9h-.9zM209.7 109.7h.9v.9h-.9zM210.9 110.7h.9v.9h-.9zM203.2 113.5h.9v.9h-.9zM204.4 109.0h.9v.9h-.9zM212.9 115.1h.9v.9h-.9zM207.4 108.4h.9v.9h-.9zM207.3 113.0h.9v.9h-.9zM205.1 111.8h.9v.9h-.9zM200.8 112.8h.9v.9h-.9zM202.9 106.5h.9v.9h-.9zM209.3 111.7h.9v.9h-.9zM206.2 107.5h.9v.9h-.9zM212.3 104.3h.9v.9h-.9zM207.3 109.2h.9v.9h-.9zM207.8 108.0h.9v.9h-.9zM207.0 109.5h.9v.9h-.9zM204.5 109.8h.9v.9h-.9zM207.7 110.3h.9v.9h-.9zM210.4 107.9h.9v.9h-.9zM210.0 110.2h.9v.9h-.9zM206.6 115.7h.9v.9h-.9zM210.1 106.6h.9v.9h-.9zM208.7 112.3h.9v.9h-.9zM213.4 110.0h.9v.9h-.9zM206.9 110.0h.9v.9h-.9zM211.3 106.8h.9v.9h-.9zM204.0 106.2h.9v.9h-.9zM206.4 111.9h.9v.9h-.9zM205.4 116.1h.9v.9h-.9zM209.9 108.5h.9v.9h-.9zM205.4 108.4h.9v.9h-.9zM207.7 103.7h.9v.9h-.9zM209.8 113.6h.9v.9h-.9zM201.8 104.3h.9v.9h-.9zM205.5 108.9h.9v.9h-.9zM205.7 105.0h.9v.9h-.9zM205.6 105.8h.9v.9h-.9zM204.0 111.0h.9v.9h-.9zM201.5 111.1h.9v.9h-.9zM202.6 105.2h.9v.9h-.9zM203.2 108.4h.9v.9h-.9zM210.4 110.6h.9v.9h-.9zM210.8 117.5h.9v.9h-.9zM204.8 108.0h.9v.9h-.9zM207.4 103.9h.9v.9h-.9zM210.8 109.1h.9v.9h-.9zM208.6 108.9h.9v.9h-.9zM208.3 104.1h.9v.9h-.9zM212.7 108.3h.9v.9h-.9zM205.4 115.1h.9v.9h-.9zM208.3 112.7h.9v.9h-.9zM207.3 117.3h.9v.9h-.9zM207.3 106.9h.9v.9h-.9zM208.2 107.4h.9v.9h-.9zM208.2 110.3h.9v.9h-.9zM210.1 112.3h.9v.9h-.9zM209.4 114.4h.9v.9h-.9zM210.0 107.3h.9v.9h-.9zM207.2 109.1h.9v.9h-.9zM209.7 107.5h.9v.9h-.9zM208.9 117.1h.9v.9h-.9zM208.6 108.8h.9v.9h-.9zM211.0 108.7h.9v.9h-.9zM209.3 110.8h.9v.9h-.9zM206.4 116.5h.9v.9h-.9zM202.0 113.8h.9v.9h-.9zM208.9 111.7h.9v.9h-.9zM207.4 115.7h.9v.9h-.9zM208.9 98.4h.9v.9h-.9zM208.9 109.4h.9v.9h-.9zM209.2 112.1h.9v.9h-.9zM205.0 108.8h.9v.9h-.9zM206.3 110.3h.9v.9h-.9zM209.4 114.7h.9v.9h-.9zM207.5 108.4h.9v.9h-.9zM205.0 109.7h.9v.9h-.9zM210.5 108.5h.9v.9h-.9zM209.0 108.7h.9v.9h-.9zM205.9 110.8h.9v.9h-.9zM208.7 112.6h.9v.9h-.9zM208.5 107.7h.9v.9h-.9zM205.2 103.6h.9v.9h-.9zM203.3 107.5h.9v.9h-.9zM211.3 108.7h.9v.9h-.9zM211.2 108.0h.9v.9h-.9zM209.3 111.0h.9v.9h-.9zM207.9 107.9h.9v.9h-.9zM207.8 114.5h.9v.9h-.9zM207.8 107.1h.9v.9h-.9zM204.2 110.2h.9v.9h-.9zM205.7 109.0h.9v.9h-.9zM206.4 114.5h.9v.9h-.9zM208.7 108.5h.9v.9h-.9zM205.1 109.5h.9v.9h-.9zM214.6 109.6h.9v.9h-.9zM199.7 109.3h.9v.9h-.9zM209.1 108.0h.9v.9h-.9zM208.2 117.2h.9v.9h-.9zM211.4 113.7h.9v.9h-.9zM203.6 109.4h.9v.9h-.9zM207.4 110.4h.9v.9h-.9zM214.0 115.4h.9v.9h-.9zM207.1 112.3h.9v.9h-.9zM204.6 113.5h.9v.9h-.9zM201.8 113.8h.9v.9h-.9zM204.2 116.3h.9v.9h-.9zM211.7 109.5h.9v.9h-.9zM206.8 106.8h.9v.9h-.9zM204.6 107.2h.9v.9h-.9zM205.0 112.3h.9v.9h-.9zM206.0 113.0h.9v.9h-.9zM206.5 110.9h.9v.9h-.9zM208.9 110.7h.9v.9h-.9zM204.1 113.5h.9v.9h-.9zM203.8 112.0h.9v.9h-.9zM208.9 109.4h.9v.9h-.9zM207.6 111.4h.9v.9h-.9zM214.3 111.2h.9v.9h-.9zM205.6 114.0h.9v.9h-.9zM212.0 110.9h.9v.9h-.9zM211.2 115.4h.9v.9h-.9zM201.1 113.1h.9v.9h-.9zM206.3 108.1h.9v.9h-.9zM206.4 110.2h.9v.9h-.9zM204.6 109.0h.9v.9h-.9zM203.7 111.1h.9v.9h-.9zM208.7 108.7h.9v.9h-.9zM207.3 115.4h.9v.9h-.9zM204.4 114.5h.9v.9h-.9zM211.4 112.1h.9v.9h-.9zM211.3 105.1h.9v.9h-.9zM213.2 107.6h.9v.9h-.9zM212.4 115.1h.9v.9h-.9zM206.5 113.3h.9v.9h-.9zM210.3 111.9h.9v.9h-.9zM208.5 112.5h.9v.9h-.9zM203.6 105.4h.9v.9h-.9zM212.3 106.7h.9v.9h-.9zM204.5 112.4h.9v.9h-.9zM206.7 109.6h.9v.9h-.9zM207.7 115.7h.9v.9h-.9zM209.8 110.9h.9v.9h-.9zM215.0 112.2h.9v.9h-.9zM208.4 113.7h.9v.9h-.9zM207.0 106.7h.9v.9h-.9zM205.4 109.4h.9v.9h-.9zM213.3 114.6h.9v.9h-.9zM200.9 106.0h.9v.9h-.9zM207.6 111.0h.9v.9h-.9zM207.9 109.0h.9v.9h-.9zM211.4 111.4h.9v.9h-.9zM204.5 110.5h.9v.9h-.9zM210.3 113.5h.9v.9h-.9zM207.1 107.5h.9v.9h-.9zM214.4 109.6h.9v.9h-.9zM208.8 108.6h.9v.9h-.9zM215.9 115.8h.9v.9h-.9zM206.2 113.1h.9v.9h-.9zM207.0 112.9h.9v.9h-.9zM209.2 112.2h.9v.9h-.9zM213.5 107.1h.9v.9h-.9zM208.9 107.1h.9v.9h-.9zM210.1 107.1h.9v.9h-.9zM213.8 112.2h.9v.9h-.9zM201.2 110.6h.9v.9h-.9zM202.4 110.9h.9v.9h-.9zM207.0 105.0h.9v.9h-.9zM206.6 110.6h.9v.9h-.9zM210.5 106.7h.9v.9h-.9zM211.3 110.8h.9v.9h-.9zM205.1 111.3h.9v.9h-.9zM205.6 109.9h.9v.9h-.9zM210.7 114.0h.9v.9h-.9zM210.3 106.3h.9v.9h-.9zM206.1 111.2h.9v.9h-.9zM207.6 110.4h.9v.9h-.9zM205.6 105.5h.9v.9h-.9zM204.5 101.8h.9v.9h-.9zM207.1 112.5h.9v.9h-.9zM204.2 113.5h.9v.9h-.9zM208.2 107.0h.9v.9h-.9zM208.1 111.7h.9v.9h-.9zM208.0 108.8h.9v.9h-.9zM208.0 109.3h.9v.9h-.9zM209.7 107.8h.9v.9h-.9zM207.4 108.4h.9v.9h-.9zM209.4 114.7h.9v.9h-.9zM204.1 108.6h.9v.9h-.9zM204.3 110.1h.9v.9h-.9zM210.0 115.5h.9v.9h-.9zM206.3 112.6h.9v.9h-.9zM208.0 111.1h.9v.9h-.9zM204.9 106.7h.9v.9h-.9zM208.2 112.1h.9v.9h-.9zM206.1 112.6h.9v.9h-.9zM205.5 113.0h.9v.9h-.9zM209.5 110.1h.9v.9h-.9zM207.0 112.9h.9v.9h-.9zM210.3 111.0h.9v.9h-.9zM205.7 114.9h.9v.9h-.9zM210.8 105.7h.9v.9h-.9zM206.0 112.1h.9v.9h-.9zM209.5 106.4h.9v.9h-.9zM207.0 109.8h.9v.9h-.9zM214.5 109.3h.9v.9h-.9zM208.2 108.5h.9v.9h-.9zM210.2 109.5h.9v.9h-.9zM209.0 103.8h.9v.9h-.9zM209.2 112.5h.9v.9h-.9zM210.2 104.9h.9v.9h-.9zM206.9 113.5h.9v.9h-.9zM208.1 110.1h.9v.9h-.9zM207.0 109.5h.9v.9h-.9zM207.4 110.6h.9v.9h-.9zM209.0 108.2h.9v.9h-.9zM205.4 111.0h.9v.9h-.9zM211.3 111.6h.9v.9h-.9zM213.4 103.6h.9v.9h-.9zM207.4 110.7h.9v.9h-.9zM204.6 109.4h.9v.9h-.9zM209.4 115.0h.9v.9h-.9zM204.8 115.2h.9v.9h-.9zM209.9 114.6h.9v.9h-.9zM209.9 110.0h.9v.9h-.9zM215.9 108.1h.9v.9h-.9zM209.8 108.1h.9v.9h-.9zM209.7 109.2h.9v.9h-.9zM210.9 118.2h.9v.9h-.9zM210.7 113.7h.9v.9h-.9zM204.9 107.3h.9v.9h-.9zM202.6 108.1h.9v.9h-.9zM204.9 112.8h.9v.9h-.9zM211.8 108.6h.9v.9h-.9zM207.3 106.4h.9v.9h-.9zM206.9 112.6h.9v.9h-.9zM210.6 108.2h.9v.9h-.9zM211.4 112.3h.9v.9h-.9zM208.9 113.6h.9v.9h-.9zM206.1 107.4h.9v.9h-.9zM210.0 115.5h.9v.9h-.9zM213.0 98.8h.9v.9h-.9zM208.6 108.9h.9v.9h-.9zM202.6 110.4h.9v.9h-.9zM207.7 113.1h.9v.9h-.9zM201.0 106.4h.9v.9h-.9zM206.3 115.9h.9v.9h-.9zM213.8 113.9h.9v.9h-.9zM211.7 109.4h.9v.9h-.9zM208.3 111.8h.9v.9h-.9zM207.7 107.9h.9v.9h-.9zM211.0 115.1h.9v.9h-.9zM202.5 110.3h.9v.9h-.9zM215.0 108.1h.9v.9h-.9zM205.7 108.1h.9v.9h-.9zM202.3 116.0h.9v.9h-.9zM211.9 111.1h.9v.9h-.9zM216.1 105.4h.9v.9h-.9zM208.0 111.7h.9v.9h-.9zM206.1 111.1h.9v.9h-.9zM208.7 109.0h.9v.9h-.9zM211.1 115.8h.9v.9h-.9zM205.5 109.5h.9v.9h-.9zM205.0 102.9h.9v.9h-.9zM205.4 109.7h.9v.9h-.9zM212.3 107.9h.9v.9h-.9zM205.4 114.6h.9v.9h-.9zM205.9 112.2h.9v.9h-.9zM205.5 101.0h.9v.9h-.9zM204.2 106.4h.9v.9h-.9zM208.7 110.2h.9v.9h-.9zM206.2 110.5h.9v.9h-.9zM216.8 106.7h.9v.9h-.9zM214.6 106.8h.9v.9h-.9zM206.0 116.0h.9v.9h-.9zM204.5 106.8h.9v.9h-.9zM207.3 113.2h.9v.9h-.9zM204.1 111.8h.9v.9h-.9zM204.8 105.3h.9v.9h-.9zM208.1 116.6h.9v.9h-.9zM211.1 107.3h.9v.9h-.9zM203.9 111.9h.9v.9h-.9zM209.9 106.7h.9v.9h-.9zM212.3 109.9h.9v.9h-.9zM209.8 113.8h.9v.9h-.9zM211.9 111.9h.9v.9h-.9zM207.3 107.7h.9v.9h-.9zM208.0 116.0h.9v.9h-.9zM204.8 106.8h.9v.9h-.9zM201.4 111.8h.9v.9h-.9zM206.6 106.3h.9v.9h-.9zM209.9 111.3h.9v.9h-.9zM207.6 106.8h.9v.9h-.9zM208.5 105.2h.9v.9h-.9zM206.1 112.9h.9v.9h-.9zM208.8 107.8h.9v.9h-.9zM205.7 108.6h.9v.9h-.9zM204.5 108.8h.9v.9h-.9zM205.3 107.3h.9v.9h-.9zM208.2 104.8h.9v.9h-.9zM203.6 107.0h.9v.9h-.9zM205.2 104.1h.9v.9h-.9zM210.8 116.3h.9v.9h-.9zM216.2 105.7h.9v.9h-.9zM207.0 108.3h.9v.9h-.9zM206.9 113.3h.9v.9h-.9zM207.1 105.5h.9v.9h-.9zM207.9 117.5h.9v.9h-.9zM208.7 116.6h.9v.9h-.9zM208.3 112.7h.9v.9h-.9zM214.5 106.9h.9v.9h-.9zM213.9 116.1h.9v.9h-.9zM207.1 114.2h.9v.9h-.9zM207.5 112.7h.9v.9h-.9zM208.7 108.0h.9v.9h-.9zM214.2 116.6h.9v.9h-.9zM208.7 114.3h.9v.9h-.9zM211.1 110.2h.9v.9h-.9zM214.1 113.5h.9v.9h-.9zM203.4 102.6h.9v.9h-.9zM206.1 111.7h.9v.9h-.9zM207.8 109.7h.9v.9h-.9zM205.0 109.1h.9v.9h-.9zM211.4 113.3h.9v.9h-.9zM206.6 108.4h.9v.9h-.9zM210.6 107.9h.9v.9h-.9zM209.2 111.6h.9v.9h-.9zM204.9 109.8h.9v.9h-.9zM208.1 107.8h.9v.9h-.9zM202.8 109.8h.9v.9h-.9zM206.7 112.7h.9v.9h-.9zM207.8 111.8h.9v.9h-.9zM199.8 106.2h.9v.9h-.9zM208.7 112.5h.9v.9h-.9zM202.6 109.5h.9v.9h-.9zM212.0 106.3h.9v.9h-.9zM202.0 109.7h.9v.9h-.9zM212.8 111.3h.9v.9h-.9zM209.6 114.0h.9v.9h-.9zM206.3 110.5h.9v.9h-.9zM204.8 111.2h.9v.9h-.9zM208.1 111.3h.9v.9h-.9zM206.6 112.8h.9v.9h-.9zM205.5 112.2h.9v.9h-.9zM212.6 109.0h.9v.9h-.9zM208.9 107.0h.9v.9h-.9zM206.4 112.9h.9v.9h-.9zM204.5 108.2h.9v.9h-.9zM201.6 107.4h.9v.9h-.9zM210.6 113.7h.9v.9h-.9zM210.0 106.7h.9v.9h-.9zM207.0 113.2h.9v.9h-.9zM209.8 111.3h.9v.9h-.9zM211.1 107.2h.9v.9h-.9zM209.0 112.2h.9v.9h-.9zM204.5 108.7h.9v.9h-.9zM212.4 112.2h.9v.9h-.9zM203.9 110.1h.9v.9h-.9zM207.3 109.8h.9v.9h-.9zM210.9 113.5h.9v.9h-.9zM212.5 107.0h.9v.9h-.9zM210.9 107.4h.9v.9h-.9zM211.1 113.0h.9v.9h-.9zM213.3 113.5h.9v.9h-.9zM207.6 112.0h.9v.9h-.9zM210.9 105.1h.9v.9h-.9zM204.5 111.3h.9v.9h-.9zM209.9 112.9h.9v.9h-.9zM204.3 114.7h.9v.9h-.9zM207.9 112.4h.9v.9h-.9zM209.5 108.6h.9v.9h-.9zM204.5 116.9h.9v.9h-.9zM208.2 116.3h.9v.9h-.9zM204.2 108.4h.9v.9h-.9zM205.2 113.9h.9v.9h-.9zM207.6 107.6h.9v.9h-.9zM210.6 107.2h.9v.9h-.9zM202.3 107.7h.9v.9h-.9zM204.5 107.2h.9v.9h-.9zM205.7 105.4h.9v.9h-.9zM207.5 107.6h.9v.9h-.9zM208.7 111.4h.9v.9h-.9zM207.8 108.3h.9v.9h-.9zM206.7 108.1h.9v.9h-.9zM206.9 113.2h.9v.9h-.9zM211.2 114.8h.9v.9h-.9zM208.2 113.9h.9v.9h-.9zM202.3 115.3h.9v.9h-.9zM210.9 107.6h.9v.9h-.9zM208.1 111.4h.9v.9h-.9zM206.3 108.5h.9v.9h-.9zM205.7 110.2h.9v.9h-.9zM206.3 107.0h.9v.9h-.9zM209.0 112.2h.9v.9h-.9zM208.5 112.1h.9v.9h-.9zM214.1 112.6h.9v.9h-.9zM207.3 108.2h.9v.9h-.9zM208.7 113.8h.9v.9h-.9zM205.2 112.2h.9v.9h-.9zM205.2 105.2h.9v.9h-.9zM206.0 115.3h.9v.9h-.9zM207.9 106.4h.9v.9h-.9zM208.9 112.3h.9v.9h-.9zM209.1 106.5h.9v.9h-.9zM210.7 108.1h.9v.9h-.9zM214.1 104.9h.9v.9h-.9zM204.7 109.3h.9v.9h-.9zM203.5 109.9h.9v.9h-.9zM204.0 106.7h.9v.9h-.9zM209.1 104.5h.9v.9h-.9zM210.2 110.0h.9v.9h-.9zM201.9 112.9h.9v.9h-.9zM212.2 109.1h.9v.9h-.9zM212.9 111.4h.9v.9h-.9zM208.4 113.7h.9v.9h-.9zM204.5 112.4h.9v.9h-.9zM205.9 110.8h.9v.9h-.9zM208.2 106.2h.9v.9h-.9zM207.7 107.9h.9v.9h-.9zM208.0 110.5h.9v.9h-.9zM203.7 107.3h.9v.9h-.9zM213.0 116.0h.9v.9h-.9zM207.2 111.6h.9v.9h-.9zM209.3 106.7h.9v.9h-.9zM211.1 110.8h.9v.9h-.9zM206.9 114.5h.9v.9h-.9zM208.6 105.6h.9v.9h-.9zM206.0 108.4h.9v.9h-.9zM204.7 108.0h.9v.9h-.9zM205.4 108.2h.9v.9h-.9zM213.2 111.0h.9v.9h-.9zM210.5 113.7h.9v.9h-.9zM213.0 111.1h.9v.9h-.9zM208.0 111.7h.9v.9h-.9zM203.8 108.5h.9v.9h-.9zM211.9 112.8h.9v.9h-.9zM207.2 108.6h.9v.9h-.9zM209.2 104.9h.9v.9h-.9zM204.5 116.2h.9v.9h-.9zM209.2 111.1h.9v.9h-.9zM205.6 110.0h.9v.9h-.9zM204.9 111.9h.9v.9h-.9zM208.9 110.3h.9v.9h-.9zM213.0 112.7h.9v.9h-.9zM203.1 112.9h.9v.9h-.9zM214.2 110.7h.9v.9h-.9zM212.0 111.9h.9v.9h-.9zM205.5 108.7h.9v.9h-.9zM206.5 106.0h.9v.9h-.9zM207.7 107.9h.9v.9h-.9zM213.3 110.8h.9v.9h-.9zM204.1 106.2h.9v.9h-.9zM211.9 110.3h.9v.9h-.9zM203.7 108.6h.9v.9h-.9zM208.5 110.7h.9v.9h-.9zM214.6 111.9h.9v.9h-.9zM206.2 103.9h.9v.9h-.9zM209.7 112.0h.9v.9h-.9zM207.5 113.6h.9v.9h-.9zM208.1 111.5h.9v.9h-.9zM215.1 106.8h.9v.9h-.9zM211.0 113.9h.9v.9h-.9zM205.9 119.7h.9v.9h-.9zM202.7 112.2h.9v.9h-.9zM204.4 106.8h.9v.9h-.9zM208.1 109.5h.9v.9h-.9zM209.6 110.6h.9v.9h-.9zM206.2 109.3h.9v.9h-.9zM205.0 111.4h.9v.9h-.9zM211.5 110.0h.9v.9h-.9zM207.1 111.0h.9v.9h-.9zM202.1 104.4h.9v.9h-.9zM206.7 113.8h.9v.9h-.9zM212.4 114.2h.9v.9h-.9zM208.2 109.2h.9v.9h-.9zM208.0 108.7h.9v.9h-.9zM207.8 112.0h.9v.9h-.9zM207.0 105.0h.9v.9h-.9zM212.8 118.5h.9v.9h-.9zM205.1 107.2h.9v.9h-.9zM211.8 105.7h.9v.9h-.9zM204.6 112.3h.9v.9h-.9zM215.9 114.2h.9v.9h-.9zM203.7 117.5h.9v.9h-.9zM205.1 112.6h.9v.9h-.9zM202.9 112.4h.9v.9h-.9zM209.3 106.2h.9v.9h-.9zM203.6 113.7h.9v.9h-.9zM210.2 107.7h.9v.9h-.9zM207.7 112.1h.9v.9h-.9zM204.6 104.9h.9v.9h-.9zM207.9 110.5h.9v.9h-.9zM209.5 107.9h.9v.9h-.9zM205.1 108.0h.9v.9h-.9zM207.7 114.8h.9v.9h-.9zM208.2 108.3h.9v.9h-.9zM212.4 109.8h.9v.9h-.9zM210.8 116.0h.9v.9h-.9zM213.9 108.4h.9v.9h-.9zM204.8 107.5h.9v.9h-.9zM208.5 114.1h.9v.9h-.9zM203.8 109.0h.9v.9h-.9zM206.8 108.5h.9v.9h-.9zM209.5 116.4h.9v.9h-.9zM206.4 108.6h.9v.9h-.9zM205.3 109.6h.9v.9h-.9zM210.2 108.7h.9v.9h-.9zM211.9 110.1h.9v.9h-.9zM204.2 109.5h.9v.9h-.9zM209.5 110.0h.9v.9h-.9zM204.0 111.8h.9v.9h-.9zM204.8 108.9h.9v.9h-.9zM210.1 112.9h.9v.9h-.9zM209.1 108.0h.9v.9h-.9zM212.7 109.2h.9v.9h-.9zM216.7 108.0h.9v.9h-.9zM204.7 109.7h.9v.9h-.9zM210.7 106.6h.9v.9h-.9zM208.7 107.0h.9v.9h-.9zM207.4 113.6h.9v.9h-.9zM210.8 107.8h.9v.9h-.9zM208.4 112.0h.9v.9h-.9zM205.8 108.8h.9v.9h-.9zM207.6 111.4h.9v.9h-.9zM208.2 120.2h.9v.9h-.9zM206.0 109.7h.9v.9h-.9zM211.5 112.1h.9v.9h-.9zM200.1 109.9h.9v.9h-.9zM211.1 110.6h.9v.9h-.9zM205.6 111.0h.9v.9h-.9zM212.2 111.8h.9v.9h-.9zM205.4 107.3h.9v.9h-.9zM203.4 111.7h.9v.9h-.9zM211.7 112.2h.9v.9h-.9zM212.6 109.3h.9v.9h-.9zM213.8 106.2h.9v.9h-.9zM211.5 110.1h.9v.9h-.9zM207.1 107.6h.9v.9h-.9zM206.4 113.0h.9v.9h-.9zM205.4 111.6h.9v.9h-.9zM205.5 104.6h.9v.9h-.9zM210.0 108.5h.9v.9h-.9zM207.6 115.6h.9v.9h-.9z" fill="#000" fill-opacity="0.6"/>
<path d="M213.8 120.0h.9v.9h-.9zM208.8 125.9h.9v.9h-.9zM207.9 118.3h.9v.9h-.9zM212.6 129.2h.9v.9h-.9zM210.9 121.3h.9v.9h-.9zM205.3 120.5h.9v.9h-.9zM207.3 121.4h.9v.9h-.9zM205.6 120.4h.9v.9h-.9zM211.2 121.8h.9v.9h-.9zM208.9 122.9h.9v.9h-.9zM212.9 126.6h.9v.9h-.9zM209.1 117.9h.9v.9h-.9zM213.0 124.7h.9v.9h-.9zM207.8 126.4h.9v.9h-.9zM209.6 121.5h.9v.9h-.9zM215.6 128.4h.9v.9h-.9zM199.6 127.0h.9v.9h-.9zM208.3 128.4h.9v.9h-.9zM204.8 124.3h.9v.9h-.9zM207.0 122.5h.9v.9h-.9zM208.7 124.3h.9v.9h-.9zM205.3 120.8h.9v.9h-.9zM209.5 119.8h.9v.9h-.9zM209.2 119.0h.9v.9h-.9zM208.8 118.5h.9v.9h-.9zM203.0 121.6h.9v.9h-.9zM213.3 125.1h.9v.9h-.9zM213.0 124.0h.9v.9h-.9zM208.6 124.5h.9v.9h-.9zM205.0 122.3h.9v.9h-.9zM205.9 126.5h.9v.9h-.9zM209.9 120.9h.9v.9h-.9zM208.7 125.4h.9v.9h-.9zM208.4 123.1h.9v.9h-.9zM210.4 122.4h.9v.9h-.9zM216.5 123.9h.9v.9h-.9zM206.6 120.8h.9v.9h-.9zM216.8 123.3h.9v.9h-.9zM205.2 117.2h.9v.9h-.9zM210.9 130.7h.9v.9h-.9zM210.9 121.9h.9v.9h-.9zM212.8 121.8h.9v.9h-.9zM207.8 122.0h.9v.9h-.9zM207.0 118.4h.9v.9h-.9zM209.5 129.4h.9v.9h-.9zM204.0 119.3h.9v.9h-.9zM210.5 121.8h.9v.9h-.9zM208.5 123.6h.9v.9h-.9zM210.9 123.3h.9v.9h-.9zM211.0 125.1h.9v.9h-.9zM207.0 125.5h.9v.9h-.9zM209.1 119.3h.9v.9h-.9zM214.0 120.7h.9v.9h-.9zM211.1 121.0h.9v.9h-.9zM212.4 118.0h.9v.9h-.9zM207.6 121.5h.9v.9h-.9zM206.7 129.5h.9v.9h-.9zM203.7 120.3h.9v.9h-.9zM207.5 126.9h.9v.9h-.9zM208.9 119.9h.9v.9h-.9zM209.5 120.6h.9v.9h-.9zM207.2 129.1h.9v.9h-.9zM206.4 122.3h.9v.9h-.9zM209.4 116.7h.9v.9h-.9zM208.5 118.2h.9v.9h-.9zM200.9 123.8h.9v.9h-.9zM208.3 124.3h.9v.9h-.9zM202.1 128.0h.9v.9h-.9zM213.3 119.5h.9v.9h-.9zM209.9 121.4h.9v.9h-.9zM211.0 123.4h.9v.9h-.9zM209.1 123.2h.9v.9h-.9zM206.3 119.7h.9v.9h-.9zM207.3 124.5h.9v.9h-.9zM207.7 123.0h.9v.9h-.9zM205.4 122.9h.9v.9h-.9zM210.9 122.7h.9v.9h-.9zM205.6 127.6h.9v.9h-.9zM210.8 120.0h.9v.9h-.9zM211.9 121.9h.9v.9h-.9zM210.7 122.1h.9v.9h-.9zM203.4 121.5h.9v.9h-.9zM216.4 126.8h.9v.9h-.9zM209.5 121.1h.9v.9h-.9zM205.1 121.3h.9v.9h-.9zM211.3 126.5h.9v.9h-.9zM214.9 118.3h.9v.9h-.9zM206.4 124.2h.9v.9h-.9zM206.5 125.1h.9v.9h-.9zM206.4 124.8h.9v.9h-.9zM206.8 127.4h.9v.9h-.9zM208.4 120.9h.9v.9h-.9zM211.0 121.1h.9v.9h-.9zM208.7 117.3h.9v.9h-.9zM212.1 126.1h.9v.9h-.9zM205.6 120.3h.9v.9h-.9zM211.6 127.4h.9v.9h-.9zM203.8 119.2h.9v.9h-.9zM210.7 128.1h.9v.9h-.9zM204.5 123.1h.9v.9h-.9zM214.6 122.1h.9v.9h-.9zM212.4 125.6h.9v.9h-.9zM209.6 119.1h.9v.9h-.9zM211.0 123.8h.9v.9h-.9zM212.6 118.9h.9v.9h-.9zM211.4 130.4h.9v.9h-.9zM208.7 118.2h.9v.9h-.9zM209.8 117.8h.9v.9h-.9zM209.0 124.6h.9v.9h-.9zM210.3 127.0h.9v.9h-.9zM207.4 123.8h.9v.9h-.9zM211.1 122.1h.9v.9h-.9zM207.7 124.2h.9v.9h-.9zM209.4 122.2h.9v.9h-.9zM207.8 122.7h.9v.9h-.9zM209.4 124.5h.9v.9h-.9zM202.8 120.7h.9v.9h-.9zM207.3 126.0h.9v.9h-.9zM211.8 120.8h.9v.9h-.9zM206.3 121.7h.9v.9h-.9zM209.4 119.7h.9v.9h-.9zM205.3 121.4h.9v.9h-.9zM210.2 126.5h.9v.9h-.9zM211.7 119.5h.9v.9h-.9zM203.9 126.9h.9v.9h-.9zM203.4 121.5h.9v.9h-.9zM206.5 125.3h.9v.9h-.9zM209.4 123.0h.9v.9h-.9zM209.8 119.2h.9v.9h-.9zM208.6 121.6h.9v.9h-.9zM212.6 119.9h.9v.9h-.9zM209.0 125.7h.9v.9h-.9zM208.7 122.0h.9v.9h-.9zM208.0 118.0h.9v.9h-.9zM203.8 119.8h.9v.9h-.9zM207.5 122.9h.9v.9h-.9zM205.9 121.5h.9v.9h-.9zM206.0 123.9h.9v.9h-.9zM206.0 122.5h.9v.9h-.9zM208.6 118.1h.9v.9h-.9zM208.3 118.0h.9v.9h-.9zM215.3 120.7h.9v.9h-.9zM208.3 117.7h.9v.9h-.9zM209.1 126.3h.9v.9h-.9zM209.0 121.5h.9v.9h-.9zM210.4 123.8h.9v.9h-.9zM212.4 119.6h.9v.9h-.9zM213.0 123.2h.9v.9h-.9zM213.1 123.9h.9v.9h-.9zM208.5 127.1h.9v.9h-.9zM206.4 122.2h.9v.9h-.9zM205.7 126.0h.9v.9h-.9zM212.1 128.0h.9v.9h-.9zM205.1 123.5h.9v.9h-.9zM205.8 124.9h.9v.9h-.9zM207.2 118.0h.9v.9h-.9zM215.7 126.0h.9v.9h-.9zM214.9 127.5h.9v.9h-.9zM211.5 123.3h.9v.9h-.9zM211.3 123.1h.9v.9h-.9zM208.9 116.2h.9v.9h-.9zM210.7 124.2h.9v.9h-.9zM206.5 124.4h.9v.9h-.9zM209.3 119.1h.9v.9h-.9zM211.5 120.1h.9v.9h-.9zM213.3 126.1h.9v.9h-.9zM210.2 120.4h.9v.9h-.9zM209.4 124.0h.9v.9h-.9zM205.9 122.3h.9v.9h-.9zM207.0 120.0h.9v.9h-.9zM213.8 123.0h.9v.9h-.9zM208.1 120.5h.9v.9h-.9zM213.4 119.4h.9v.9h-.9zM214.6 127.0h.9v.9h-.9zM202.1 120.9h.9v.9h-.9zM214.9 123.2h.9v.9h-.9zM206.7 125.0h.9v.9h-.9zM207.8 124.0h.9v.9h-.9zM206.7 125.5h.9v.9h-.9zM212.1 125.0h.9v.9h-.9zM205.9 120.9h.9v.9h-.9zM206.6 131.0h.9v.9h-.9zM205.1 122.8h.9v.9h-.9zM203.5 126.7h.9v.9h-.9zM204.2 121.5h.9v.9h-.9zM209.5 120.9h.9v.9h-.9zM214.7 123.3h.9v.9h-.9zM212.4 123.1h.9v.9h-.9zM209.6 126.2h.9v.9h-.9zM210.0 120.8h.9v.9h-.9zM205.6 127.9h.9v.9h-.9zM209.8 123.8h.9v.9h-.9zM210.8 127.3h.9v.9h-.9zM209.8 119.5h.9v.9h-.9zM204.5 122.6h.9v.9h-.9zM203.6 125.8h.9v.9h-.9zM213.5 116.1h.9v.9h-.9zM207.1 119.5h.9v.9h-.9zM217.0 120.4h.9v.9h-.9zM213.4 128.7h.9v.9h-.9zM208.7 123.4h.9v.9h-.9zM213.0 114.7h.9v.9h-.9zM207.1 121.5h.9v.9h-.9zM202.6 118.3h.9v.9h-.9zM208.9 122.0h.9v.9h-.9zM200.7 123.7h.9v.9h-.9zM211.0 124.2h.9v.9h-.9zM206.9 117.3h.9v.9h-.9zM206.5 121.3h.9v.9h-.9zM207.4 119.3h.9v.9h-.9zM207.5 119.0h.9v.9h-.9zM204.0 125.2h.9v.9h-.9zM206.8 118.8h.9v.9h-.9zM210.2 122.3h.9v.9h-.9zM205.7 121.6h.9v.9h-.9zM211.7 119.1h.9v.9h-.9zM209.7 126.5h.9v.9h-.9zM210.2 125.9h.9v.9h-.9zM203.9 121.9h.9v.9h-.9zM215.5 123.7h.9v.9h-.9zM213.4 122.0h.9v.9h-.9zM210.2 125.1h.9v.9h-.9zM213.2 122.6h.9v.9h-.9zM212.7 119.9h.9v.9h-.9zM204.3 119.3h.9v.9h-.9zM209.0 121.7h.9v.9h-.9zM205.0 122.0h.9v.9h-.9zM209.3 125.5h.9v.9h-.9zM209.8 118.3h.9v.9h-.9zM207.2 126.1h.9v.9h-.9zM212.8 119.6h.9v.9h-.9zM208.8 120.5h.9v.9h-.9zM206.5 121.3h.9v.9h-.9zM209.7 122.9h.9v.9h-.9zM206.9 119.2h.9v.9h-.9zM206.1 130.5h.9v.9h-.9zM209.8 129.4h.9v.9h-.9zM214.0 125.3h.9v.9h-.9zM209.4 118.0h.9v.9h-.9zM209.7 128.6h.9v.9h-.9zM204.7 121.3h.9v.9h-.9zM213.0 122.6h.9v.9h-.9zM212.3 122.4h.9v.9h-.9zM209.9 121.9h.9v.9h-.9zM207.6 122.2h.9v.9h-.9zM210.6 122.3h.9v.9h-.9zM201.8 122.8h.9v.9h-.9zM213.6 121.8h.9v.9h-.9zM204.1 121.7h.9v.9h-.9zM203.8 126.3h.9v.9h-.9zM209.3 123.4h.9v.9h-.9zM207.6 124.3h.9v.9h-.9zM208.5 126.6h.9v.9h-.9zM210.9 118.1h.9v.9h-.9zM205.1 121.9h.9v.9h-.9zM210.4 121.6h.9v.9h-.9zM204.9 119.8h.9v.9h-.9zM207.7 126.9h.9v.9h-.9zM205.4 120.5h.9v.9h-.9zM209.7 122.9h.9v.9h-.9zM209.9 123.8h.9v.9h-.9zM210.7 125.9h.9v.9h-.9zM207.6 127.1h.9v.9h-.9zM208.6 121.3h.9v.9h-.9zM207.2 125.0h.9v.9h-.9zM212.4 120.3h.9v.9h-.9zM211.3 124.0h.9v.9h-.9zM206.1 122.7h.9v.9h-.9zM211.2 127.9h.9v.9h-.9zM209.8 121.6h.9v.9h-.9zM207.2 120.9h.9v.9h-.9zM212.2 120.4h.9v.9h-.9zM208.1 120.6h.9v.9h-.9zM209.7 124.8h.9v.9h-.9zM212.7 127.4h.9v.9h-.9zM208.1 120.4h.9v.9h-.9zM212.3 124.2h.9v.9h-.9zM209.3 122.4h.9v.9h-.9zM210.2 119.9h.9v.9h-.9zM207.1 122.5h.9v.9h-.9zM210.1 124.4h.9v.9h-.9zM207.5 123.1h.9v.9h-.9zM209.5 125.4h.9v.9h-.9zM210.8 120.4h.9v.9h-.9zM211.2 129.5h.9v.9h-.9zM203.9 124.7h.9v.9h-.9zM207.6 118.4h.9v.9h-.9zM210.0 126.2h.9v.9h-.9zM204.9 123.0h.9v.9h-.9zM212.6 121.2h.9v.9h-.9zM210.1 123.1h.9v.9h-.9zM203.9 125.4h.9v.9h-.9zM207.3 125.5h.9v.9h-.9zM204.4 118.3h.9v.9h-.9zM206.7 128.4h.9v.9h-.9zM210.1 124.4h.9v.9h-.9zM206.9 117.8h.9v.9h-.9zM202.5 119.5h.9v.9h-.9zM209.6 128.2h.9v.9h-.9zM203.4 116.2h.9v.9h-.9zM211.5 126.2h.9v.9h-.9zM209.4 119.3h.9v.9h-.9zM212.5 119.7h.9v.9h-.9zM217.0 121.9h.9v.9h-.9zM206.1 120.5h.9v.9h-.9zM217.1 124.6h.9v.9h-.9zM210.2 119.1h.9v.9h-.9zM209.7 122.2h.9v.9h-.9zM213.4 120.1h.9v.9h-.9zM213.6 119.7h.9v.9h-.9zM205.7 123.2h.9v.9h-.9zM209.2 117.3h.9v.9h-.9zM203.8 119.6h.9v.9h-.9zM210.9 125.9h.9v.9h-.9zM211.4 123.8h.9v.9h-.9zM210.8 120.7h.9v.9h-.9zM209.3 121.7h.9v.9h-.9zM207.1 128.6h.9v.9h-.9zM208.8 126.2h.9v.9h-.9zM205.2 121.7h.9v.9h-.9zM206.6 121.3h.9v.9h-.9zM208.1 123.7h.9v.9h-.9zM209.0 120.9h.9v.9h-.9zM214.0 120.3h.9v.9h-.9zM212.2 120.9h.9v.9h-.9zM205.3 126.6h.9v.9h-.9zM204.2 119.7h.9v.9h-.9zM210.6 121.6h.9v.9h-.9zM204.6 122.9h.9v.9h-.9zM213.3 124.4h.9v.9h-.9zM209.5 124.3h.9v.9h-.9zM207.0 125.5h.9v.9h-.9zM208.6 118.0h.9v.9h-.9zM206.0 122.7h.9v.9h-.9zM209.0 122.3h.9v.9h-.9zM205.3 123.4h.9v.9h-.9zM205.6 116.9h.9v.9h-.9zM206.8 126.7h.9v.9h-.9zM212.2 122.5h.9v.9h-.9zM212.0 124.4h.9v.9h-.9zM206.5 125.1h.9v.9h-.9zM208.2 121.9h.9v.9h-.9zM210.9 120.0h.9v.9h-.9zM210.1 126.9h.9v.9h-.9zM212.8 122.5h.9v.9h-.9zM212.6 118.5h.9v.9h-.9zM210.9 121.0h.9v.9h-.9zM212.9 122.8h.9v.9h-.9zM209.6 123.8h.9v.9h-.9zM205.5 113.6h.9v.9h-.9zM206.2 122.6h.9v.9h-.9zM213.8 122.6h.9v.9h-.9zM211.1 122.6h.9v.9h-.9zM209.2 125.0h.9v.9h-.9zM208.1 125.9h.9v.9h-.9zM215.3 126.9h.9v.9h-.9zM206.1 125.7h.9v.9h-.9zM211.7 126.3h.9v.9h-.9zM208.5 126.8h.9v.9h-.9zM210.2 121.8h.9v.9h-.9zM212.4 122.4h.9v.9h-.9zM204.2 123.1h.9v.9h-.9zM204.6 120.8h.9v.9h-.9zM209.4 116.3h.9v.9h-.9zM206.7 121.5h.9v.9h-.9zM205.6 119.7h.9v.9h-.9zM203.4 120.1h.9v.9h-.9zM205.9 124.2h.9v.9h-.9zM208.4 126.2h.9v.9h-.9zM211.3 124.0h.9v.9h-.9zM211.2 121.0h.9v.9h-.9zM214.7 125.8h.9v.9h-.9zM208.4 122.4h.9v.9h-.9zM208.5 119.6h.9v.9h-.9zM211.8 119.7h.9v.9h-.9zM210.5 123.7h.9v.9h-.9zM208.2 124.4h.9v.9h-.9zM211.3 118.9h.9v.9h-.9zM202.2 121.2h.9v.9h-.9zM211.0 123.7h.9v.9h-.9zM210.2 123.8h.9v.9h-.9zM213.7 119.8h.9v.9h-.9zM208.3 130.3h.9v.9h-.9zM204.0 118.1h.9v.9h-.9zM206.6 122.7h.9v.9h-.9zM209.9 122.2h.9v.9h-.9zM211.3 127.5h.9v.9h-.9zM208.9 119.0h.9v.9h-.9zM207.6 122.2h.9v.9h-.9zM210.3 119.7h.9v.9h-.9zM213.1 123.4h.9v.9h-.9zM213.4 121.0h.9v.9h-.9zM207.0 131.2h.9v.9h-.9zM202.0 121.6h.9v.9h-.9zM208.0 120.7h.9v.9h-.9zM205.2 125.7h.9v.9h-.9zM207.3 120.6h.9v.9h-.9zM209.5 121.9h.9v.9h-.9zM204.8 118.2h.9v.9h-.9zM208.9 125.1h.9v.9h-.9zM208.8 124.5h.9v.9h-.9zM210.8 119.7h.9v.9h-.9zM211.5 123.3h.9v.9h-.9zM216.0 124.6h.9v.9h-.9zM206.4 122.8h.9v.9h-.9zM201.7 120.8h.9v.9h-.9zM209.9 124.0h.9v.9h-.9zM211.4 121.3h.9v.9h-.9zM205.7 120.6h.9v.9h-.9zM205.0 127.4h.9v.9h-.9zM205.2 118.7h.9v.9h-.9zM214.9 121.3h.9v.9h-.9zM210.7 123.6h.9v.9h-.9zM206.7 122.8h.9v.9h-.9zM212.9 121.2h.9v.9h-.9zM202.2 115.3h.9v.9h-.9zM204.6 121.7h.9v.9h-.9zM211.2 125.7h.9v.9h-.9zM212.7 126.1h.9v.9h-.9zM214.5 122.1h.9v.9h-.9zM209.4 115.2h.9v.9h-.9zM208.6 127.5h.9v.9h-.9zM207.9 124.8h.9v.9h-.9zM208.3 123.6h.9v.9h-.9zM206.5 123.7h.9v.9h-.9zM205.6 123.5h.9v.9h-.9zM205.9 120.7h.9v.9h-.9zM211.9 119.7h.9v.9h-.9zM210.5 125.1h.9v.9h-.9zM205.7 119.3h.9v.9h-.9zM205.6 124.9h.9v.9h-.9zM208.1 123.4h.9v.9h-.9zM214.2 121.2h.9v.9h-.9zM212.3 122.4h.9v.9h-.9zM207.8 118.5h.9v.9h-.9zM205.9 130.0h.9v.9h-.9zM209.5 120.0h.9v.9h-.9zM213.0 124.7h.9v.9h-.9zM211.4 125.3h.9v.9h-.9zM202.6 117.3h.9v.9h-.9zM207.7 123.4h.9v.9h-.9zM208.6 125.1h.9v.9h-.9zM204.6 125.8h.9v.9h-.9zM201.5 122.9h.9v.9h-.9zM210.5 124.4h.9v.9h-.9zM210.8 122.9h.9v.9h-.9zM208.8 118.4h.9v.9h-.9zM208.9 121.8h.9v.9h-.9zM209.6 120.4h.9v.9h-.9zM203.9 126.6h.9v.9h-.9zM202.4 121.5h.9v.9h-.9zM213.2 127.0h.9v.9h-.9zM202.7 124.9h.9v.9h-.9zM206.6 123.7h.9v.9h-.9zM210.8 125.3h.9v.9h-.9zM202.3 119.8h.9v.9h-.9zM210.8 124.5h.9v.9h-.9zM214.2 125.1h.9v.9h-.9zM212.7 126.1h.9v.9h-.9zM211.2 118.2h.9v.9h-.9zM215.0 123.8h.9v.9h-.9zM207.1 121.8h.9v.9h-.9zM206.5 122.5h.9v.9h-.9zM202.9 125.4h.9v.9h-.9zM205.2 125.8h.9v.9h-.9zM206.7 124.6h.9v.9h-.9zM213.1 124.0h.9v.9h-.9zM208.7 123.1h.9v.9h-.9zM207.8 121.8h.9v.9h-.9zM215.4 118.9h.9v.9h-.9zM206.0 121.1h.9v.9h-.9zM208.5 124.5h.9v.9h-.9zM208.2 125.8h.9v.9h-.9zM205.1 123.7h.9v.9h-.9zM209.3 119.3h.9v.9h-.9zM208.3 121.4h.9v.9h-.9zM206.4 119.9h.9v.9h-.9zM211.6 120.0h.9v.9h-.9zM211.7 125.8h.9v.9h-.9zM210.6 124.5h.9v.9h-.9zM203.5 123.0h.9v.9h-.9zM211.0 125.2h.9v.9h-.9zM213.0 124.8h.9v.9h-.9zM208.4 120.9h.9v.9h-.9zM206.3 122.8h.9v.9h-.9zM207.9 126.9h.9v.9h-.9zM207.0 119.6h.9v.9h-.9zM206.5 129.9h.9v.9h-.9zM209.1 118.7h.9v.9h-.9zM213.6 121.8h.9v.9h-.9zM209.4 120.5h.9v.9h-.9zM210.9 125.0h.9v.9h-.9zM206.1 122.8h.9v.9h-.9zM204.1 127.0h.9v.9h-.9zM205.5 119.9h.9v.9h-.9zM205.4 119.3h.9v.9h-.9zM209.1 120.6h.9v.9h-.9zM210.8 124.1h.9v.9h-.9zM212.5 126.9h.9v.9h-.9zM206.4 122.8h.9v.9h-.9zM205.6 121.9h.9v.9h-.9zM210.8 123.8h.9v.9h-.9zM206.5 124.1h.9v.9h-.9zM208.9 124.4h.9v.9h-.9zM200.7 119.7h.9v.9h-.9zM212.0 117.6h.9v.9h-.9zM207.2 121.7h.9v.9h-.9zM206.2 121.4h.9v.9h-.9zM209.2 122.0h.9v.9h-.9zM206.8 124.3h.9v.9h-.9zM211.5 125.2h.9v.9h-.9zM202.3 126.8h.9v.9h-.9zM210.1 122.0h.9v.9h-.9zM212.1 125.2h.9v.9h-.9zM211.7 120.2h.9v.9h-.9zM203.0 127.3h.9v.9h-.9zM210.6 121.2h.9v.9h-.9zM207.3 122.0h.9v.9h-.9zM211.4 118.8h.9v.9h-.9zM205.9 130.1h.9v.9h-.9zM204.4 124.2h.9v.9h-.9zM209.5 123.1h.9v.9h-.9zM213.0 121.4h.9v.9h-.9zM212.7 122.7h.9v.9h-.9zM206.5 120.3h.9v.9h-.9zM206.9 125.5h.9v.9h-.9zM212.2 122.9h.9v.9h-.9zM206.1 119.8h.9v.9h-.9zM208.1 126.9h.9v.9h-.9zM211.2 121.7h.9v.9h-.9zM213.7 117.6h.9v.9h-.9zM201.9 117.8h.9v.9h-.9zM211.7 119.0h.9v.9h-.9zM207.0 122.6h.9v.9h-.9zM206.8 125.2h.9v.9h-.9zM209.9 121.8h.9v.9h-.9zM211.3 116.4h.9v.9h-.9zM212.6 121.0h.9v.9h-.9zM205.6 122.6h.9v.9h-.9zM210.6 122.7h.9v.9h-.9zM210.0 122.0h.9v.9h-.9zM206.6 127.5h.9v.9h-.9zM212.2 118.1h.9v.9h-.9zM210.5 120.0h.9v.9h-.9zM206.0 123.9h.9v.9h-.9zM211.9 127.5h.9v.9h-.9zM212.3 120.9h.9v.9h-.9zM206.8 120.3h.9v.9h-.9zM207.7 127.6h.9v.9h-.9zM209.9 123.4h.9v.9h-.9zM198.2 123.5h.9v.9h-.9zM206.4 121.9h.9v.9h-.9zM209.9 124.8h.9v.9h-.9zM206.5 120.1h.9v.9h-.9zM209.0 120.5h.9v.9h-.9zM213.7 121.2h.9v.9h-.9zM202.9 122.5h.9v.9h-.9zM206.6 122.1h.9v.9h-.9zM208.8 126.0h.9v.9h-.9zM212.7 121.3h.9v.9h-.9zM202.7 115.9h.9v.9h-.9zM214.6 122.2h.9v.9h-.9zM210.6 121.2h.9v.9h-.9zM209.3 124.8h.9v.9h-.9zM207.1 122.2h.9v.9h-.9zM210.3 118.8h.9v.9h-.9zM205.5 124.2h.9v.9h-.9zM207.1 121.8h.9v.9h-.9zM203.4 123.8h.9v.9h-.9zM209.9 128.7h.9v.9h-.9zM208.5 121.9h.9v.9h-.9zM211.4 122.7h.9v.9h-.9zM213.9 122.7h.9v.9h-.9zM208.4 125.2h.9v.9h-.9zM212.8 124.3h.9v.9h-.9zM213.3 118.8h.9v.9h-.9zM209.0 124.2h.9v.9h-.9zM214.3 118.8h.9v.9h-.9zM214.2 122.6h.9v.9h-.9zM211.7 123.9h.9v.9h-.9zM202.1 120.9h.9v.9h-.9zM209.4 120.8h.9v.9h-.9zM207.0 123.3h.9v.9h-.9zM208.1 122.0h.9v.9h-.9zM210.7 121.2h.9v.9h-.9zM204.2 119.6h.9v.9h-.9zM209.6 118.5h.9v.9h-.9zM207.0 124.2h.9v.9h-.9zM206.4 120.8h.9v.9h-.9zM204.1 125.2h.9v.9h-.9zM211.1 121.8h.9v.9h-.9zM211.0 120.6h.9v.9h-.9zM204.8 118.1h.9v.9h-.9zM210.7 120.1h.9v.9h-.9zM210.0 121.8h.9v.9h-.9zM212.0 123.3h.9v.9h-.9zM205.2 118.1h.9v.9h-.9zM208.1 125.6h.9v.9h-.9zM208.7 126.8h.9v.9h-.9zM212.4 121.5h.9v.9h-.9zM206.8 121.3h.9v.9h-.9zM208.3 123.7h.9v.9h-.9zM209.5 119.3h.9v.9h-.9zM209.1 122.1h.9v.9h-.9zM211.2 119.0h.9v.9h-.9zM213.6 123.0h.9v.9h-.9zM207.5 121.9h.9v.9h-.9zM206.4 123.8h.9v.9h-.9zM212.2 123.6h.9v.9h-.9zM209.6 125.5h.9v.9h-.9zM214.2 126.2h.9v.9h-.9zM202.1 123.4h.9v.9h-.9zM210.1 123.2h.9v.9h-.9zM210.0 128.1h.9v.9h-.9zM210.2 123.1h.9v.9h-.9zM208.8 118.2h.9v.9h-.9zM204.8 117.8h.9v.9h-.9zM214.3 123.2h.9v.9h-.9zM205.3 121.9h.9v.9h-.9zM209.1 121.2h.9v.9h-.9zM212.9 124.0h.9v.9h-.9zM212.1 120.7h.9v.9h-.9zM204.9 122.0h.9v.9h-.9zM208.5 125.1h.9v.9h-.9zM202.6 125.6h.9v.9h-.9zM208.8 123.5h.9v.9h-.9zM211.9 120.8h.9v.9h-.9zM208.7 124.3h.9v.9h-.9zM208.0 119.0h.9v.9h-.9zM210.7 122.1h.9v.9h-.9zM207.8 124.2h.9v.9h-.9zM206.8 127.1h.9v.9h-.9zM211.9 127.3h.9v.9h-.9zM206.9 122.9h.9v.9h-.9zM208.0 121.1h.9v.9h-.9zM205.9 122.0h.9v.9h-.9zM208.6 120.1h.9v.9h-.9zM201.4 119.8h.9v.9h-.9zM214.4 121.4h.9v.9h-.9zM212.1 120.1h.9v.9h-.9zM202.7 123.6h.9v.9h-.9zM211.0 123.9h.9v.9h-.9zM208.7 122.6h.9v.9h-.9zM211.8 121.1h.9v.9h-.9zM209.4 128.5h.9v.9h-.9zM202.5 123.8h.9v.9h-.9zM215.6 117.5h.9v.9h-.9zM203.2 120.6h.9v.9h-.9zM208.0 127.5h.9v.9h-.9zM206.4 117.5h.9v.9h-.9zM213.9 122.2h.9v.9h-.9zM209.3 122.7h.9v.9h-.9zM205.0 120.6h.9v.9h-.9zM210.8 125.1h.9v.9h-.9zM203.7 123.2h.9v.9h-.9zM205.5 125.3h.9v.9h-.9zM208.2 121.7h.9v.9h-.9zM209.9 128.2h.9v.9h-.9zM209.6 130.1h.9v.9h-.9zM210.9 123.8h.9v.9h-.9zM209.9 123.8h.9v.9h-.9zM209.4 130.4h.9v.9h-.9zM205.4 123.4h.9v.9h-.9zM209.1 123.8h.9v.9h-.9zM209.0 126.0h.9v.9h-.9zM205.2 126.7h.9v.9h-.9zM213.5 121.6h.9v.9h-.9zM210.8 117.9h.9v.9h-.9zM212.9 126.4h.9v.9h-.9zM214.7 123.1h.9v.9h-.9zM216.4 126.0h.9v.9h-.9zM213.3 125.9h.9v.9h-.9zM209.5 120.7h.9v.9h-.9zM210.4 121.9h.9v.9h-.9zM213.2 120.2h.9v.9h-.9zM205.9 124.6h.9v.9h-.9zM207.0 125.4h.9v.9h-.9zM210.7 126.1h.9v.9h-.9zM211.3 122.8h.9v.9h-.9zM207.9 122.3h.9v.9h-.9zM211.5 122.6h.9v.9h-.9zM214.6 128.9h.9v.9h-.9zM206.7 125.4h.9v.9h-.9zM204.6 121.4h.9v.9h-.9zM213.6 118.9h.9v.9h-.9zM207.6 122.1h.9v.9h-.9zM203.6 119.5h.9v.9h-.9zM211.0 123.2h.9v.9h-.9zM212.5 121.7h.9v.9h-.9zM201.1 122.5h.9v.9h-.9zM204.7 124.9h.9v.9h-.9zM205.7 128.8h.9v.9h-.9zM203.0 121.2h.9v.9h-.9zM216.4 125.1h.9v.9h-.9zM209.8 125.5h.9v.9h-.9zM213.6 120.0h.9v.9h-.9zM209.6 127.5h.9v.9h-.9zM212.3 121.0h.9v.9h-.9zM210.2 125.3h.9v.9h-.9zM204.9 126.6h.9v.9h-.9zM213.3 118.2h.9v.9h-.9zM207.5 120.3h.9v.9h-.9zM204.2 120.5h.9v.9h-.9zM203.3 125.3h.9v.9h-.9zM210.2 117.7h.9v.9h-.9zM204.0 125.2h.9v.9h-.9zM207.2 127.0h.9v.9h-.9zM207.0 121.6h.9v.9h-.9zM209.2 119.5h.9v.9h-.9zM207.5 123.8h.9v.9h-.9zM217.1 121.7h.9v.9h-.9zM209.6 119.4h.9v.9h-.9zM208.0 119.7h.9v.9h-.9zM205.7 120.0h.9v.9h-.9zM205.0 125.4h.9v.9h-.9zM210.8 117.7h.9v.9h-.9zM212.9 124.0h.9v.9h-.9zM207.6 118.9h.9v.9h-.9zM209.0 123.8h.9v.9h-.9zM203.9 117.4h.9v.9h-.9zM212.8 119.7h.9v.9h-.9zM209.7 120.5h.9v.9h-.9zM206.5 126.0h.9v.9h-.9zM206.0 127.7h.9v.9h-.9zM211.0 129.2h.9v.9h-.9zM208.7 122.3h.9v.9h-.9zM208.5 123.8h.9v.9h-.9zM214.2 119.0h.9v.9h-.9zM215.4 123.6h.9v.9h-.9zM207.5 121.3h.9v.9h-.9zM212.1 124.8h.9v.9h-.9zM211.2 123.5h.9v.9h-.9zM213.3 124.0h.9v.9h-.9zM207.3 124.1h.9v.9h-.9zM209.6 123.3h.9v.9h-.9zM212.9 123.4h.9v.9h-.9zM204.8 118.2h.9v.9h-.9zM205.7 118.9h.9v.9h-.9zM206.9 121.3h.9v.9h-.9zM214.4 124.8h.9v.9h-.9zM213.1 122.8h.9v.9h-.9zM207.9 117.2h.9v.9h-.9zM207.2 124.9h.9v.9h-.9zM205.5 126.1h.9v.9h-.9zM211.4 122.6h.9v.9h-.9zM208.5 126.9h.9v.9h-.9zM207.5 121.4h.9v.9h-.9zM207.5 118.2h.9v.9h-.9z" fill="#000" fill-opacity="0.62"/>
<path d="M183.7 94.1h.9v.9h-.9zM169.7 93.2h.9v.9h-.9zM177.2 70.6h.9v.9h-.9zM174.8 74.2h.9v.9h-.9zM169.7 74.3h.9v.9h-.9zM181.3 71.8h.9v.9h-.9zM175.8 91.7h.9v.9h-.9zM165.0 82.6h.9v.9h-.9zM161.4 90.5h.9v.9h-.9zM169.5 85.8h.9v.9h-.9zM173.0 69.8h.9v.9h-.9zM173.8 62.6h.9v.9h-.9zM173.3 109.8h.9v.9h-.9zM163.8 57.8h.9v.9h-.9zM185.3 57.0h.9v.9h-.9zM172.9 69.6h.9v.9h-.9zM182.8 64.3h.9v.9h-.9zM185.5 69.8h.9v.9h-.9zM171.6 95.4h.9v.9h-.9zM161.1 91.6h.9v.9h-.9zM177.2 71.3h.9v.9h-.9zM180.5 88.9h.9v.9h-.9zM171.8 55.2h.9v.9h-.9zM172.4 92.2h.9v.9h-.9zM173.6 105.3h.9v.9h-.9zM159.0 57.4h.9v.9h-.9zM174.1 81.6h.9v.9h-.9zM167.8 74.3h.9v.9h-.9zM160.0 61.9h.9v.9h-.9zM182.5 95.7h.9v.9h-.9zM169.8 94.3h.9v.9h-.9zM161.5 62.0h.9v.9h-.9zM163.1 66.0h.9v.9h-.9zM160.8 84.2h.9v.9h-.9zM174.4 86.5h.9v.9h-.9zM160.6 67.5h.9v.9h-.9zM164.1 77.0h.9v.9h-.9zM166.7 110.5h.9v.9h-.9zM157.0 73.0h.9v.9h-.9zM182.5 109.4h.9v.9h-.9zM175.3 60.4h.9v.9h-.9zM183.3 64.9h.9v.9h-.9zM179.5 84.8h.9v.9h-.9zM173.0 81.7h.9v.9h-.9zM160.8 86.2h.9v.9h-.9zM166.0 88.9h.9v.9h-.9zM184.3 100.9h.9v.9h-.9zM184.7 106.1h.9v.9h-.9zM165.4 90.4h.9v.9h-.9zM169.1 80.8h.9v.9h-.9zM159.4 90.3h.9v.9h-.9zM178.3 86.5h.9v.9h-.9zM174.2 91.1h.9v.9h-.9zM160.1 86.1h.9v.9h-.9zM163.5 69.8h.9v.9h-.9zM184.6 79.7h.9v.9h-.9zM168.0 109.4h.9v.9h-.9zM184.0 63.8h.9v.9h-.9zM164.4 101.4h.9v.9h-.9zM165.3 79.0h.9v.9h-.9z" fill="#000" fill-opacity="0.12"/>
<path d="M215.5 119.5h.9v.9h-.9zM219.6 119.6h.9v.9h-.9zM213.7 119.4h.9v.9h-.9zM221.5 125.4h.9v.9h-.9zM225.5 118.7h.9v.9h-.9zM227.7 122.4h.9v.9h-.9zM219.9 118.5h.9v.9h-.9zM237.3 120.2h.9v.9h-.9zM225.4 116.5h.9v.9h-.9zM221.1 114.3h.9v.9h-.9zM222.4 122.1h.9v.9h-.9zM211.2 116.5h.9v.9h-.9zM221.2 122.1h.9v.9h-.9zM222.3 116.1h.9v.9h-.9zM215.5 119.2h.9v.9h-.9zM222.6 117.6h.9v.9h-.9zM215.3 120.5h.9v.9h-.9zM225.4 119.8h.9v.9h-.9zM217.2 112.8h.9v.9h-.9zM222.6 120.0h.9v.9h-.9zM217.7 115.6h.9v.9h-.9zM219.5 126.9h.9v.9h-.9zM208.2 116.3h.9v.9h-.9zM223.3 115.1h.9v.9h-.9zM216.2 120.2h.9v.9h-.9zM218.0 118.3h.9v.9h-.9zM220.4 116.6h.9v.9h-.9zM228.2 116.7h.9v.9h-.9zM214.6 118.6h.9v.9h-.9zM219.1 122.9h.9v.9h-.9zM224.2 118.8h.9v.9h-.9zM217.7 116.3h.9v.9h-.9zM228.7 117.1h.9v.9h-.9zM229.1 114.8h.9v.9h-.9zM225.5 118.2h.9v.9h-.9zM211.3 111.2h.9v.9h-.9zM223.0 122.5h.9v.9h-.9zM221.9 114.0h.9v.9h-.9zM236.3 118.4h.9v.9h-.9zM214.8 121.5h.9v.9h-.9zM215.2 124.7h.9v.9h-.9zM221.9 118.9h.9v.9h-.9zM222.0 118.2h.9v.9h-.9zM222.6 125.7h.9v.9h-.9zM231.2 123.8h.9v.9h-.9zM228.0 119.9h.9v.9h-.9zM234.0 120.7h.9v.9h-.9zM230.7 120.4h.9v.9h-.9zM217.4 115.6h.9v.9h-.9zM226.6 116.0h.9v.9h-.9zM222.1 123.6h.9v.9h-.9zM225.3 117.9h.9v.9h-.9zM222.3 126.3h.9v.9h-.9zM220.0 123.7h.9v.9h-.9zM226.7 125.3h.9v.9h-.9zM220.9 124.1h.9v.9h-.9zM223.9 122.4h.9v.9h-.9zM214.3 118.0h.9v.9h-.9zM219.2 120.1h.9v.9h-.9zM222.3 118.7h.9v.9h-.9z" fill="#000" fill-opacity="0.15"/>
</g>
<text x="302.00" y="29.30" font-size="10.58" font-weight="bold" text-anchor="start" fill="#000" >KR0350 NK Line (8-5): HLA-C-Group 1</text>
<text x="435.60" y="52.20" font-size="9.3" font-weight="bold" text-anchor="start" fill="#000" >E/T ratio=20:1</text>
<line x1="297.20" y1="49.10" x2="297.20" y2="126.10" stroke="#8c8c8c" stroke-width="1" />
<line x1="297.20" y1="126.10" x2="520.50" y2="126.10" stroke="#8c8c8c" stroke-width="1" />
<line x1="295.40" y1="126.10" x2="297.20" y2="126.10" stroke="#8c8c8c" stroke-width="0.8" />
<text x="292.70" y="128.70" font-size="7.1" font-weight="bold" text-anchor="end" fill="#000" >0</text>
<line x1="295.40" y1="118.40" x2="297.20" y2="118.40" stroke="#8c8c8c" stroke-width="0.8" />
<text x="292.70" y="121.00" font-size="7.1" font-weight="bold" text-anchor="end" fill="#000" >10</text>
<line x1="295.40" y1="110.70" x2="297.20" y2="110.70" stroke="#8c8c8c" stroke-width="0.8" />
<text x="292.70" y="113.30" font-size="7.1" font-weight="bold" text-anchor="end" fill="#000" >20</text>
<line x1="295.40" y1="103.00" x2="297.20" y2="103.00" stroke="#8c8c8c" stroke-width="0.8" />
<text x="292.70" y="105.60" font-size="7.1" font-weight="bold" text-anchor="end" fill="#000" >30</text>
<line x1="295.40" y1="95.30" x2="297.20" y2="95.30" stroke="#8c8c8c" stroke-width="0.8" />
<text x="292.70" y="97.90" font-size="7.1" font-weight="bold" text-anchor="end" fill="#000" >40</text>
<line x1="295.40" y1="87.60" x2="297.20" y2="87.60" stroke="#8c8c8c" stroke-width="0.8" />
<text x="292.70" y="90.20" font-size="7.1" font-weight="bold" text-anchor="end" fill="#000" >50</text>
<line x1="295.40" y1="79.90" x2="297.20" y2="79.90" stroke="#8c8c8c" stroke-width="0.8" />
<text x="292.70" y="82.50" font-size="7.1" font-weight="bold" text-anchor="end" fill="#000" >60</text>
<line x1="295.40" y1="72.20" x2="297.20" y2="72.20" stroke="#8c8c8c" stroke-width="0.8" />
<text x="292.70" y="74.80" font-size="7.1" font-weight="bold" text-anchor="end" fill="#000" >70</text>
<line x1="295.40" y1="64.50" x2="297.20" y2="64.50" stroke="#8c8c8c" stroke-width="0.8" />
<text x="292.70" y="67.10" font-size="7.1" font-weight="bold" text-anchor="end" fill="#000" >80</text>
<line x1="295.40" y1="56.80" x2="297.20" y2="56.80" stroke="#8c8c8c" stroke-width="0.8" />
<text x="292.70" y="59.40" font-size="7.1" font-weight="bold" text-anchor="end" fill="#000" >90</text>
<line x1="295.40" y1="49.10" x2="297.20" y2="49.10" stroke="#8c8c8c" stroke-width="0.8" />
<text x="292.70" y="51.70" font-size="7.1" font-weight="bold" text-anchor="end" fill="#000" >100</text>
<line x1="334.40" y1="126.10" x2="334.40" y2="127.90" stroke="#8c8c8c" stroke-width="0.8" />
<line x1="371.60" y1="126.10" x2="371.60" y2="127.90" stroke="#8c8c8c" stroke-width="0.8" />
<line x1="408.80" y1="126.10" x2="408.80" y2="127.90" stroke="#8c8c8c" stroke-width="0.8" />
<line x1="446.00" y1="126.10" x2="446.00" y2="127.90" stroke="#8c8c8c" stroke-width="0.8" />
<line x1="483.20" y1="126.10" x2="483.20" y2="127.90" stroke="#8c8c8c" stroke-width="0.8" />
<line x1="520.40" y1="126.10" x2="520.40" y2="127.90" stroke="#8c8c8c" stroke-width="0.8" />
<rect x="314.60" y="125.10" width="2.40" height="1.30" fill="#222" />
<rect x="345.40" y="48.71" width="15.20" height="77.98" fill="#000" />
<rect x="382.60" y="118.17" width="15.20" height="8.53" fill="#000" />
<line x1="390.20" y1="117.24" x2="390.20" y2="118.17" stroke="#555" stroke-width="1.0" />
<line x1="388.90" y1="117.64" x2="391.50" y2="117.64" stroke="#333" stroke-width="1.0" />
<rect x="419.80" y="86.83" width="15.20" height="39.87" fill="#000" />
<line x1="427.40" y1="84.98" x2="427.40" y2="86.83" stroke="#555" stroke-width="1.0" />
<line x1="426.10" y1="85.38" x2="428.70" y2="85.38" stroke="#333" stroke-width="1.0" />
<rect x="457.00" y="122.10" width="15.20" height="4.60" fill="#000" />
<line x1="464.60" y1="120.02" x2="464.60" y2="122.10" stroke="#555" stroke-width="1.0" />
<line x1="463.30" y1="120.42" x2="465.90" y2="120.42" stroke="#333" stroke-width="1.0" />
<rect x="494.20" y="74.05" width="15.20" height="52.65" fill="#000" />
<line x1="501.80" y1="71.28" x2="501.80" y2="74.05" stroke="#555" stroke-width="1.0" />
<line x1="500.50" y1="71.68" x2="503.10" y2="71.68" stroke="#333" stroke-width="1.0" />
<text transform="translate(305.80,148.90) rotate(-45)" font-size="7.7" font-weight="bold" text-anchor="middle">Auto-LCL</text>
<text transform="translate(343.40,146.00) rotate(-45)" font-size="7.7" font-weight="bold" text-anchor="middle">R-LCL</text>
<text transform="translate(343.40,146.00) rotate(-45)" font-size="7.7" font-weight="bold" x="-12.73" y="8.5">(Group2)</text>
<text transform="translate(380.60,146.00) rotate(-45)" font-size="7.7" font-weight="bold" text-anchor="middle">St-MEL</text>
<text transform="translate(380.60,146.00) rotate(-45)" font-size="7.7" font-weight="bold" x="-14.44" y="8.5">(Group1)</text>
<text transform="translate(417.80,146.00) rotate(-45)" font-size="7.7" font-weight="bold" text-anchor="middle">R-MEL</text>
<text transform="translate(417.80,146.00) rotate(-45)" font-size="7.7" font-weight="bold" x="-13.37" y="8.5">(Group2)</text>
<text transform="translate(455.00,146.00) rotate(-45)" font-size="7.7" font-weight="bold" text-anchor="middle">SJ-RCC</text>
<text transform="translate(455.00,146.00) rotate(-45)" font-size="7.7" font-weight="bold" x="-15.51" y="8.5">(Group1)</text>
<text transform="translate(492.20,146.00) rotate(-45)" font-size="7.7" font-weight="bold" text-anchor="middle">Wh-RCC</text>
<text transform="translate(492.20,146.00) rotate(-45)" font-size="7.7" font-weight="bold" x="-16.79" y="8.5">(Group2)</text>
<text x="33.00" y="219.20" font-size="11.5" font-weight="bold" text-anchor="start" fill="#000" >St NK Line (S-8): HLA-C-Group 1</text>
<line x1="29.40" y1="254.40" x2="29.40" y2="339.20" stroke="#a8a8a8" stroke-width="1" />
<line x1="29.40" y1="339.20" x2="240.00" y2="339.20" stroke="#a8a8a8" stroke-width="1" />
<line x1="27.60" y1="339.20" x2="29.40" y2="339.20" stroke="#a8a8a8" stroke-width="0.8" />
<text x="25.80" y="341.60" font-size="6.8" font-weight="bold" text-anchor="end" fill="#000" >0</text>
<line x1="27.60" y1="330.72" x2="29.40" y2="330.72" stroke="#a8a8a8" stroke-width="0.8" />
<text x="25.80" y="333.12" font-size="6.8" font-weight="bold" text-anchor="end" fill="#000" >10</text>
<line x1="27.60" y1="322.24" x2="29.40" y2="322.24" stroke="#a8a8a8" stroke-width="0.8" />
<text x="25.80" y="324.64" font-size="6.8" font-weight="bold" text-anchor="end" fill="#000" >20</text>
<line x1="27.60" y1="313.76" x2="29.40" y2="313.76" stroke="#a8a8a8" stroke-width="0.8" />
<text x="25.80" y="316.16" font-size="6.8" font-weight="bold" text-anchor="end" fill="#000" >30</text>
<line x1="27.60" y1="305.28" x2="29.40" y2="305.28" stroke="#a8a8a8" stroke-width="0.8" />
<text x="25.80" y="307.68" font-size="6.8" font-weight="bold" text-anchor="end" fill="#000" >40</text>
<line x1="27.60" y1="296.80" x2="29.40" y2="296.80" stroke="#a8a8a8" stroke-width="0.8" />
<text x="25.80" y="299.20" font-size="6.8" font-weight="bold" text-anchor="end" fill="#000" >50</text>
<line x1="27.60" y1="288.32" x2="29.40" y2="288.32" stroke="#a8a8a8" stroke-width="0.8" />
<text x="25.80" y="290.72" font-size="6.8" font-weight="bold" text-anchor="end" fill="#000" >60</text>
<line x1="27.60" y1="279.84" x2="29.40" y2="279.84" stroke="#a8a8a8" stroke-width="0.8" />
<text x="25.80" y="282.24" font-size="6.8" font-weight="bold" text-anchor="end" fill="#000" >70</text>
<line x1="27.60" y1="271.36" x2="29.40" y2="271.36" stroke="#a8a8a8" stroke-width="0.8" />
<text x="25.80" y="273.76" font-size="6.8" font-weight="bold" text-anchor="end" fill="#000" >80</text>
<line x1="27.60" y1="262.88" x2="29.40" y2="262.88" stroke="#a8a8a8" stroke-width="0.8" />
<text x="25.80" y="265.28" font-size="6.8" font-weight="bold" text-anchor="end" fill="#000" >90</text>
<line x1="27.60" y1="254.40" x2="29.40" y2="254.40" stroke="#a8a8a8" stroke-width="0.8" />
<text x="25.80" y="256.80" font-size="6.8" font-weight="bold" text-anchor="end" fill="#000" >100</text>
<line x1="82.05" y1="339.20" x2="82.05" y2="341.00" stroke="#a8a8a8" stroke-width="0.8" />
<line x1="134.70" y1="339.20" x2="134.70" y2="341.00" stroke="#a8a8a8" stroke-width="0.8" />
<line x1="187.35" y1="339.20" x2="187.35" y2="341.00" stroke="#a8a8a8" stroke-width="0.8" />
<line x1="240.00" y1="339.20" x2="240.00" y2="341.00" stroke="#a8a8a8" stroke-width="0.8" />
<rect x="45.72" y="258.22" width="21.00" height="81.28" fill="#000" />
<line x1="56.22" y1="253.21" x2="56.22" y2="258.22" stroke="#999" stroke-width="1.2" />
<line x1="55.02" y1="253.71" x2="57.42" y2="253.71" stroke="#555" stroke-width="1.0" />
<rect x="98.38" y="335.38" width="21.00" height="4.12" fill="#000" />
<line x1="108.88" y1="332.84" x2="108.88" y2="335.38" stroke="#999" stroke-width="1.2" />
<line x1="107.67" y1="333.34" x2="110.08" y2="333.34" stroke="#555" stroke-width="1.0" />
<rect x="151.03" y="277.72" width="21.00" height="61.78" fill="#000" />
<line x1="161.53" y1="269.32" x2="161.53" y2="277.72" stroke="#999" stroke-width="1.2" />
<line x1="160.33" y1="269.82" x2="162.72" y2="269.82" stroke="#555" stroke-width="1.0" />
<rect x="203.68" y="321.48" width="21.00" height="18.02" fill="#000" />
<line x1="214.18" y1="317.75" x2="214.18" y2="321.48" stroke="#999" stroke-width="1.2" />
<line x1="212.98" y1="318.25" x2="215.38" y2="318.25" stroke="#555" stroke-width="1.0" />
<text x="42.30" y="350.80" font-size="7.3" font-weight="bold" text-anchor="start" fill="#000" >R-LCL</text>
<text x="42.30" y="359.40" font-size="7.3" font-weight="bold" text-anchor="start" fill="#000" >(Group2)</text>
<text x="96.30" y="350.80" font-size="7.3" font-weight="bold" text-anchor="start" fill="#000" >St-LCL</text>
<text x="96.30" y="359.40" font-size="7.3" font-weight="bold" text-anchor="start" fill="#000" >(Group1)</text>
<text x="150.30" y="350.80" font-size="7.3" font-weight="bold" text-anchor="start" fill="#000" >R-Mel</text>
<text x="150.30" y="359.40" font-size="7.3" font-weight="bold" text-anchor="start" fill="#000" >(Group2)</text>
<text x="202.50" y="350.80" font-size="7.3" font-weight="bold" text-anchor="start" fill="#000" >St-Mel</text>
<text x="202.50" y="359.40" font-size="7.3" font-weight="bold" text-anchor="start" fill="#000" >(Group1)</text>
<text x="0.00" y="0.00" font-size="12.2" font-weight="bold" text-anchor="middle" fill="#000" transform="translate(11.2,304) rotate(-90)">% Lysis</text>
<text x="291.00" y="219.80" font-size="12.8" font-weight="bold" text-anchor="start" fill="#000" >MORRC NK Line (10): HLA-C-Group 2</text>
<line x1="299.20" y1="233.75" x2="299.20" y2="371.00" stroke="#a0a0a0" stroke-width="1" />
<line x1="299.20" y1="371.00" x2="520.50" y2="371.00" stroke="#a0a0a0" stroke-width="1" />
<line x1="297.20" y1="371.00" x2="299.20" y2="371.00" stroke="#a0a0a0" stroke-width="0.8" />
<text transform="translate(293.60,375.30) scale(0.93,1)" font-size="10" font-weight="bold" text-anchor="end" fill="#000" >0</text>
<line x1="297.20" y1="355.75" x2="299.20" y2="355.75" stroke="#a0a0a0" stroke-width="0.8" />
<text transform="translate(293.60,360.05) scale(0.93,1)" font-size="10" font-weight="bold" text-anchor="end" fill="#000" >5</text>
<line x1="297.20" y1="340.50" x2="299.20" y2="340.50" stroke="#a0a0a0" stroke-width="0.8" />
<text transform="translate(293.60,344.80) scale(0.93,1)" font-size="10" font-weight="bold" text-anchor="end" fill="#000" >10</text>
<line x1="297.20" y1="325.25" x2="299.20" y2="325.25" stroke="#a0a0a0" stroke-width="0.8" />
<text transform="translate(293.60,329.55) scale(0.93,1)" font-size="10" font-weight="bold" text-anchor="end" fill="#000" >15</text>
<line x1="297.20" y1="310.00" x2="299.20" y2="310.00" stroke="#a0a0a0" stroke-width="0.8" />
<text transform="translate(293.60,314.30) scale(0.93,1)" font-size="10" font-weight="bold" text-anchor="end" fill="#000" >20</text>
<line x1="297.20" y1="294.75" x2="299.20" y2="294.75" stroke="#a0a0a0" stroke-width="0.8" />
<text transform="translate(293.60,299.05) scale(0.93,1)" font-size="10" font-weight="bold" text-anchor="end" fill="#000" >25</text>
<line x1="297.20" y1="279.50" x2="299.20" y2="279.50" stroke="#a0a0a0" stroke-width="0.8" />
<text transform="translate(293.60,283.80) scale(0.93,1)" font-size="10" font-weight="bold" text-anchor="end" fill="#000" >30</text>
<line x1="297.20" y1="264.25" x2="299.20" y2="264.25" stroke="#a0a0a0" stroke-width="0.8" />
<text transform="translate(293.60,268.55) scale(0.93,1)" font-size="10" font-weight="bold" text-anchor="end" fill="#000" >35</text>
<line x1="297.20" y1="249.00" x2="299.20" y2="249.00" stroke="#a0a0a0" stroke-width="0.8" />
<text transform="translate(293.60,253.30) scale(0.93,1)" font-size="10" font-weight="bold" text-anchor="end" fill="#000" >40</text>
<line x1="297.20" y1="233.75" x2="299.20" y2="233.75" stroke="#a0a0a0" stroke-width="0.8" />
<text transform="translate(293.60,238.05) scale(0.93,1)" font-size="10" font-weight="bold" text-anchor="end" fill="#000" >45</text>
<line x1="299.20" y1="371.00" x2="299.20" y2="373.00" stroke="#a0a0a0" stroke-width="0.8" />
<line x1="344.30" y1="371.00" x2="344.30" y2="373.00" stroke="#a0a0a0" stroke-width="0.8" />
<line x1="389.40" y1="371.00" x2="389.40" y2="373.00" stroke="#a0a0a0" stroke-width="0.8" />
<line x1="434.50" y1="371.00" x2="434.50" y2="373.00" stroke="#a0a0a0" stroke-width="0.8" />
<line x1="479.60" y1="371.00" x2="479.60" y2="373.00" stroke="#a0a0a0" stroke-width="0.8" />
<line x1="524.70" y1="371.00" x2="524.70" y2="373.00" stroke="#a0a0a0" stroke-width="0.8" />
<text transform="translate(321.90,384.80) scale(0.92,1)" font-size="10.6" font-weight="bold" text-anchor="middle" fill="#000" >1.25</text>
<text transform="translate(367.30,384.80) scale(0.92,1)" font-size="10.6" font-weight="bold" text-anchor="middle" fill="#000" >2.5</text>
<text transform="translate(412.10,384.80) scale(0.92,1)" font-size="10.6" font-weight="bold" text-anchor="middle" fill="#000" >5</text>
<text transform="translate(457.20,384.80) scale(0.92,1)" font-size="10.6" font-weight="bold" text-anchor="middle" fill="#000" >10</text>
<text transform="translate(502.40,384.80) scale(0.92,1)" font-size="10.6" font-weight="bold" text-anchor="middle" fill="#000" >20</text>
<text x="397.30" y="412.00" font-size="11.2" font-weight="bold" text-anchor="middle" fill="#000" >E/T Ratio</text>
<text x="0.00" y="0.00" font-size="13.1" font-weight="bold" text-anchor="middle" fill="#000" transform="translate(277.3,317.8) rotate(-90)">% Lysis</text>
<polyline points="321.9,371.0 367.3,371.0 412.1,371.0 457.2,371.0 502.4,371.0" fill="none" stroke="#000" stroke-width="1.6"/>
<polyline points="321.9,280.7 367.3,263.6 412.1,275.5 457.2,249.3 502.4,247.2" fill="none" stroke="#000" stroke-width="1.3"/>
<polyline points="321.9,356.1 367.3,350.6 412.1,350.6 457.2,337.4 502.4,312.1" fill="none" stroke="#000" stroke-width="1.3"/>
<circle cx="321.9" cy="280.7" r="2.7" fill="none" stroke="#555" stroke-width="0.9"/>
<circle cx="367.3" cy="263.6" r="2.7" fill="none" stroke="#555" stroke-width="0.9"/>
<circle cx="412.1" cy="275.5" r="2.7" fill="none" stroke="#555" stroke-width="0.9"/>
<circle cx="457.2" cy="249.3" r="2.7" fill="none" stroke="#555" stroke-width="0.9"/>
<circle cx="502.4" cy="247.2" r="2.7" fill="none" stroke="#555" stroke-width="0.9"/>
<rect x="319.10" y="353.25" width="5.60" height="5.60" fill="#000" />
<rect x="364.50" y="347.76" width="5.60" height="5.60" fill="#000" />
<rect x="409.30" y="347.76" width="5.60" height="5.60" fill="#000" />
<rect x="454.40" y="334.65" width="5.60" height="5.60" fill="#000" />
<rect x="499.60" y="309.33" width="5.60" height="5.60" fill="#000" />
<path d="M321.9 368.3L325.4 373.7L318.4 373.7Z" fill="#000"/>
<path d="M321.9 368.0L324.9 371.0L321.9 374.0L318.9 371.0Z" fill="#000"/>
<path d="M318.9 368.0L324.9 374.0M324.9 368.0L318.9 374.0M321.9 368.0L321.9 374.0" stroke="#000" stroke-width="0.8" fill="none"/>
<path d="M367.3 368.3L370.8 373.7L363.8 373.7Z" fill="#000"/>
<path d="M367.3 368.0L370.3 371.0L367.3 374.0L364.3 371.0Z" fill="#000"/>
<path d="M364.3 368.0L370.3 374.0M370.3 368.0L364.3 374.0M367.3 368.0L367.3 374.0" stroke="#000" stroke-width="0.8" fill="none"/>
<path d="M412.1 368.3L415.6 373.7L408.6 373.7Z" fill="#000"/>
<path d="M412.1 368.0L415.1 371.0L412.1 374.0L409.1 371.0Z" fill="#000"/>
<path d="M409.1 368.0L415.1 374.0M415.1 368.0L409.1 374.0M412.1 368.0L412.1 374.0" stroke="#000" stroke-width="0.8" fill="none"/>
<path d="M457.2 368.3L460.7 373.7L453.7 373.7Z" fill="#000"/>
<path d="M457.2 368.0L460.2 371.0L457.2 374.0L454.2 371.0Z" fill="#000"/>
<path d="M454.2 368.0L460.2 374.0M460.2 368.0L454.2 374.0M457.2 368.0L457.2 374.0" stroke="#000" stroke-width="0.8" fill="none"/>
<path d="M502.4 368.3L505.9 373.7L498.9 373.7Z" fill="#000"/>
<path d="M502.4 368.0L505.4 371.0L502.4 374.0L499.4 371.0Z" fill="#000"/>
<path d="M499.4 368.0L505.4 374.0M505.4 368.0L499.4 374.0M502.4 368.0L502.4 374.0" stroke="#000" stroke-width="0.8" fill="none"/>
<line x1="304.60" y1="228.90" x2="317.70" y2="228.90" stroke="#000" stroke-width="1.3" />
<path d="M311.1 226.3L313.70000000000005 228.9L311.1 231.5L308.5 228.9Z" fill="#000"/>
<text x="320.00" y="231.20" font-size="7.1" font-weight="bold" text-anchor="start" fill="#000" >R-Mel(Group2)</text>
<line x1="304.60" y1="240.50" x2="317.70" y2="240.50" stroke="#000" stroke-width="1.3" />
<rect x="308.40" y="237.80" width="5.40" height="5.40" fill="#000" />
<text x="320.00" y="242.80" font-size="7.1" font-weight="bold" text-anchor="start" fill="#000" >St-Mel(Group1)</text>
<line x1="304.60" y1="252.10" x2="317.70" y2="252.10" stroke="#000" stroke-width="1.3" />
<path d="M311.1 249.48999999999998L314.0 254.71L308.20000000000005 254.71Z" fill="#000"/>
<text x="320.00" y="254.40" font-size="7.1" font-weight="bold" text-anchor="start" fill="#000" >R-LCL(Group2)</text>
<line x1="385.80" y1="228.50" x2="398.20" y2="228.50" stroke="#000" stroke-width="1.2" />
<circle cx="392" cy="228.5" r="2.5" fill="none" stroke="#333" stroke-width="0.9"/>
<line x1="386.00" y1="240.00" x2="397.50" y2="240.00" stroke="#777" stroke-width="0.8" />
<path d="M389.4 237.4L394.6 242.6M394.6 237.4L389.4 242.6M392 237.4L392 242.6" stroke="#222" stroke-width="0.8" fill="none"/>
<text x="400.00" y="230.60" font-size="7.1" font-weight="bold" text-anchor="start" fill="#000" >St-LCL(Group1)</text>
<text x="400.80" y="242.30" font-size="7.1" font-weight="bold" text-anchor="start" fill="#000" >Auto-PHA Blast</text>
</svg>
</body></html>
